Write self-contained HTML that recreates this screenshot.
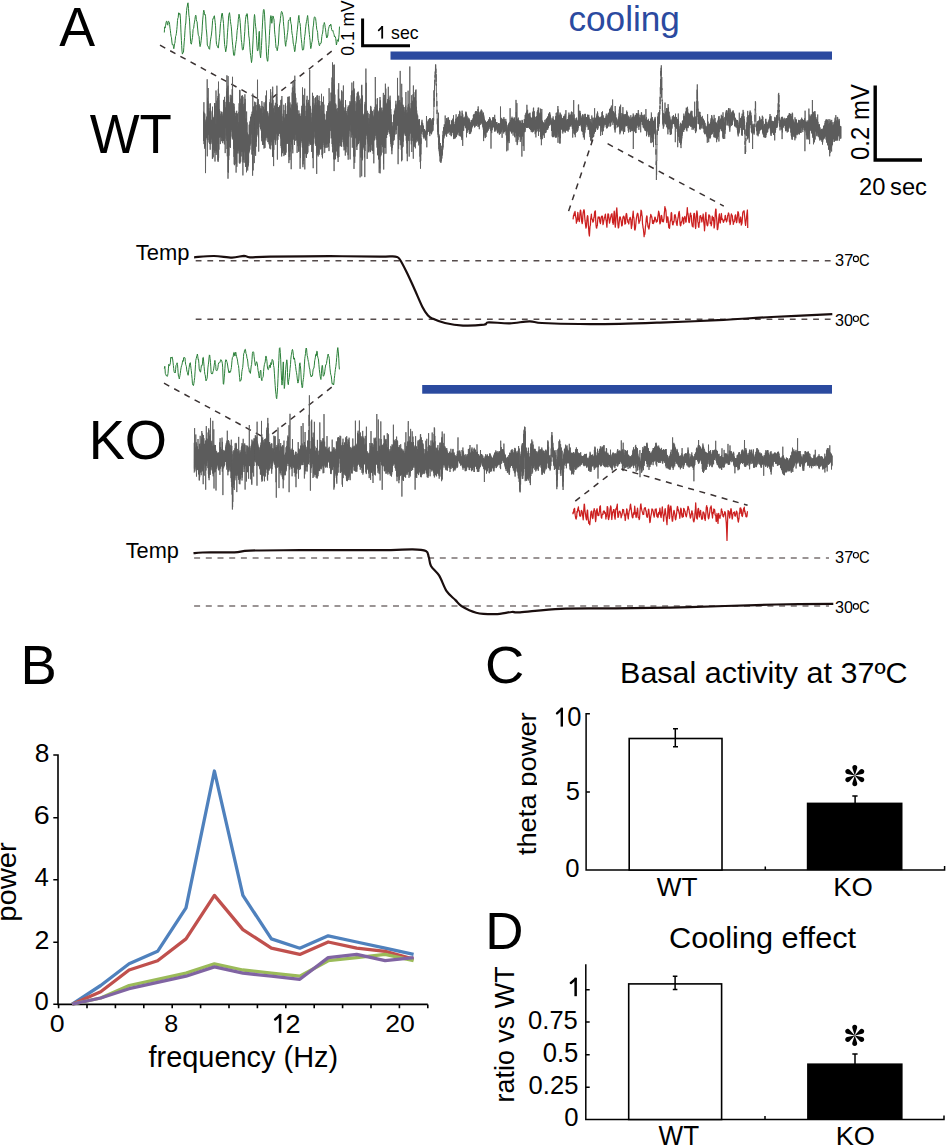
<!DOCTYPE html>
<html><head><meta charset="utf-8"><title>Figure</title>
<style>html,body{margin:0;padding:0;background:#fff;}svg{display:block;}</style></head>
<body><svg width="946" height="1146" viewBox="0 0 946 1146" font-family="'Liberation Sans', sans-serif">
<rect width="946" height="1146" fill="#fff"/>
<text transform="translate(59.23,45.5) scale(0.9773,1)" font-size="55.04" fill="#000" >A</text>
<polyline points="164.3,32.5 164.5,29.3 164.8,26.9 165.1,27.9 165.4,25.9 165.7,25.1 166.1,22.3 166.5,21.2 166.9,21.5 167.4,24.5 167.8,25.2 168.2,21.4 168.6,21.2 168.9,21.8 169.3,22.3 169.6,24.4 170.0,28.2 170.4,30.7 170.7,33.7 171.1,36.3 171.5,37.8 171.9,42.0 172.3,44.6 172.6,44.1 173.0,44.6 173.4,46.4 173.8,48.7 174.1,47.2 174.5,43.7 174.9,43.2 175.2,40.3 175.6,36.3 176.0,35.4 176.4,33.3 176.8,29.4 177.1,26.4 177.5,20.4 177.9,18.1 178.2,17.7 178.6,12.9 178.9,12.8 179.2,14.5 179.5,13.6 180.0,13.5 180.4,18.1 180.7,24.8 181.0,32.8 181.4,40.4 181.7,45.5 182.0,51.1 182.4,54.1 182.8,53.0 183.1,52.8 183.5,52.0 183.8,47.6 184.2,41.9 184.6,37.4 185.0,30.2 185.4,25.2 185.8,23.0 186.2,15.6 186.6,10.7 186.9,7.9 187.3,6.1 187.6,3.9 188.0,2.8 188.5,8.5 188.9,15.1 189.3,17.6 189.6,21.9 190.0,30.6 190.3,35.9 190.6,41.6 190.9,43.7 191.4,44.1 191.7,42.5 192.0,40.1 192.5,37.5 192.8,33.7 193.1,29.4 193.4,28.7 193.7,28.2 194.1,24.3 194.5,22.1 194.9,19.6 195.3,16.5 195.7,15.2 196.0,15.8 196.3,19.6 196.7,21.2 197.1,21.8 197.4,26.0 197.8,30.0 198.2,34.2 198.6,35.7 199.0,36.1 199.3,39.8 199.7,44.7 200.1,46.6 200.4,45.7 200.8,43.2 201.2,40.3 201.6,36.2 202.0,31.8 202.3,25.9 202.7,19.9 203.1,15.8 203.4,12.4 203.8,10.2 204.2,11.5 204.5,13.8 204.9,15.0 205.2,14.6 205.6,16.8 205.9,23.0 206.2,28.8 206.6,32.0 207.0,37.4 207.3,45.1 207.7,45.9 208.1,46.1 208.5,47.6 208.8,48.5 209.2,48.9 209.6,49.3 209.9,46.0 210.3,41.9 210.7,39.1 211.1,36.8 211.5,34.0 211.9,30.2 212.3,25.1 212.6,20.5 213.0,18.3 213.4,18.1 213.7,18.4 214.0,16.1 214.4,15.8 214.8,19.2 215.2,22.7 215.5,25.7 215.8,31.9 216.2,40.4 216.5,44.2 216.8,44.8 217.2,46.3 217.6,46.4 217.9,47.5 218.3,48.1 218.6,45.1 219.0,41.3 219.4,37.8 219.8,33.7 220.2,28.0 220.5,23.4 220.9,21.5 221.3,18.1 221.6,15.0 222.0,13.4 222.3,13.1 222.7,16.2 223.1,19.6 223.5,23.6 223.9,30.7 224.2,37.7 224.6,44.5 224.9,46.5 225.3,48.9 225.7,51.8 226.1,49.8 226.4,48.2 226.8,44.7 227.1,39.6 227.5,32.8 227.9,27.6 228.3,21.9 228.7,15.7 229.1,14.0 229.5,12.7 229.8,14.9 230.2,18.6 230.5,21.7 230.9,24.5 231.2,26.2 231.6,31.1 232.0,37.2 232.3,41.1 232.7,45.2 233.1,49.6 233.5,54.0 233.8,55.4 234.2,55.6 234.6,55.1 234.9,51.3 235.3,48.5 235.7,44.8 236.1,41.7 236.5,39.7 236.8,35.2 237.2,30.4 237.6,27.8 238.0,23.8 238.3,19.4 238.7,16.9 239.0,14.2 239.4,16.1 239.8,18.5 240.2,22.3 240.6,28.9 241.0,34.6 241.3,39.8 241.7,42.5 242.1,46.9 242.4,49.8 242.8,50.1 243.2,49.6 243.6,46.9 244.0,42.6 244.4,36.9 244.8,31.5 245.1,24.7 245.5,19.8 245.9,16.5 246.3,14.9 246.6,16.2 247.0,13.6 247.4,15.0 247.8,20.8 248.1,24.3 248.5,30.2 248.8,35.9 249.2,38.1 249.5,41.9 249.9,47.8 250.3,52.7 250.7,55.6 251.1,59.2 251.5,62.6 251.9,59.9 252.3,54.6 252.6,49.1 253.0,40.9 253.3,34.1 253.7,27.0 254.1,18.3 254.5,14.5 254.8,16.2 255.2,22.2 255.6,26.3 256.0,29.2 256.4,35.6 256.7,40.9 257.1,47.6 257.4,50.7 257.7,50.9 258.2,49.3 258.6,41.9 259.0,33.0 259.3,31.3 259.7,41.1 260.0,53.3 260.6,57.8 260.9,54.2 261.2,50.5 261.5,45.4 261.9,37.6 262.2,29.7 262.6,22.1 263.0,14.5 263.4,10.3 263.8,9.4 264.1,10.0 264.5,14.1 264.9,21.4 265.2,28.0 265.6,34.0 266.0,42.3 266.4,51.9 266.7,56.9 267.1,59.1 267.4,61.1 267.8,61.3 268.2,55.5 268.6,48.5 269.0,44.4 269.4,35.4 269.8,28.5 270.1,23.9 270.4,18.0 270.9,15.6 271.2,16.3 271.5,18.4 271.8,23.3 272.1,21.1 272.4,17.6 272.8,16.1 273.3,16.3 273.6,18.6 273.9,18.7 274.2,22.4 274.5,29.9 274.9,34.4 275.3,37.7 275.7,43.7 276.1,48.0 276.5,48.1 276.9,48.8 277.2,50.7 277.6,49.1 277.9,46.3 278.3,44.9 278.6,40.0 279.0,32.9 279.3,27.0 279.7,23.8 280.1,22.0 280.4,18.7 280.8,15.4 281.2,12.7 281.5,11.4 281.9,11.8 282.3,12.8 282.7,14.7 283.1,16.9 283.4,21.7 283.8,26.4 284.2,30.0 284.6,35.7 284.9,39.7 285.3,44.2 285.7,46.3 286.1,42.3 286.5,40.7 286.8,39.5 287.2,35.0 287.6,32.6 288.0,29.1 288.3,21.5 288.7,20.2 289.1,20.5 289.5,19.8 289.9,19.4 290.3,17.3 290.6,21.1 291.0,23.5 291.4,24.8 291.7,30.6 292.1,33.9 292.5,35.6 292.9,38.9 293.2,43.0 293.6,44.7 294.0,46.5 294.3,49.3 294.7,51.7 295.1,50.0 295.5,44.7 295.9,43.0 296.3,40.1 296.7,35.7 297.0,32.2 297.4,29.2 297.8,24.9 298.2,20.7 298.5,16.9 298.9,15.4 299.3,20.4 299.6,22.7 300.0,23.3 300.4,26.4 300.7,31.8 301.1,37.4 301.4,39.6 301.8,43.7 302.2,48.1 302.5,50.1 302.9,49.8 303.2,50.1 303.6,49.4 304.0,44.8 304.3,40.5 304.7,36.5 305.1,33.9 305.4,29.9 305.8,26.3 306.1,23.9 306.5,21.5 306.9,19.9 307.2,17.7 307.6,15.5 307.9,17.8 308.3,23.6 308.7,27.1 309.0,30.9 309.4,34.5 309.7,37.5 310.1,40.7 310.4,45.5 310.8,48.6 311.1,47.2 311.5,44.7 311.8,42.5 312.1,41.8 312.5,38.1 312.8,31.0 313.1,27.2 313.5,25.1 313.8,20.9 314.2,17.7 314.6,16.8 314.9,17.0 315.3,17.8 315.6,18.4 316.0,21.7 316.4,25.7 316.8,29.5 317.2,30.5 317.6,32.4 318.0,38.7 318.3,40.4 318.7,42.1 319.1,44.8 319.5,45.8 319.9,44.4 320.3,43.0 320.7,43.4 321.1,43.1 321.5,40.1 321.8,36.6 322.2,34.4 322.6,33.1 323.0,29.5 323.3,25.1 323.7,24.7 324.0,23.8 324.3,22.5 324.8,24.3 325.2,27.4 325.5,29.1 325.9,32.7 326.2,35.0 326.5,36.9 326.9,38.0 327.2,35.6 327.5,36.6 327.8,35.6 328.1,31.7 328.4,29.3 328.7,28.3 329.1,26.8 329.6,25.1 330.1,25.9 330.4,25.3 330.7,24.1 331.0,24.9 331.3,27.3 331.7,29.7 332.1,30.8 332.5,30.8 332.9,30.4 333.3,32.4 333.7,33.4 334.1,34.6 334.5,37.0 334.9,36.5 335.3,36.8 335.7,38.4 336.0,41.3 336.4,45.0 336.7,43.8 337.0,41.6 337.3,39.7 337.5,40.1 338.3,41.5 338.8,37.2 339.1,34.2 339.3,30.1 339.5,26.6" fill="none" stroke="#2a8038" stroke-width="1" stroke-linejoin="round"/>
<line x1="160" y1="45.2" x2="257.4" y2="98.4" stroke="#3a3232" stroke-width="1.5" stroke-dasharray="6 5.6" fill="none"/>
<line x1="331.7" y1="51.2" x2="271.5" y2="98.4" stroke="#3a3232" stroke-width="1.5" stroke-dasharray="6 5.6" fill="none"/>
<path d="M362.6,18.5 V45.8 H410" fill="none" stroke="#000" stroke-width="3"/>
<rect x="381.3" y="26" width="1.8" height="12.6" fill="#000"/><line x1="382.2" y1="26.9" x2="378.7" y2="30.4" stroke="#000" stroke-width="1.71" stroke-linecap="round"/>
<text transform="translate(391.07,38.62) scale(1.0017,1)" font-size="17.64" fill="#000" >sec</text>
<text transform="translate(354.31,55.7) rotate(-90) scale(0.9206,1)" font-size="19.01" fill="#000" >0.1 mV</text>
<text transform="translate(568.42,31.48) scale(1.0095,1)" font-size="34.87" fill="#2b4aa0" >cooling</text>
<rect x="390.5" y="51.5" width="441.5" height="8.2" fill="#2b4a9f"/>
<text transform="translate(89.74,152.8) scale(0.9497,1)" font-size="55.65" fill="#000" >WT</text>
<polyline points="203.5,135.8 203.6,111.7 203.7,141.0 203.9,102.2 204.0,144.1 204.1,112.8 204.2,139.6 204.3,115.9 204.5,147.1 204.6,114.7 204.7,148.7 204.8,113.6 204.9,146.1 205.1,121.6 205.2,145.8 205.3,124.2 205.4,140.9 205.5,173.1 205.7,141.7 205.8,129.0 205.9,139.6 206.0,119.6 206.1,136.0 206.3,120.3 206.4,137.9 206.5,121.9 206.6,137.2 206.7,116.6 206.9,137.9 207.0,118.4 207.1,133.1 207.2,79.3 207.3,156.3 207.5,97.8 207.6,134.1 207.7,101.6 207.8,140.1 207.9,100.9 208.1,133.3 208.2,88.0 208.3,135.1 208.4,109.9 208.5,132.3 208.7,114.9 208.8,130.6 208.9,108.1 209.0,142.5 209.1,111.9 209.3,140.1 209.4,115.9 209.5,144.0 209.6,112.0 209.7,142.7 209.9,110.9 210.0,143.9 210.1,103.7 210.2,149.7 210.3,103.3 210.5,141.8 210.6,113.0 210.7,144.2 210.8,111.5 210.9,143.7 211.1,122.8 211.2,138.0 211.3,119.7 211.4,135.1 211.5,120.6 211.7,135.9 211.8,121.5 211.9,139.5 212.0,121.9 212.1,142.3 212.3,110.6 212.4,158.7 212.5,106.7 212.6,158.5 212.7,117.0 212.9,157.5 213.0,117.3 213.1,156.8 213.2,118.3 213.3,149.9 213.5,125.1 213.6,142.0 213.7,129.3 213.8,147.6 213.9,118.0 214.1,141.3 214.2,116.7 214.3,145.5 214.4,114.6 214.5,150.9 214.7,103.0 214.8,152.8 214.9,103.2 215.0,161.5 215.1,105.8 215.3,150.8 215.4,126.4 215.5,143.4 215.6,123.8 215.7,150.2 215.9,130.1 216.0,90.5 216.1,130.3 216.2,154.9 216.3,126.8 216.5,150.9 216.6,125.9 216.7,100.7 216.8,118.0 216.9,152.5 217.1,119.9 217.2,142.2 217.3,106.1 217.4,139.2 217.5,98.2 217.7,143.7 217.8,108.5 217.9,160.5 218.0,96.0 218.1,161.9 218.3,88.8 218.4,160.1 218.5,81.6 218.6,157.9 218.7,100.2 218.9,149.7 219.0,93.6 219.1,137.7 219.2,109.2 219.3,137.3 219.5,111.1 219.6,134.1 219.7,113.2 219.8,133.7 219.9,110.9 220.1,134.5 220.2,122.3 220.3,144.1 220.4,122.1 220.5,137.0 220.7,115.8 220.8,133.6 220.9,113.9 221.0,136.5 221.1,116.2 221.3,138.1 221.4,119.2 221.5,137.2 221.6,111.7 221.7,141.2 221.9,111.9 222.0,134.7 222.1,117.0 222.2,141.1 222.3,117.1 222.5,135.9 222.6,116.1 222.7,143.2 222.8,115.6 222.9,138.0 223.1,114.0 223.2,139.1 223.3,112.9 223.4,140.7 223.5,99.9 223.7,141.1 223.8,109.5 223.9,140.3 224.0,114.6 224.1,138.1 224.3,107.3 224.4,144.4 224.5,96.9 224.6,138.6 224.7,104.9 224.9,138.6 225.0,101.9 225.1,132.5 225.2,153.1 225.3,128.3 225.5,108.3 225.6,128.4 225.7,110.1 225.8,124.1 225.9,107.1 226.1,127.8 226.2,108.1 226.3,135.4 226.4,95.7 226.5,128.9 226.7,91.4 226.8,140.8 226.9,75.3 227.0,149.0 227.1,88.4 227.3,156.3 227.4,94.4 227.5,146.7 227.6,87.6 227.7,148.2 227.9,85.7 228.0,178.7 228.1,76.1 228.2,172.2 228.3,96.7 228.5,172.6 228.6,96.7 228.7,160.0 228.8,109.5 228.9,155.7 229.1,106.1 229.2,140.0 229.3,102.2 229.4,133.8 229.5,106.3 229.7,139.4 229.8,112.2 229.9,147.2 230.0,104.3 230.1,146.6 230.3,94.8 230.4,147.9 230.5,99.6 230.6,139.5 230.7,104.3 230.9,136.6 231.0,98.4 231.1,128.1 231.2,99.2 231.3,126.0 231.5,98.6 231.6,130.2 231.7,95.4 231.8,130.1 231.9,104.1 232.1,132.1 232.2,89.1 232.3,138.4 232.4,95.2 232.5,76.8 232.7,110.1 232.8,139.5 232.9,105.9 233.0,137.2 233.1,105.5 233.3,133.0 233.4,103.3 233.5,146.0 233.6,106.2 233.7,149.0 233.9,106.8 234.0,156.9 234.1,103.8 234.2,164.4 234.3,123.1 234.5,165.2 234.6,111.0 234.7,163.7 234.8,120.2 234.9,156.0 235.1,128.5 235.2,159.7 235.3,112.8 235.4,159.0 235.5,127.7 235.7,159.2 235.8,116.4 235.9,164.3 236.0,116.2 236.1,172.6 236.3,113.2 236.4,159.2 236.5,121.5 236.6,162.5 236.7,110.8 236.9,166.8 237.0,127.5 237.1,146.4 237.2,113.2 237.3,150.6 237.5,114.0 237.6,153.4 237.7,127.2 237.8,147.7 237.9,126.2 238.1,143.1 238.2,126.8 238.3,143.8 238.4,126.1 238.5,149.1 238.7,122.2 238.8,151.3 238.9,111.9 239.0,153.5 239.1,103.3 239.3,162.9 239.4,106.7 239.5,161.8 239.6,89.9 239.7,163.5 239.9,90.2 240.0,163.3 240.1,103.6 240.2,155.4 240.3,103.1 240.5,156.1 240.6,109.4 240.7,161.8 240.8,98.7 240.9,149.1 241.1,113.6 241.2,156.4 241.3,106.0 241.4,146.4 241.5,95.8 241.7,151.8 241.8,100.8 241.9,140.9 242.0,118.7 242.1,152.1 242.3,111.9 242.4,148.0 242.5,95.3 242.6,150.2 242.7,106.9 242.9,175.4 243.0,96.7 243.1,162.5 243.2,103.9 243.3,159.5 243.5,111.4 243.6,152.1 243.7,110.2 243.8,159.9 243.9,106.6 244.1,152.4 244.2,124.5 244.3,149.9 244.4,111.0 244.5,150.9 244.7,102.7 244.8,162.7 244.9,94.3 245.0,147.4 245.1,98.9 245.3,102.9 245.4,163.0 245.5,166.9 245.6,119.2 245.7,154.3 245.9,118.5 246.0,158.3 246.1,126.0 246.2,162.8 246.3,124.1 246.5,172.3 246.6,111.5 246.7,163.2 246.8,132.6 246.9,164.3 247.1,122.4 247.2,168.6 247.3,132.7 247.4,162.1 247.5,134.7 247.7,170.5 247.8,136.9 247.9,166.8 248.0,136.6 248.1,162.0 248.3,134.4 248.4,165.4 248.5,138.8 248.6,162.8 248.7,135.7 248.9,153.3 249.0,137.8 249.1,151.5 249.2,124.7 249.3,151.3 249.5,125.1 249.6,149.9 249.7,125.9 249.8,149.5 249.9,121.5 250.1,145.6 250.2,124.2 250.3,143.9 250.4,120.3 250.5,135.9 250.7,116.7 250.8,131.1 250.9,117.6 251.0,131.6 251.1,116.9 251.3,134.4 251.4,114.2 251.5,131.9 251.6,117.6 251.7,138.7 251.9,154.5 252.0,131.6 252.1,111.7 252.2,143.6 252.3,115.5 252.5,155.5 252.6,175.7 252.7,155.3 252.8,93.6 252.9,148.1 253.1,110.8 253.2,170.4 253.3,113.6 253.4,150.9 253.5,106.5 253.7,136.8 253.8,107.3 253.9,147.9 254.0,122.2 254.1,153.5 254.3,163.1 254.4,153.7 254.5,122.7 254.6,101.7 254.7,115.1 254.9,154.3 255.0,112.8 255.1,137.6 255.2,105.8 255.3,147.3 255.5,110.7 255.6,155.8 255.7,102.3 255.8,147.0 255.9,114.3 256.1,146.4 256.2,104.9 256.3,133.9 256.4,115.1 256.5,141.8 256.7,113.0 256.8,136.6 256.9,111.1 257.0,125.3 257.1,110.0 257.3,127.4 257.4,104.3 257.5,79.7 257.6,97.8 257.7,128.8 257.9,102.6 258.0,135.1 258.1,113.3 258.2,133.8 258.3,99.1 258.5,138.1 258.6,106.6 258.7,151.6 258.8,106.7 258.9,120.8 259.1,106.5 259.2,122.3 259.3,104.4 259.4,114.3 259.5,107.0 259.7,122.1 259.8,107.8 259.9,123.8 260.0,105.8 260.1,127.1 260.3,108.5 260.4,127.7 260.5,111.1 260.6,129.3 260.7,110.4 260.9,127.4 261.0,111.4 261.1,128.6 261.2,114.5 261.3,131.0 261.5,114.5 261.6,137.9 261.7,108.7 261.8,140.9 261.9,101.1 262.1,136.3 262.2,105.9 262.3,142.1 262.4,116.8 262.5,141.8 262.7,116.2 262.8,144.9 262.9,113.2 263.0,144.9 263.1,118.3 263.3,144.9 263.4,120.7 263.5,140.6 263.6,106.8 263.7,142.5 263.9,112.3 264.0,148.6 264.1,102.3 264.2,143.1 264.3,114.9 264.5,134.6 264.6,115.8 264.7,147.5 264.8,109.6 264.9,148.0 265.1,109.4 265.2,134.4 265.3,103.9 265.4,135.9 265.5,101.2 265.7,138.4 265.8,95.5 265.9,140.5 266.0,103.1 266.1,128.7 266.3,106.1 266.4,137.7 266.5,90.6 266.6,133.2 266.7,114.0 266.9,133.6 267.0,116.8 267.1,134.5 267.2,112.1 267.3,132.3 267.5,117.8 267.6,137.8 267.7,111.3 267.8,142.1 267.9,113.0 268.1,134.7 268.2,116.5 268.3,139.0 268.4,121.6 268.5,138.0 268.7,116.7 268.8,142.1 268.9,123.8 269.0,144.3 269.1,114.5 269.3,142.3 269.4,118.8 269.5,144.3 269.6,104.1 269.7,148.5 269.9,102.2 270.0,145.5 270.1,102.3 270.2,140.8 270.3,99.1 270.5,138.1 270.6,89.2 270.7,149.3 270.8,95.6 270.9,138.9 271.1,106.7 271.2,142.1 271.3,106.6 271.4,139.9 271.5,103.6 271.7,137.3 271.8,110.7 271.9,145.4 272.0,102.9 272.1,142.2 272.3,92.2 272.4,144.3 272.5,91.6 272.6,156.9 272.7,86.7 272.9,156.0 273.0,100.1 273.1,147.7 273.2,108.0 273.3,157.1 273.5,109.2 273.6,166.1 273.7,118.5 273.8,149.9 273.9,119.4 274.1,131.0 274.2,113.1 274.3,138.7 274.4,105.6 274.5,128.7 274.7,112.9 274.8,140.1 274.9,112.3 275.0,137.3 275.1,114.8 275.3,142.6 275.4,102.8 275.5,134.5 275.6,106.8 275.7,144.8 275.9,110.4 276.0,140.5 276.1,107.5 276.2,132.4 276.3,95.6 276.5,129.8 276.6,96.6 276.7,134.2 276.8,98.8 276.9,85.7 277.1,96.4 277.2,138.4 277.3,108.8 277.4,159.6 277.5,104.1 277.7,134.8 277.8,107.0 277.9,139.8 278.0,109.9 278.1,135.4 278.3,107.1 278.4,135.8 278.5,110.0 278.6,128.9 278.7,107.7 278.9,132.9 279.0,113.2 279.1,133.1 279.2,111.8 279.3,133.9 279.5,106.4 279.6,131.8 279.7,105.9 279.8,127.3 279.9,105.4 280.1,133.1 280.2,112.9 280.3,136.8 280.4,111.2 280.5,136.9 280.7,112.7 280.8,138.5 280.9,100.1 281.0,146.0 281.1,110.4 281.3,148.2 281.4,99.3 281.5,155.3 281.6,113.5 281.7,156.5 281.9,96.0 282.0,148.5 282.1,116.3 282.2,152.8 282.3,121.0 282.5,147.1 282.6,122.7 282.7,153.2 282.8,127.2 282.9,144.7 283.1,122.8 283.2,146.3 283.3,113.9 283.4,149.8 283.5,122.3 283.7,151.1 283.8,104.8 283.9,156.1 284.0,110.1 284.1,150.9 284.3,128.4 284.4,154.5 284.5,124.4 284.6,154.2 284.7,117.6 284.9,153.3 285.0,119.0 285.1,146.9 285.2,119.0 285.3,154.8 285.5,103.3 285.6,154.8 285.7,105.8 285.8,143.2 285.9,118.5 286.1,152.6 286.2,117.7 286.3,144.1 286.4,114.0 286.5,136.5 286.7,120.0 286.8,143.5 286.9,115.1 287.0,141.7 287.1,114.4 287.3,140.2 287.4,110.6 287.5,140.8 287.6,105.1 287.7,143.8 287.9,96.9 288.0,143.3 288.1,101.9 288.2,138.6 288.3,96.8 288.5,143.5 288.6,102.3 288.7,151.5 288.8,108.5 288.9,163.1 289.1,103.5 289.2,157.0 289.3,96.4 289.4,142.6 289.5,114.5 289.7,156.5 289.8,104.3 289.9,160.1 290.0,102.4 290.1,151.6 290.3,109.9 290.4,137.8 290.5,107.7 290.6,141.7 290.7,110.7 290.9,134.4 291.0,109.4 291.1,138.1 291.2,169.2 291.3,145.8 291.5,117.0 291.6,143.8 291.7,104.5 291.8,142.8 291.9,115.2 292.1,144.9 292.2,92.6 292.3,147.0 292.4,87.5 292.5,149.4 292.7,91.6 292.8,153.3 292.9,89.2 293.0,81.3 293.1,84.3 293.3,138.9 293.4,102.7 293.5,128.9 293.6,91.2 293.7,139.7 293.9,102.3 294.0,124.7 294.1,86.0 294.2,137.4 294.3,81.7 294.5,145.0 294.6,88.1 294.7,131.4 294.8,75.7 294.9,130.3 295.1,96.0 295.2,133.7 295.3,93.5 295.4,140.7 295.5,99.0 295.7,131.4 295.8,97.8 295.9,134.6 296.0,112.9 296.1,134.6 296.3,104.1 296.4,140.3 296.5,110.2 296.6,137.9 296.7,113.2 296.9,140.1 297.0,102.6 297.1,152.9 297.2,105.6 297.3,142.7 297.5,114.3 297.6,143.4 297.7,110.1 297.8,146.2 297.9,114.3 298.1,140.6 298.2,114.4 298.3,142.3 298.4,117.0 298.5,150.2 298.7,114.5 298.8,151.9 298.9,110.5 299.0,151.4 299.1,114.5 299.3,145.6 299.4,114.8 299.5,145.6 299.6,114.4 299.7,140.6 299.9,113.4 300.0,148.3 300.1,168.8 300.2,148.3 300.3,116.5 300.5,158.1 300.6,115.9 300.7,147.4 300.8,124.4 300.9,143.1 301.1,121.9 301.2,141.3 301.3,118.1 301.4,138.2 301.5,113.8 301.7,130.1 301.8,105.8 301.9,128.7 302.0,109.6 302.1,141.2 302.3,107.9 302.4,145.3 302.5,87.4 302.6,147.8 302.7,95.6 302.9,167.2 303.0,105.9 303.1,164.4 303.2,94.9 303.3,144.7 303.5,112.5 303.6,150.4 303.7,160.7 303.8,148.7 303.9,104.1 304.1,149.5 304.2,103.5 304.3,141.9 304.4,110.7 304.5,153.6 304.7,88.6 304.8,169.4 304.9,105.8 305.0,148.1 305.1,120.3 305.3,146.5 305.4,118.3 305.5,153.6 305.6,116.0 305.7,140.5 305.9,120.9 306.0,152.5 306.1,110.9 306.2,157.5 306.3,120.3 306.5,157.9 306.6,99.8 306.7,145.9 306.8,119.6 306.9,150.2 307.1,95.8 307.2,151.4 307.3,109.2 307.4,154.1 307.5,111.1 307.7,140.0 307.8,102.8 307.9,152.5 308.0,109.3 308.1,140.7 308.3,112.2 308.4,140.1 308.5,102.3 308.6,136.2 308.7,99.9 308.9,146.1 309.0,107.6 309.1,143.8 309.2,108.9 309.3,141.9 309.5,104.4 309.6,141.5 309.7,69.8 309.8,131.3 309.9,105.8 310.1,142.5 310.2,110.1 310.3,144.9 310.4,106.4 310.5,141.6 310.7,108.7 310.8,144.3 310.9,123.0 311.0,143.8 311.1,117.3 311.3,144.1 311.4,123.1 311.5,144.6 311.6,121.8 311.7,151.9 311.9,112.8 312.0,138.5 312.1,122.7 312.2,138.2 312.3,110.4 312.5,92.8 312.6,101.7 312.7,158.1 312.8,102.9 312.9,144.8 313.1,113.3 313.2,168.2 313.3,95.9 313.4,139.0 313.5,115.4 313.7,144.2 313.8,112.7 313.9,138.7 314.0,106.8 314.1,132.2 314.3,109.5 314.4,128.0 314.5,108.9 314.6,125.6 314.7,104.8 314.9,137.4 315.0,98.2 315.1,129.8 315.2,103.1 315.3,142.8 315.5,97.3 315.6,144.2 315.7,97.9 315.8,145.9 315.9,102.2 316.1,140.0 316.2,105.3 316.3,144.2 316.4,107.9 316.5,148.9 316.7,173.9 316.8,153.8 316.9,95.7 317.0,152.8 317.1,110.2 317.3,147.0 317.4,95.2 317.5,146.4 317.6,98.1 317.7,155.2 317.9,104.1 318.0,143.7 318.1,103.7 318.2,156.5 318.3,100.1 318.5,153.5 318.6,108.1 318.7,149.1 318.8,110.7 318.9,152.6 319.1,95.8 319.2,154.7 319.3,106.1 319.4,147.9 319.5,107.8 319.7,138.0 319.8,101.0 319.9,140.6 320.0,109.3 320.1,145.4 320.3,105.5 320.4,149.4 320.5,115.8 320.6,148.5 320.7,114.1 320.9,148.7 321.0,115.9 321.1,145.7 321.2,114.0 321.3,139.3 321.5,93.8 321.6,144.8 321.7,112.6 321.8,149.2 321.9,110.5 322.1,155.0 322.2,112.4 322.3,156.9 322.4,101.9 322.5,158.3 322.7,112.1 322.8,153.6 322.9,111.0 323.0,145.0 323.1,112.0 323.3,142.8 323.4,113.3 323.5,96.5 323.6,112.7 323.7,140.2 323.9,104.6 324.0,140.5 324.1,113.9 324.2,147.2 324.3,113.9 324.5,142.3 324.6,113.9 324.7,152.9 324.8,119.1 324.9,146.8 325.1,127.1 325.2,148.1 325.3,122.9 325.4,144.3 325.5,121.3 325.7,141.2 325.8,120.1 325.9,136.5 326.0,120.1 326.1,138.5 326.3,114.5 326.4,144.7 326.5,124.1 326.6,143.6 326.7,111.2 326.9,147.8 327.0,112.8 327.1,147.4 327.2,114.8 327.3,143.9 327.5,110.9 327.6,131.8 327.7,105.5 327.8,136.4 327.9,108.7 328.1,135.9 328.2,113.9 328.3,134.2 328.4,112.9 328.5,146.9 328.7,103.1 328.8,143.4 328.9,106.7 329.0,151.1 329.1,88.2 329.3,139.8 329.4,105.1 329.5,142.7 329.6,101.5 329.7,130.9 329.9,113.6 330.0,130.1 330.1,111.6 330.2,128.5 330.3,103.7 330.5,124.7 330.6,107.4 330.7,127.2 330.8,101.3 330.9,131.1 331.1,92.6 331.2,138.4 331.3,92.8 331.4,135.5 331.5,103.0 331.7,119.6 331.8,93.4 331.9,137.8 332.0,77.5 332.1,144.0 332.3,82.1 332.4,146.8 332.5,62.4 332.6,152.3 332.7,95.9 332.9,123.8 333.0,79.4 333.1,140.8 333.2,93.4 333.3,137.9 333.5,87.8 333.6,145.0 333.7,88.0 333.8,159.3 333.9,65.0 334.1,171.1 334.2,64.5 334.3,153.3 334.4,84.5 334.5,152.9 334.7,159.9 334.8,140.7 334.9,94.6 335.0,142.2 335.1,106.9 335.3,149.2 335.4,106.7 335.5,159.1 335.6,103.5 335.7,155.6 335.9,104.7 336.0,151.7 336.1,110.4 336.2,151.1 336.3,109.0 336.5,142.5 336.6,112.7 336.7,143.7 336.8,111.5 336.9,144.3 337.1,125.0 337.2,146.0 337.3,108.1 337.4,155.6 337.5,114.9 337.7,155.0 337.8,112.0 337.9,157.7 338.0,111.4 338.1,162.0 338.3,89.3 338.4,148.6 338.5,90.1 338.6,148.1 338.7,83.2 338.9,157.0 339.0,110.1 339.1,146.4 339.2,101.9 339.3,142.6 339.5,114.0 339.6,142.9 339.7,98.7 339.8,138.1 339.9,107.9 340.1,137.3 340.2,106.4 340.3,146.1 340.4,101.4 340.5,139.5 340.7,108.2 340.8,134.2 340.9,109.9 341.0,144.2 341.1,100.2 341.3,146.5 341.4,107.1 341.5,141.3 341.6,90.4 341.7,146.7 341.9,100.3 342.0,142.2 342.1,91.5 342.2,139.6 342.3,104.2 342.5,136.5 342.6,109.3 342.7,129.0 342.8,106.1 342.9,135.4 343.1,108.0 343.2,134.8 343.3,108.7 343.4,85.5 343.5,105.8 343.7,144.4 343.8,107.9 343.9,146.7 344.0,107.3 344.1,150.4 344.3,112.5 344.4,141.1 344.5,114.0 344.6,141.3 344.7,110.8 344.9,141.9 345.0,111.5 345.1,150.0 345.2,109.8 345.3,155.6 345.5,100.1 345.6,139.6 345.7,104.7 345.8,149.2 345.9,114.5 346.1,152.4 346.2,111.0 346.3,139.9 346.4,113.2 346.5,146.3 346.7,122.2 346.8,142.1 346.9,121.0 347.0,139.8 347.1,117.2 347.3,143.7 347.4,117.6 347.5,139.4 347.6,115.4 347.7,147.1 347.9,108.9 348.0,155.2 348.1,107.1 348.2,159.7 348.3,105.5 348.5,138.1 348.6,107.7 348.7,133.9 348.8,109.7 348.9,136.6 349.1,112.8 349.2,129.9 349.3,106.9 349.4,127.1 349.5,105.1 349.7,126.4 349.8,110.5 349.9,130.9 350.0,101.1 350.1,159.4 350.3,102.5 350.4,123.4 350.5,103.1 350.6,117.8 350.7,108.1 350.9,124.9 351.0,103.0 351.1,132.2 351.2,95.2 351.3,137.5 351.5,98.1 351.6,130.7 351.7,91.3 351.8,132.2 351.9,82.6 352.1,134.9 352.2,90.4 352.3,147.7 352.4,105.3 352.5,134.2 352.7,107.8 352.8,135.2 352.9,105.9 353.0,133.7 353.1,101.0 353.3,143.9 353.4,94.4 353.5,149.3 353.6,81.3 353.7,156.5 353.9,89.5 354.0,168.9 354.1,88.5 354.2,143.7 354.3,93.4 354.5,155.3 354.6,97.6 354.7,162.9 354.8,103.6 354.9,156.6 355.1,101.2 355.2,135.1 355.3,112.3 355.4,136.3 355.5,111.3 355.7,138.2 355.8,111.9 355.9,133.8 356.0,113.4 356.1,137.8 356.3,110.7 356.4,138.9 356.5,108.0 356.6,146.9 356.7,102.5 356.9,150.0 357.0,96.4 357.1,132.5 357.2,93.2 357.3,128.1 357.5,92.8 357.6,145.4 357.7,92.4 357.8,127.8 357.9,100.4 358.1,127.8 358.2,91.6 358.3,143.6 358.4,93.6 358.5,143.9 358.7,96.6 358.8,137.5 358.9,95.5 359.0,142.9 359.1,101.5 359.3,136.3 359.4,102.3 359.5,128.2 359.6,100.0 359.7,140.7 359.9,112.9 360.0,138.2 360.1,177.4 360.2,150.2 360.3,104.9 360.5,143.6 360.6,103.7 360.7,145.5 360.8,98.6 360.9,157.5 361.1,110.3 361.2,153.1 361.3,105.3 361.4,157.4 361.5,85.7 361.7,176.3 361.8,84.8 361.9,156.9 362.0,118.6 362.1,154.6 362.3,97.5 362.4,160.3 362.5,95.5 362.6,158.5 362.7,113.3 362.9,142.1 363.0,114.4 363.1,147.0 363.2,118.2 363.3,140.7 363.5,115.6 363.6,147.6 363.7,126.5 363.8,141.1 363.9,122.5 364.1,149.6 364.2,114.1 364.3,147.0 364.4,115.9 364.5,157.4 364.7,112.0 364.8,177.1 364.9,104.4 365.0,151.0 365.1,101.9 365.3,144.7 365.4,111.7 365.5,144.3 365.6,103.3 365.7,138.9 365.9,68.6 366.0,134.5 366.1,111.2 366.2,82.8 366.3,116.3 366.5,134.1 366.6,113.7 366.7,131.0 366.8,120.0 366.9,135.8 367.1,115.6 367.2,158.9 367.3,110.8 367.4,139.7 367.5,114.8 367.7,139.2 367.8,112.8 367.9,142.1 368.0,113.3 368.1,144.2 368.3,118.0 368.4,141.4 368.5,126.3 368.6,152.1 368.7,123.8 368.9,152.3 369.0,128.4 369.1,150.8 369.2,126.9 369.3,140.7 369.5,128.8 369.6,146.4 369.7,118.7 369.8,140.9 369.9,114.0 370.1,141.9 370.2,115.6 370.3,139.5 370.4,111.3 370.5,152.1 370.7,105.9 370.8,150.3 370.9,106.9 371.0,137.6 371.1,111.5 371.3,144.7 371.4,109.8 371.5,137.1 371.6,118.6 371.7,140.0 371.9,118.6 372.0,150.4 372.1,120.2 372.2,143.9 372.3,113.6 372.5,150.7 372.6,111.1 372.7,150.8 372.8,127.1 372.9,144.2 373.1,115.5 373.2,153.9 373.3,119.0 373.4,145.8 373.5,117.4 373.7,143.7 373.8,163.3 373.9,152.8 374.0,109.6 374.1,140.0 374.3,116.4 374.4,139.4 374.5,113.5 374.6,140.4 374.7,112.6 374.9,138.4 375.0,106.9 375.1,132.4 375.2,99.2 375.3,77.0 375.5,99.9 375.6,132.4 375.7,99.1 375.8,135.9 375.9,105.8 376.1,134.8 376.2,109.0 376.3,139.8 376.4,108.8 376.5,131.1 376.7,108.9 376.8,131.9 376.9,104.4 377.0,147.6 377.1,110.7 377.3,145.2 377.4,98.1 377.5,154.9 377.6,116.3 377.7,153.5 377.9,110.8 378.0,155.5 378.1,122.9 378.2,153.2 378.3,119.6 378.5,154.1 378.6,121.8 378.7,159.0 378.8,111.9 378.9,159.7 379.1,111.4 379.2,172.9 379.3,110.3 379.4,153.2 379.5,108.3 379.7,168.4 379.8,108.8 379.9,148.2 380.0,97.0 380.1,173.4 380.3,100.3 380.4,155.4 380.5,115.7 380.6,156.5 380.7,107.4 380.9,154.1 381.0,108.4 381.1,155.3 381.2,111.9 381.3,140.3 381.5,113.4 381.6,144.7 381.7,111.8 381.8,135.1 381.9,107.7 382.1,144.5 382.2,111.6 382.3,137.3 382.4,112.6 382.5,146.9 382.7,115.1 382.8,143.8 382.9,110.2 383.0,152.6 383.1,106.1 383.3,94.6 383.4,92.9 383.5,163.7 383.6,109.6 383.7,169.5 383.9,98.2 384.0,154.1 384.1,107.7 384.2,146.6 384.3,101.6 384.5,145.9 384.6,94.9 384.7,141.7 384.8,112.9 384.9,147.8 385.1,118.8 385.2,148.0 385.3,110.4 385.4,83.7 385.5,112.3 385.7,131.2 385.8,88.6 385.9,153.7 386.0,108.7 386.1,137.8 386.3,107.4 386.4,129.7 386.5,103.6 386.6,137.8 386.7,111.0 386.9,128.4 387.0,110.9 387.1,127.7 387.2,102.5 387.3,135.0 387.5,101.2 387.6,132.4 387.7,99.1 387.8,126.3 387.9,101.6 388.1,129.1 388.2,102.3 388.3,86.8 388.4,107.8 388.5,130.1 388.7,109.9 388.8,126.4 388.9,97.4 389.0,132.2 389.1,100.5 389.3,133.8 389.4,104.2 389.5,125.7 389.6,106.0 389.7,132.2 389.9,100.1 390.0,128.3 390.1,95.7 390.2,136.5 390.3,101.8 390.5,142.0 390.6,112.0 390.7,141.5 390.8,109.0 390.9,144.0 391.1,123.6 391.2,146.8 391.3,114.5 391.4,145.4 391.5,128.8 391.7,150.6 391.8,122.4 391.9,154.2 392.0,122.1 392.1,148.1 392.3,129.8 392.4,146.1 392.5,126.4 392.6,144.4 392.7,131.1 392.9,145.1 393.0,129.8 393.1,140.0 393.2,125.3 393.3,139.2 393.5,127.6 393.6,140.9 393.7,114.5 393.8,138.7 393.9,115.0 394.1,140.1 394.2,119.7 394.3,135.3 394.4,110.6 394.5,137.0 394.7,113.0 394.8,131.6 394.9,115.1 395.0,134.7 395.1,108.5 395.3,127.2 395.4,110.8 395.5,129.6 395.6,104.8 395.7,126.5 395.9,100.8 396.0,121.9 396.1,104.5 396.2,134.2 396.3,109.4 396.5,130.0 396.6,110.5 396.7,125.8 396.8,108.0 396.9,124.7 397.1,106.7 397.2,125.9 397.3,103.1 397.4,124.9 397.5,77.9 397.7,124.8 397.8,100.1 397.9,124.8 398.0,104.3 398.1,164.2 398.3,101.2 398.4,138.9 398.5,102.0 398.6,148.9 398.7,95.7 398.9,126.4 399.0,107.9 399.1,135.8 399.2,101.2 399.3,125.4 399.5,109.6 399.6,136.5 399.7,100.0 399.8,140.1 399.9,102.3 400.1,134.3 400.2,70.9 400.3,145.2 400.4,107.6 400.5,140.2 400.7,114.8 400.8,139.3 400.9,110.8 401.0,140.6 401.1,102.5 401.3,149.9 401.4,114.2 401.5,136.3 401.6,161.3 401.7,83.8 401.9,116.0 402.0,160.2 402.1,97.4 402.2,147.3 402.3,110.2 402.5,147.5 402.6,111.8 402.7,146.8 402.8,104.6 402.9,146.7 403.1,105.4 403.2,141.7 403.3,113.4 403.4,133.2 403.5,109.5 403.7,132.4 403.8,107.1 403.9,127.1 404.0,107.2 404.1,134.5 404.3,116.3 404.4,131.1 404.5,116.2 404.6,128.8 404.7,111.6 404.9,133.2 405.0,116.1 405.1,131.8 405.2,109.9 405.3,135.9 405.5,108.0 405.6,129.0 405.7,105.7 405.8,135.3 405.9,92.0 406.1,133.7 406.2,109.9 406.3,140.7 406.4,113.2 406.5,140.9 406.7,120.4 406.8,143.3 406.9,116.5 407.0,153.6 407.1,118.0 407.3,161.2 407.4,112.4 407.5,147.7 407.6,115.8 407.7,141.1 407.9,107.4 408.0,130.1 408.1,90.7 408.2,132.0 408.3,104.9 408.5,139.5 408.6,103.8 408.7,134.8 408.8,115.4 408.9,141.0 409.1,109.6 409.2,156.6 409.3,106.6 409.4,135.9 409.5,110.0 409.7,130.2 409.8,66.5 409.9,127.5 410.0,107.9 410.1,128.0 410.3,111.9 410.4,133.6 410.5,116.8 410.6,127.8 410.7,111.7 410.9,132.3 411.0,109.0 411.1,140.7 411.2,103.0 411.3,144.4 411.5,106.5 411.6,135.9 411.7,95.2 411.8,152.0 411.9,113.9 412.1,141.1 412.2,100.7 412.3,137.7 412.4,106.7 412.5,137.2 412.7,101.5 412.8,136.3 412.9,101.8 413.0,135.2 413.1,94.2 413.3,158.7 413.4,85.5 413.5,144.6 413.6,98.9 413.7,137.9 413.9,105.7 414.0,146.2 414.1,97.3 414.2,146.9 414.3,97.5 414.5,144.1 414.6,99.9 414.7,141.4 414.8,106.0 414.9,142.5 415.1,92.2 415.2,135.1 415.3,104.5 415.4,148.3 415.5,90.4 415.7,135.6 415.8,100.6 415.9,141.4 416.0,89.5 416.1,142.5 416.3,106.8 416.4,140.0 416.5,115.0 416.6,138.4 416.7,110.5 416.9,139.2 417.0,113.6 417.1,132.7 417.2,115.7 417.3,137.6 417.5,122.2 417.6,141.4 417.7,115.5 417.8,136.8 417.9,119.8 418.1,139.6 418.2,123.5 418.3,138.7 418.4,120.7 418.5,140.3 418.7,123.5 418.8,145.4 418.9,120.2 419.0,143.1 419.1,119.1 419.3,139.6 419.4,119.1 419.5,142.3 419.6,124.9 419.7,143.8 419.9,128.8 420.0,156.6 420.1,138.6 420.2,162.1 420.3,125.4 420.5,168.7 420.6,153.4 420.7,160.9 420.8,143.3 420.9,154.4 421.1,138.3 421.2,143.7 421.3,129.4 421.4,133.8 421.5,125.8 421.7,131.7 421.8,121.7 421.9,127.8 422.0,119.8 422.1,128.4 422.3,123.0 422.4,130.9 422.5,124.3 422.6,131.3 422.7,123.2 422.9,131.9 423.0,125.5 423.1,134.7 423.2,126.8 423.3,136.9 423.5,125.8 423.6,136.3 423.7,131.1 423.8,138.5 423.9,129.2 424.1,134.6 424.2,130.7 424.3,137.2 424.4,129.0 424.5,135.9 424.7,131.2 424.8,136.9 424.9,129.9 425.0,137.6 425.1,132.8 425.3,139.2 425.4,131.2 425.5,140.4 425.6,132.7 425.7,139.0 425.9,132.0 426.0,139.8 426.1,131.5 426.2,138.1 426.3,127.4 426.5,116.0 426.6,126.2 426.7,135.8 426.8,147.3 426.9,135.4 427.1,129.7 427.2,134.7 427.3,126.9 427.4,132.5 427.5,124.9 427.7,131.9 427.8,121.4 427.9,130.8 428.0,121.6 428.1,130.3 428.3,119.6 428.4,129.7 428.5,120.6 428.6,131.9 428.7,121.6 428.9,127.7 429.0,121.5 429.1,129.2 429.2,119.3 429.3,129.5 429.5,120.7 429.6,133.6 429.7,118.1 429.8,136.1 429.9,118.5 430.1,132.8 430.2,121.7 430.3,133.4 430.4,118.3 430.5,130.8 430.7,122.9 430.8,131.6 430.9,121.1 431.0,132.8 431.1,123.9 431.3,130.7 431.4,122.1 431.5,134.3 431.6,122.1 431.7,133.3 431.9,119.5 432.0,131.7 432.1,120.5 432.2,131.3 432.3,119.1 432.5,130.0 432.6,118.1 432.7,130.9 432.8,119.9 432.9,130.5 433.1,122.3 433.2,125.0 433.3,120.2 433.4,124.2 433.5,117.9 433.7,120.6 433.8,110.2 433.9,90.4 434.0,102.0 434.1,106.9 434.3,98.2 434.4,100.7 434.5,85.2 434.6,90.8 434.7,79.8 434.9,84.7 435.0,75.1 435.1,77.7 435.2,71.5 435.3,75.0 435.5,64.7 435.6,73.1 435.7,64.5 435.8,73.2 435.9,68.7 436.1,81.8 436.2,74.2 436.3,85.8 436.4,83.7 436.5,96.6 436.7,93.1 436.8,106.3 436.9,101.1 437.0,113.9 437.1,109.8 437.3,124.3 437.4,118.6 437.5,126.9 437.6,121.1 437.7,132.1 437.9,125.1 438.0,134.7 438.1,125.6 438.2,137.4 438.3,130.3 438.5,112.7 438.6,132.6 438.7,144.7 438.8,134.0 438.9,149.2 439.1,139.5 439.2,151.3 439.3,135.6 439.4,153.7 439.5,137.4 439.7,155.4 439.8,143.3 439.9,156.3 440.0,143.2 440.1,161.5 440.3,143.1 440.4,161.7 440.5,150.0 440.6,159.8 440.7,152.5 440.9,163.0 441.0,154.4 441.1,160.2 441.2,154.0 441.3,161.4 441.5,152.1 441.6,158.4 441.7,149.1 441.8,158.5 441.9,146.1 442.1,155.7 442.2,145.7 442.3,152.5 442.4,145.0 442.5,154.5 442.7,138.5 442.8,149.6 442.9,134.9 443.0,147.4 443.1,131.2 443.3,141.6 443.4,130.3 443.5,142.9 443.6,127.2 443.7,139.0 443.9,128.4 444.0,137.7 444.1,127.4 444.2,136.1 444.3,124.4 444.5,135.5 444.6,125.7 444.7,132.5 444.8,124.8 444.9,132.9 445.1,123.8 445.2,115.5 445.3,125.7 445.4,134.1 445.5,123.4 445.7,131.3 445.8,122.2 445.9,131.7 446.0,121.7 446.1,135.3 446.3,121.1 446.4,135.9 446.5,118.4 446.6,136.7 446.7,119.3 446.9,131.8 447.0,118.0 447.1,131.0 447.2,123.0 447.3,130.6 447.5,120.5 447.6,130.9 447.7,121.2 447.8,133.8 447.9,120.2 448.1,133.1 448.2,117.1 448.3,130.0 448.4,118.2 448.5,130.1 448.7,123.3 448.8,132.2 448.9,122.0 449.0,127.7 449.1,121.8 449.3,130.0 449.4,121.7 449.5,131.9 449.6,119.9 449.7,130.4 449.9,125.6 450.0,135.0 450.1,124.5 450.2,131.6 450.3,126.2 450.5,133.4 450.6,126.5 450.7,131.4 450.8,124.6 450.9,132.1 451.1,126.0 451.2,136.2 451.3,124.8 451.4,136.1 451.5,120.4 451.7,130.5 451.8,121.2 451.9,132.4 452.0,122.9 452.1,132.7 452.3,121.8 452.4,130.0 452.5,122.8 452.6,132.5 452.7,118.7 452.9,130.3 453.0,120.4 453.1,131.3 453.2,119.8 453.3,134.9 453.5,115.2 453.6,137.0 453.7,124.4 453.8,139.1 453.9,124.2 454.1,138.9 454.2,127.6 454.3,136.6 454.4,127.7 454.5,136.9 454.7,124.3 454.8,138.0 454.9,124.7 455.0,135.7 455.1,121.7 455.3,136.9 455.4,124.2 455.5,138.3 455.6,121.3 455.7,136.4 455.9,119.0 456.0,136.0 456.1,114.3 456.2,136.9 456.3,118.2 456.5,137.1 456.6,119.0 456.7,132.6 456.8,119.1 456.9,131.5 457.1,120.5 457.2,129.0 457.3,121.3 457.4,133.9 457.5,117.4 457.7,129.1 457.8,116.9 457.9,135.2 458.0,120.2 458.1,132.0 458.3,116.1 458.4,131.5 458.5,117.5 458.6,130.3 458.7,118.5 458.9,132.9 459.0,114.3 459.1,129.5 459.2,114.1 459.3,135.9 459.5,115.2 459.6,129.5 459.7,110.8 459.8,129.6 459.9,111.8 460.1,135.4 460.2,115.7 460.3,136.5 460.4,119.4 460.5,134.8 460.7,117.2 460.8,134.5 460.9,117.7 461.0,136.2 461.1,121.0 461.3,134.5 461.4,116.2 461.5,138.2 461.6,116.8 461.7,137.9 461.9,140.0 462.0,140.1 462.1,110.7 462.2,137.8 462.3,112.9 462.5,134.9 462.6,122.3 462.7,145.9 462.8,114.4 462.9,130.8 463.1,117.2 463.2,130.3 463.3,118.1 463.4,129.9 463.5,119.0 463.7,130.7 463.8,118.1 463.9,125.3 464.0,118.1 464.1,123.9 464.3,118.5 464.4,123.5 464.5,117.9 464.6,125.1 464.7,117.9 464.9,126.1 465.0,116.6 465.1,124.7 465.2,117.2 465.3,127.7 465.5,113.9 465.6,123.4 465.7,112.6 465.8,125.2 465.9,111.6 466.1,128.2 466.2,114.6 466.3,128.6 466.4,112.5 466.5,137.3 466.7,114.6 466.8,132.5 466.9,118.4 467.0,133.0 467.1,116.2 467.3,130.5 467.4,119.7 467.5,130.8 467.6,122.0 467.7,127.5 467.9,121.1 468.0,127.1 468.1,117.5 468.2,126.7 468.3,119.1 468.5,129.8 468.6,119.6 468.7,129.2 468.8,118.8 468.9,129.1 469.1,118.5 469.2,131.8 469.3,120.9 469.4,134.0 469.5,124.9 469.7,134.1 469.8,120.1 469.9,131.1 470.0,121.9 470.1,132.2 470.3,125.6 470.4,131.5 470.5,123.4 470.6,133.6 470.7,123.3 470.9,132.2 471.0,122.3 471.1,131.4 471.2,123.1 471.3,130.5 471.5,120.7 471.6,127.1 471.7,119.9 471.8,128.5 471.9,120.7 472.1,126.9 472.2,121.0 472.3,127.2 472.4,120.0 472.5,126.5 472.7,119.4 472.8,124.1 472.9,120.0 473.0,125.4 473.1,118.0 473.3,124.5 473.4,115.0 473.5,124.5 473.6,114.9 473.7,122.5 473.9,116.6 474.0,126.1 474.1,114.2 474.2,124.0 474.3,113.9 474.5,127.3 474.6,118.9 474.7,127.3 474.8,117.4 474.9,124.6 475.1,115.4 475.2,126.5 475.3,111.9 475.4,119.9 475.5,111.3 475.7,123.7 475.8,113.6 475.9,125.2 476.0,112.6 476.1,124.1 476.3,111.0 476.4,125.4 476.5,112.3 476.6,125.8 476.7,115.1 476.9,124.1 477.0,114.4 477.1,123.1 477.2,114.2 477.3,123.6 477.5,113.3 477.6,121.5 477.7,112.0 477.8,124.4 477.9,109.0 478.1,127.0 478.2,106.4 478.3,126.3 478.4,113.3 478.5,122.9 478.7,112.1 478.8,124.3 478.9,111.7 479.0,123.7 479.1,117.5 479.3,129.2 479.4,120.9 479.5,125.7 479.6,115.3 479.7,125.1 479.9,114.8 480.0,123.2 480.1,113.1 480.2,124.9 480.3,112.3 480.5,123.2 480.6,111.5 480.7,122.0 480.8,113.3 480.9,120.6 481.1,110.6 481.2,121.4 481.3,109.5 481.4,123.3 481.5,110.8 481.7,121.5 481.8,110.5 481.9,123.4 482.0,111.4 482.1,124.4 482.3,114.2 482.4,121.4 482.5,113.6 482.6,122.3 482.7,116.3 482.9,127.4 483.0,118.0 483.1,126.4 483.2,116.9 483.3,129.6 483.5,112.6 483.6,141.1 483.7,114.9 483.8,137.6 483.9,116.5 484.1,132.6 484.2,118.8 484.3,126.7 484.4,118.9 484.5,129.9 484.7,120.7 484.8,134.3 484.9,120.7 485.0,135.7 485.1,120.6 485.3,138.1 485.4,123.9 485.5,134.7 485.6,121.3 485.7,132.5 485.9,122.3 486.0,137.0 486.1,124.0 486.2,132.5 486.3,122.2 486.5,130.8 486.6,123.7 486.7,130.6 486.8,122.5 486.9,132.3 487.1,123.2 487.2,132.3 487.3,122.7 487.4,129.9 487.5,124.5 487.7,129.7 487.8,120.9 487.9,130.8 488.0,121.3 488.1,130.4 488.3,121.0 488.4,127.3 488.5,119.5 488.6,128.1 488.7,120.2 488.9,126.3 489.0,121.3 489.1,129.1 489.2,119.6 489.3,127.1 489.5,117.3 489.6,125.9 489.7,117.3 489.8,125.3 489.9,119.7 490.1,127.3 490.2,119.1 490.3,127.1 490.4,118.7 490.5,126.8 490.7,120.4 490.8,130.9 490.9,120.8 491.0,148.6 491.1,123.6 491.3,130.0 491.4,123.3 491.5,132.0 491.6,124.7 491.7,133.1 491.9,120.9 492.0,126.9 492.1,122.9 492.2,130.2 492.3,120.0 492.5,127.7 492.6,120.2 492.7,126.0 492.8,117.3 492.9,126.3 493.1,118.5 493.2,126.2 493.3,117.0 493.4,127.1 493.5,119.6 493.7,126.3 493.8,117.9 493.9,127.0 494.0,119.8 494.1,127.7 494.3,119.5 494.4,128.7 494.5,118.1 494.6,130.8 494.7,114.8 494.9,131.9 495.0,118.9 495.1,130.0 495.2,121.1 495.3,129.7 495.5,119.4 495.6,130.3 495.7,123.9 495.8,130.6 495.9,122.2 496.1,128.8 496.2,122.6 496.3,128.2 496.4,122.7 496.5,127.1 496.7,122.2 496.8,126.6 496.9,122.3 497.0,130.1 497.1,124.7 497.3,131.8 497.4,124.6 497.5,133.0 497.6,124.5 497.7,132.2 497.9,126.2 498.0,133.4 498.1,125.6 498.2,130.6 498.3,127.0 498.5,131.7 498.6,123.1 498.7,130.6 498.8,123.5 498.9,128.1 499.1,123.3 499.2,129.8 499.3,124.7 499.4,134.8 499.5,126.5 499.7,133.1 499.8,127.5 499.9,132.2 500.0,124.4 500.1,133.3 500.3,123.3 500.4,133.7 500.5,106.5 500.6,132.3 500.7,124.4 500.9,131.9 501.0,119.8 501.1,130.6 501.2,120.2 501.3,130.6 501.5,118.6 501.6,131.0 501.7,117.8 501.8,132.3 501.9,119.2 502.1,137.8 502.2,119.2 502.3,129.5 502.4,120.8 502.5,126.6 502.7,119.9 502.8,125.4 502.9,119.5 503.0,127.9 503.1,121.6 503.3,130.3 503.4,121.4 503.5,132.1 503.6,118.8 503.7,133.5 503.9,117.1 504.0,131.4 504.1,123.7 504.2,131.1 504.3,119.1 504.5,130.2 504.6,123.3 504.7,132.1 504.8,121.5 504.9,131.3 505.1,124.7 505.2,130.8 505.3,123.6 505.4,130.6 505.5,121.2 505.7,130.4 505.8,118.9 505.9,130.1 506.0,121.7 506.1,135.3 506.3,121.8 506.4,133.0 506.5,127.3 506.6,136.9 506.7,151.3 506.9,141.8 507.0,127.2 507.1,138.4 507.2,125.3 507.3,140.6 507.5,130.3 507.6,142.3 507.7,129.0 507.8,140.6 507.9,150.4 508.1,138.6 508.2,127.7 508.3,140.8 508.4,124.1 508.5,138.1 508.7,123.4 508.8,141.1 508.9,126.2 509.0,131.9 509.1,143.1 509.3,135.4 509.4,122.3 509.5,129.8 509.6,122.8 509.7,130.1 509.9,121.9 510.0,130.3 510.1,108.2 510.2,131.0 510.3,123.3 510.5,130.5 510.6,122.2 510.7,131.6 510.8,120.0 510.9,128.9 511.1,120.4 511.2,129.6 511.3,118.2 511.4,132.7 511.5,118.3 511.7,133.6 511.8,121.8 511.9,131.2 512.0,116.7 512.1,132.5 512.3,118.3 512.4,128.6 512.5,121.5 512.6,129.8 512.7,118.0 512.9,131.6 513.0,120.6 513.1,135.6 513.2,123.1 513.3,131.8 513.5,120.3 513.6,131.7 513.7,119.1 513.8,130.2 513.9,119.2 514.1,131.7 514.2,117.3 514.3,132.9 514.4,118.0 514.5,136.6 514.7,120.2 514.8,132.2 514.9,122.8 515.0,137.4 515.1,122.8 515.3,133.1 515.4,124.5 515.5,129.9 515.6,120.9 515.7,129.9 515.9,121.1 516.0,99.9 516.1,141.8 516.2,131.3 516.3,112.0 516.5,135.9 516.6,120.3 516.7,130.1 516.8,117.2 516.9,103.1 517.1,119.1 517.2,145.1 517.3,118.8 517.4,143.5 517.5,121.8 517.7,142.2 517.8,121.7 517.9,135.8 518.0,120.2 518.1,139.8 518.3,117.6 518.4,135.2 518.5,119.8 518.6,136.0 518.7,122.3 518.9,133.0 519.0,125.4 519.1,134.1 519.2,128.0 519.3,137.2 519.5,121.7 519.6,133.4 519.7,121.5 519.8,133.1 519.9,120.1 520.1,133.3 520.2,123.7 520.3,141.9 520.4,121.3 520.5,130.8 520.7,125.5 520.8,135.8 520.9,126.5 521.0,137.2 521.1,127.8 521.3,139.5 521.4,127.9 521.5,136.4 521.6,122.9 521.7,137.3 521.9,156.6 522.0,137.5 522.1,119.9 522.2,132.9 522.3,120.5 522.5,135.8 522.6,122.8 522.7,136.7 522.8,123.0 522.9,134.7 523.1,123.2 523.2,146.1 523.3,123.7 523.4,131.1 523.5,123.8 523.7,132.1 523.8,123.4 523.9,131.0 524.0,150.9 524.1,132.1 524.3,119.1 524.4,131.5 524.5,123.6 524.6,132.2 524.7,119.7 524.9,129.9 525.0,119.9 525.1,131.8 525.2,114.9 525.3,127.0 525.5,115.5 525.6,124.9 525.7,117.7 525.8,126.1 525.9,113.1 526.1,122.3 526.2,114.3 526.3,125.5 526.4,112.0 526.5,127.8 526.7,111.7 526.8,127.8 526.9,104.8 527.0,125.4 527.1,110.6 527.3,121.7 527.4,114.0 527.5,127.8 527.6,109.8 527.7,125.7 527.9,114.4 528.0,125.4 528.1,113.9 528.2,127.6 528.3,115.0 528.5,126.0 528.6,115.0 528.7,123.8 528.8,114.6 528.9,127.8 529.1,113.5 529.2,126.4 529.3,113.5 529.4,128.2 529.5,118.5 529.7,129.1 529.8,115.9 529.9,128.1 530.0,112.7 530.1,128.8 530.3,117.5 530.4,127.1 530.5,117.6 530.6,130.1 530.7,119.7 530.9,127.0 531.0,117.4 531.1,130.1 531.2,118.4 531.3,132.1 531.5,118.0 531.6,130.4 531.7,120.0 531.8,128.0 531.9,118.2 532.1,126.9 532.2,118.1 532.3,131.0 532.4,117.3 532.5,132.3 532.7,119.8 532.8,112.3 532.9,116.1 533.0,131.6 533.1,111.4 533.3,128.6 533.4,108.2 533.5,131.5 533.6,107.6 533.7,128.8 533.9,111.1 534.0,129.5 534.1,111.3 534.2,129.9 534.3,116.0 534.5,125.6 534.6,116.5 534.7,123.7 534.8,117.7 534.9,130.5 535.1,122.2 535.2,134.2 535.3,122.1 535.4,132.4 535.5,120.1 535.7,132.8 535.8,116.9 535.9,137.4 536.0,120.2 536.1,132.1 536.3,119.1 536.4,129.4 536.5,117.0 536.6,129.6 536.7,116.2 536.9,127.2 537.0,116.3 537.1,127.9 537.2,111.7 537.3,124.9 537.5,113.2 537.6,129.1 537.7,113.1 537.8,131.3 537.9,110.0 538.1,128.9 538.2,107.7 538.3,128.7 538.4,111.9 538.5,135.9 538.7,107.7 538.8,132.0 538.9,113.3 539.0,131.6 539.1,112.7 539.3,125.4 539.4,117.1 539.5,126.7 539.6,116.3 539.7,128.8 539.9,114.5 540.0,126.9 540.1,117.5 540.2,128.0 540.3,115.4 540.5,136.9 540.6,108.6 540.7,134.2 540.8,114.5 540.9,139.2 541.1,112.4 541.2,112.4 541.3,120.8 541.4,145.2 541.5,117.6 541.7,137.9 541.8,109.0 541.9,138.9 542.0,125.4 542.1,139.2 542.3,126.0 542.4,135.1 542.5,120.6 542.6,130.1 542.7,121.9 542.9,131.5 543.0,122.7 543.1,130.0 543.2,123.0 543.3,133.4 543.5,122.5 543.6,135.4 543.7,127.2 543.8,131.5 543.9,125.7 544.1,132.7 544.2,123.6 544.3,137.9 544.4,124.0 544.5,132.1 544.7,125.2 544.8,132.0 544.9,119.9 545.0,131.6 545.1,122.7 545.3,132.8 545.4,123.6 545.5,133.1 545.6,124.7 545.7,131.8 545.9,121.7 546.0,132.5 546.1,119.3 546.2,127.2 546.3,119.3 546.5,129.6 546.6,118.7 546.7,127.7 546.8,120.5 546.9,129.6 547.1,117.9 547.2,129.4 547.3,118.3 547.4,128.1 547.5,117.3 547.7,129.7 547.8,116.6 547.9,128.4 548.0,116.5 548.1,128.0 548.3,117.2 548.4,127.1 548.5,118.1 548.6,125.5 548.7,114.0 548.9,124.3 549.0,113.3 549.1,123.2 549.2,114.5 549.3,123.7 549.5,113.3 549.6,125.7 549.7,112.0 549.8,120.7 549.9,113.5 550.1,122.0 550.2,115.0 550.3,121.5 550.4,115.9 550.5,122.6 550.7,118.0 550.8,124.4 550.9,117.7 551.0,124.9 551.1,119.5 551.3,123.9 551.4,120.7 551.5,130.8 551.6,122.9 551.7,130.6 551.9,123.2 552.0,129.8 552.1,123.4 552.2,136.3 552.3,123.7 552.5,137.1 552.6,118.4 552.7,134.6 552.8,122.5 552.9,134.5 553.1,116.4 553.2,137.2 553.3,124.3 553.4,131.7 553.5,119.3 553.7,137.0 553.8,121.2 553.9,135.8 554.0,123.4 554.1,134.8 554.3,122.5 554.4,132.8 554.5,120.7 554.6,131.5 554.7,119.8 554.9,131.9 555.0,121.1 555.1,136.4 555.2,120.0 555.3,137.4 555.5,120.1 555.6,137.3 555.7,116.2 555.8,132.3 555.9,119.9 556.1,137.6 556.2,112.9 556.3,136.6 556.4,117.5 556.5,137.2 556.7,120.2 556.8,131.5 556.9,116.0 557.0,135.3 557.1,112.3 557.3,129.7 557.4,118.0 557.5,128.7 557.6,114.1 557.7,132.3 557.9,106.0 558.0,142.8 558.1,109.4 558.2,137.1 558.3,116.6 558.5,133.6 558.6,115.3 558.7,132.1 558.8,122.0 558.9,130.6 559.1,120.3 559.2,131.3 559.3,118.3 559.4,134.8 559.5,116.1 559.7,143.4 559.8,114.8 559.9,135.6 560.0,112.5 560.1,143.5 560.3,113.8 560.4,138.2 560.5,113.7 560.6,133.1 560.7,117.3 560.9,128.3 561.0,115.7 561.1,127.3 561.2,114.6 561.3,128.8 561.5,117.0 561.6,126.1 561.7,119.6 561.8,129.3 561.9,120.3 562.1,130.0 562.2,118.2 562.3,129.4 562.4,120.5 562.5,130.9 562.7,120.4 562.8,133.5 562.9,117.9 563.0,131.8 563.1,119.9 563.3,128.1 563.4,118.3 563.5,129.9 563.6,116.8 563.7,130.9 563.9,116.1 564.0,127.3 564.1,118.7 564.2,131.6 564.3,115.7 564.5,128.8 564.6,117.5 564.7,130.2 564.8,118.9 564.9,129.1 565.1,113.8 565.2,132.8 565.3,115.7 565.4,131.7 565.5,119.3 565.7,129.1 565.8,117.7 565.9,110.1 566.0,115.3 566.1,129.4 566.3,120.4 566.4,130.6 566.5,123.2 566.6,130.0 566.7,119.6 566.9,128.0 567.0,121.5 567.1,130.4 567.2,122.0 567.3,130.2 567.5,119.1 567.6,130.2 567.7,119.5 567.8,130.4 567.9,123.9 568.1,131.7 568.2,120.7 568.3,129.7 568.4,116.7 568.5,127.4 568.7,115.6 568.8,128.9 568.9,112.6 569.0,129.7 569.1,117.1 569.3,126.6 569.4,114.8 569.5,125.3 569.6,114.9 569.7,126.8 569.9,118.4 570.0,125.1 570.1,117.0 570.2,124.8 570.3,116.8 570.5,126.4 570.6,114.6 570.7,125.5 570.8,115.9 570.9,122.2 571.1,114.8 571.2,124.6 571.3,112.3 571.4,125.3 571.5,111.6 571.7,122.4 571.8,111.9 571.9,123.3 572.0,112.3 572.1,127.1 572.3,114.9 572.4,129.1 572.5,116.3 572.6,129.5 572.7,137.6 572.9,128.8 573.0,117.7 573.1,129.0 573.2,117.9 573.3,127.3 573.5,123.3 573.6,129.1 573.7,100.1 573.8,133.5 573.9,125.2 574.1,130.7 574.2,114.4 574.3,130.8 574.4,121.5 574.5,134.4 574.7,120.1 574.8,134.2 574.9,121.8 575.0,129.8 575.1,118.3 575.3,137.2 575.4,121.7 575.5,132.2 575.6,120.2 575.7,132.7 575.9,121.1 576.0,132.9 576.1,121.5 576.2,131.2 576.3,118.7 576.5,129.1 576.6,117.6 576.7,126.8 576.8,120.1 576.9,129.3 577.1,121.6 577.2,130.8 577.3,121.2 577.4,131.7 577.5,124.6 577.7,129.1 577.8,123.0 577.9,130.5 578.0,119.8 578.1,128.0 578.3,121.4 578.4,104.9 578.5,116.9 578.6,104.5 578.7,118.7 578.9,125.7 579.0,117.3 579.1,123.1 579.2,114.9 579.3,122.5 579.5,118.0 579.6,126.0 579.7,110.7 579.8,123.9 579.9,111.0 580.1,124.4 580.2,113.1 580.3,123.2 580.4,112.9 580.5,123.8 580.7,116.5 580.8,125.2 580.9,116.7 581.0,125.2 581.1,119.3 581.3,126.8 581.4,119.1 581.5,130.7 581.6,118.0 581.7,128.6 581.9,118.0 582.0,127.6 582.1,115.5 582.2,131.8 582.3,119.2 582.5,130.1 582.6,114.9 582.7,131.9 582.8,114.1 582.9,129.5 583.1,115.3 583.2,134.8 583.3,117.4 583.4,137.4 583.5,121.6 583.7,134.8 583.8,121.5 583.9,133.7 584.0,120.8 584.1,136.9 584.3,121.8 584.4,139.6 584.5,119.0 584.6,133.5 584.7,113.9 584.9,132.5 585.0,117.8 585.1,129.9 585.2,117.0 585.3,126.2 585.5,113.9 585.6,122.5 585.7,118.5 585.8,122.6 585.9,117.1 586.1,123.2 586.2,117.4 586.3,122.8 586.4,118.0 586.5,123.7 586.7,117.1 586.8,125.1 586.9,117.4 587.0,127.2 587.1,119.5 587.3,124.6 587.4,117.4 587.5,125.5 587.6,114.6 587.7,125.1 587.9,115.6 588.0,125.6 588.1,115.5 588.2,130.0 588.3,115.2 588.5,128.3 588.6,119.2 588.7,128.9 588.8,114.8 588.9,128.0 589.1,117.6 589.2,125.9 589.3,119.1 589.4,129.2 589.5,123.5 589.7,130.7 589.8,120.9 589.9,134.3 590.0,121.6 590.1,137.1 590.3,123.7 590.4,137.1 590.5,122.0 590.6,140.0 590.7,119.0 590.9,141.1 591.0,123.4 591.1,134.7 591.2,122.4 591.3,137.8 591.5,123.5 591.6,141.7 591.7,120.0 591.8,115.5 591.9,122.2 592.1,136.7 592.2,125.0 592.3,136.2 592.4,125.9 592.5,138.3 592.7,117.7 592.8,137.5 592.9,124.0 593.0,136.0 593.1,123.8 593.3,137.0 593.4,120.0 593.5,136.1 593.6,122.1 593.7,136.5 593.9,117.7 594.0,128.7 594.1,121.5 594.2,133.2 594.3,118.8 594.5,133.5 594.6,108.2 594.7,131.6 594.8,120.9 594.9,131.2 595.1,118.4 595.2,132.0 595.3,117.7 595.4,131.7 595.5,119.3 595.7,130.3 595.8,121.9 595.9,126.8 596.0,119.6 596.1,128.4 596.3,121.2 596.4,127.4 596.5,117.2 596.6,127.5 596.7,115.7 596.9,123.9 597.0,113.6 597.1,127.1 597.2,116.2 597.3,128.6 597.5,111.5 597.6,129.9 597.7,112.8 597.8,126.3 597.9,116.6 598.1,128.4 598.2,115.8 598.3,123.9 598.4,118.0 598.5,123.5 598.7,118.7 598.8,124.7 598.9,116.9 599.0,124.1 599.1,118.0 599.3,126.1 599.4,118.4 599.5,124.6 599.6,119.3 599.7,124.8 599.9,117.5 600.0,124.4 600.1,117.7 600.2,123.7 600.3,117.4 600.5,124.2 600.6,135.8 600.7,124.7 600.8,120.1 600.9,125.8 601.1,117.5 601.2,125.9 601.3,116.1 601.4,127.3 601.5,116.1 601.7,128.0 601.8,117.0 601.9,130.7 602.0,112.2 602.1,132.0 602.3,112.0 602.4,135.0 602.5,111.3 602.6,129.7 602.7,117.7 602.9,131.0 603.0,116.7 603.1,131.3 603.2,115.3 603.3,127.6 603.5,119.0 603.6,126.8 603.7,118.0 603.8,127.7 603.9,119.0 604.1,125.5 604.2,121.3 604.3,124.2 604.4,117.9 604.5,123.6 604.7,119.2 604.8,123.1 604.9,119.2 605.0,124.6 605.1,119.3 605.3,122.2 605.4,119.1 605.5,124.0 605.6,118.1 605.7,124.7 605.9,117.5 606.0,124.2 606.1,115.8 606.2,127.2 606.3,113.7 606.5,127.0 606.6,116.5 606.7,128.4 606.8,121.7 606.9,128.2 607.1,119.9 607.2,125.6 607.3,118.4 607.4,127.8 607.5,118.6 607.7,123.5 607.8,115.4 607.9,126.4 608.0,114.5 608.1,123.8 608.3,113.2 608.4,122.0 608.5,113.5 608.6,124.4 608.7,114.2 608.9,126.5 609.0,113.1 609.1,122.6 609.2,112.2 609.3,123.2 609.5,112.1 609.6,122.4 609.7,109.5 609.8,123.1 609.9,108.8 610.1,120.7 610.2,108.9 610.3,126.6 610.4,110.9 610.5,121.6 610.7,107.5 610.8,125.7 610.9,108.7 611.0,122.5 611.1,110.3 611.3,121.1 611.4,105.6 611.5,121.3 611.6,110.7 611.7,122.2 611.9,112.0 612.0,120.3 612.1,110.3 612.2,117.8 612.3,112.6 612.5,120.4 612.6,99.5 612.7,119.9 612.8,112.7 612.9,124.9 613.1,112.9 613.2,121.2 613.3,111.4 613.4,120.5 613.5,111.6 613.7,122.4 613.8,112.5 613.9,122.6 614.0,116.7 614.1,123.1 614.3,116.0 614.4,128.1 614.5,117.2 614.6,128.8 614.7,113.6 614.9,130.2 615.0,112.6 615.1,132.5 615.2,106.0 615.3,129.0 615.5,111.0 615.6,128.1 615.7,114.5 615.8,128.2 615.9,117.6 616.1,123.3 616.2,117.9 616.3,124.8 616.4,120.0 616.5,124.2 616.7,117.7 616.8,124.2 616.9,119.6 617.0,124.8 617.1,119.4 617.3,124.2 617.4,121.6 617.5,127.1 617.6,121.8 617.7,127.3 617.9,122.3 618.0,126.3 618.1,122.2 618.2,126.5 618.3,121.3 618.5,125.1 618.6,118.4 618.7,125.4 618.8,116.5 618.9,124.8 619.1,113.4 619.2,124.0 619.3,109.6 619.4,123.0 619.5,107.0 619.7,128.2 619.8,106.8 619.9,134.3 620.0,106.5 620.1,131.9 620.3,112.8 620.4,132.7 620.5,118.6 620.6,104.7 620.7,115.8 620.9,125.7 621.0,116.6 621.1,127.9 621.2,117.6 621.3,127.3 621.5,119.8 621.6,130.1 621.7,117.9 621.8,130.3 621.9,113.0 622.1,131.3 622.2,114.6 622.3,128.9 622.4,114.5 622.5,124.7 622.7,113.7 622.8,123.7 622.9,107.1 623.0,124.9 623.1,114.1 623.3,125.2 623.4,115.1 623.5,134.2 623.6,115.9 623.7,124.2 623.9,117.5 624.0,125.4 624.1,115.6 624.2,130.7 624.3,120.9 624.5,131.8 624.6,115.9 624.7,131.8 624.8,114.3 624.9,127.1 625.1,114.3 625.2,125.2 625.3,114.4 625.4,124.8 625.5,116.6 625.7,124.9 625.8,116.4 625.9,125.8 626.0,117.2 626.1,124.3 626.3,113.8 626.4,125.2 626.5,112.7 626.6,126.2 626.7,110.6 626.9,125.6 627.0,113.9 627.1,124.7 627.2,112.0 627.3,124.8 627.5,117.8 627.6,125.1 627.7,119.1 627.8,125.6 627.9,119.1 628.1,128.2 628.2,120.8 628.3,130.8 628.4,118.2 628.5,132.5 628.7,115.7 628.8,128.8 628.9,117.6 629.0,128.9 629.1,116.9 629.3,127.5 629.4,119.1 629.5,129.0 629.6,121.2 629.7,128.2 629.9,123.0 630.0,129.7 630.1,121.2 630.2,132.1 630.3,123.3 630.5,131.6 630.6,118.9 630.7,131.0 630.8,115.2 630.9,129.3 631.1,120.5 631.2,131.2 631.3,117.6 631.4,128.2 631.5,119.2 631.7,125.3 631.8,120.5 631.9,128.3 632.0,118.9 632.1,130.1 632.3,116.9 632.4,128.6 632.5,121.0 632.6,131.1 632.7,116.8 632.9,126.6 633.0,117.8 633.1,129.9 633.2,113.5 633.3,149.0 633.5,116.7 633.6,126.9 633.7,114.8 633.8,128.6 633.9,119.6 634.1,127.9 634.2,117.4 634.3,131.4 634.4,119.5 634.5,131.3 634.7,118.9 634.8,131.0 634.9,116.5 635.0,127.1 635.1,116.9 635.3,129.6 635.4,115.1 635.5,133.1 635.6,119.6 635.7,129.6 635.9,115.0 636.0,133.0 636.1,114.9 636.2,127.2 636.3,113.6 636.5,125.3 636.6,113.6 636.7,125.0 636.8,113.0 636.9,128.1 637.1,113.7 637.2,120.2 637.3,114.1 637.4,125.1 637.5,115.1 637.7,125.5 637.8,113.8 637.9,121.0 638.0,115.1 638.1,125.2 638.3,110.0 638.4,126.8 638.5,114.0 638.6,125.6 638.7,113.5 638.9,129.9 639.0,114.9 639.1,126.7 639.2,117.0 639.3,122.5 639.5,118.0 639.6,125.5 639.7,118.0 639.8,123.5 639.9,119.9 640.1,123.1 640.2,119.6 640.3,123.5 640.4,117.8 640.5,121.3 640.7,132.3 640.8,120.8 640.9,114.8 641.0,119.1 641.1,115.2 641.3,121.9 641.4,112.4 641.5,119.5 641.6,112.6 641.7,120.5 641.9,115.0 642.0,121.9 642.1,118.1 642.2,124.9 642.3,117.7 642.5,124.7 642.6,117.3 642.7,124.8 642.8,115.6 642.9,123.0 643.1,114.8 643.2,127.4 643.3,117.6 643.4,125.9 643.5,117.1 643.7,127.7 643.8,117.9 643.9,126.3 644.0,116.4 644.1,128.5 644.3,115.3 644.4,124.8 644.5,114.6 644.6,126.8 644.7,118.0 644.9,129.7 645.0,120.2 645.1,130.8 645.2,119.0 645.3,128.5 645.5,119.2 645.6,128.1 645.7,118.9 645.8,131.0 645.9,109.1 646.1,131.2 646.2,120.2 646.3,127.4 646.4,117.1 646.5,136.2 646.7,120.6 646.8,132.4 646.9,120.0 647.0,130.7 647.1,122.4 647.3,130.4 647.4,120.0 647.5,130.4 647.6,123.0 647.7,130.4 647.9,125.4 648.0,131.7 648.1,122.1 648.2,134.7 648.3,118.8 648.5,135.2 648.6,120.3 648.7,135.4 648.8,123.2 648.9,137.1 649.1,121.5 649.2,135.2 649.3,123.6 649.4,134.7 649.5,121.0 649.7,132.2 649.8,123.9 649.9,132.2 650.0,121.7 650.1,130.8 650.3,122.4 650.4,135.1 650.5,121.9 650.6,135.1 650.7,119.0 650.9,142.4 651.0,118.3 651.1,143.1 651.2,118.3 651.3,112.5 651.5,113.5 651.6,137.5 651.7,118.6 651.8,131.1 651.9,118.4 652.1,135.7 652.2,120.2 652.3,134.4 652.4,117.1 652.5,142.2 652.7,119.3 652.8,138.3 652.9,120.7 653.0,136.9 653.1,121.4 653.3,133.4 653.4,122.7 653.5,147.1 653.6,120.9 653.7,131.0 653.9,121.3 654.0,132.9 654.1,122.9 654.2,133.7 654.3,123.5 654.5,132.1 654.6,120.3 654.7,131.1 654.8,118.5 654.9,130.2 655.1,116.9 655.2,134.6 655.3,118.8 655.4,139.0 655.5,122.7 655.7,144.9 655.8,130.7 655.9,154.6 656.0,149.3 656.1,165.1 656.3,161.3 656.4,180.0 656.5,165.3 656.6,174.9 656.7,160.4 656.9,160.8 657.0,144.6 657.1,145.0 657.2,129.5 657.3,134.9 657.5,122.5 657.6,128.0 657.7,116.8 657.8,126.3 657.9,116.6 658.1,127.3 658.2,113.3 658.3,127.6 658.4,119.3 658.5,130.7 658.7,114.6 658.8,126.6 658.9,112.0 659.0,122.3 659.1,114.0 659.3,122.9 659.4,112.4 659.5,123.9 659.6,110.0 659.7,114.6 659.9,105.7 660.0,109.0 660.1,96.8 660.2,104.1 660.3,87.3 660.5,94.1 660.6,79.1 660.7,89.4 660.8,70.9 660.9,76.2 661.1,67.8 661.2,75.0 661.3,65.3 661.4,72.4 661.5,97.6 661.7,79.8 661.8,77.1 661.9,90.1 662.0,88.2 662.1,101.4 662.3,99.7 662.4,110.9 662.5,102.2 662.6,119.4 662.7,110.1 662.9,123.8 663.0,112.9 663.1,125.4 663.2,113.2 663.3,128.7 663.5,116.6 663.6,126.4 663.7,116.9 663.8,126.5 663.9,119.0 664.1,123.4 664.2,115.6 664.3,122.3 664.4,114.8 664.5,121.9 664.7,113.6 664.8,121.8 664.9,113.8 665.0,102.6 665.1,111.2 665.3,124.3 665.4,114.1 665.5,123.9 665.6,111.8 665.7,119.5 665.9,112.9 666.0,124.2 666.1,111.6 666.2,123.6 666.3,111.4 666.5,122.2 666.6,108.0 666.7,127.2 666.8,110.1 666.9,124.3 667.1,111.4 667.2,124.0 667.3,110.3 667.4,128.3 667.5,110.8 667.7,127.9 667.8,108.3 667.9,134.3 668.0,110.8 668.1,104.1 668.3,114.6 668.4,129.4 668.5,107.4 668.6,126.7 668.7,112.2 668.9,125.0 669.0,111.7 669.1,129.0 669.2,117.2 669.3,128.5 669.5,116.3 669.6,128.6 669.7,115.6 669.8,129.3 669.9,117.3 670.1,132.3 670.2,120.7 670.3,135.0 670.4,119.6 670.5,131.5 670.7,122.7 670.8,133.6 670.9,121.0 671.0,134.4 671.1,125.4 671.3,134.1 671.4,124.3 671.5,132.1 671.6,122.8 671.7,127.4 671.9,120.1 672.0,128.6 672.1,118.9 672.2,123.7 672.3,116.5 672.5,124.4 672.6,118.1 672.7,122.9 672.8,118.0 672.9,122.6 673.1,116.4 673.2,123.3 673.3,115.6 673.4,124.0 673.5,115.2 673.7,122.9 673.8,117.4 673.9,122.8 674.0,118.4 674.1,124.0 674.3,117.7 674.4,124.5 674.5,117.1 674.6,123.5 674.7,118.0 674.9,126.7 675.0,117.2 675.1,123.3 675.2,116.4 675.3,142.2 675.5,113.7 675.6,127.9 675.7,118.9 675.8,124.9 675.9,119.0 676.1,125.1 676.2,117.1 676.3,128.5 676.4,117.2 676.5,127.7 676.7,119.1 676.8,126.6 676.9,119.5 677.0,128.8 677.1,121.0 677.3,131.9 677.4,120.9 677.5,131.5 677.6,122.4 677.7,147.2 677.9,118.8 678.0,135.9 678.1,119.3 678.2,134.0 678.3,113.5 678.5,136.9 678.6,121.2 678.7,133.8 678.8,124.2 678.9,136.0 679.1,126.3 679.2,140.6 679.3,130.2 679.4,140.7 679.5,128.9 679.7,142.8 679.8,131.9 679.9,138.3 680.0,130.6 680.1,141.9 680.3,129.1 680.4,137.0 680.5,122.8 680.6,145.0 680.7,130.9 680.9,144.0 681.0,148.1 681.1,140.5 681.2,124.7 681.3,143.4 681.5,127.1 681.6,140.5 681.7,123.6 681.8,138.4 681.9,126.0 682.1,135.7 682.2,124.0 682.3,134.0 682.4,121.0 682.5,130.7 682.7,122.6 682.8,130.6 682.9,122.4 683.0,129.4 683.1,120.0 683.3,128.8 683.4,120.3 683.5,130.1 683.6,116.3 683.7,132.0 683.9,113.6 684.0,129.8 684.1,116.3 684.2,129.2 684.3,115.7 684.5,129.5 684.6,119.5 684.7,128.8 684.8,117.5 684.9,126.3 685.1,117.5 685.2,128.1 685.3,118.7 685.4,124.9 685.5,117.4 685.7,127.6 685.8,111.4 685.9,124.1 686.0,112.5 686.1,127.1 686.3,107.7 686.4,130.1 686.5,108.1 686.6,122.9 686.7,110.9 686.9,131.3 687.0,107.9 687.1,127.8 687.2,110.2 687.3,124.1 687.5,106.8 687.6,127.6 687.7,108.9 687.8,124.7 687.9,112.9 688.1,128.1 688.2,113.0 688.3,126.3 688.4,112.8 688.5,126.4 688.7,114.5 688.8,125.2 688.9,113.6 689.0,125.6 689.1,114.2 689.3,125.5 689.4,116.6 689.5,124.1 689.6,115.8 689.7,124.7 689.9,118.5 690.0,124.2 690.1,113.5 690.2,123.4 690.3,113.8 690.5,126.5 690.6,112.4 690.7,125.6 690.8,113.2 690.9,126.1 691.1,110.8 691.2,126.7 691.3,115.0 691.4,125.4 691.5,111.6 691.7,126.6 691.8,114.9 691.9,124.5 692.0,110.9 692.1,129.8 692.3,117.8 692.4,125.7 692.5,116.1 692.6,128.2 692.7,117.3 692.9,125.5 693.0,116.7 693.1,125.4 693.2,119.0 693.3,125.1 693.5,118.2 693.6,129.5 693.7,118.6 693.8,127.9 693.9,117.9 694.1,126.6 694.2,119.0 694.3,126.4 694.4,117.4 694.5,127.9 694.7,101.7 694.8,126.9 694.9,118.5 695.0,128.2 695.1,117.9 695.3,131.1 695.4,119.4 695.5,133.1 695.6,116.5 695.7,132.5 695.9,121.9 696.0,130.3 696.1,119.8 696.2,131.3 696.3,119.1 696.5,127.5 696.6,109.0 696.7,119.8 696.8,100.7 696.9,110.3 697.1,89.7 697.2,99.4 697.3,84.4 697.4,102.4 697.5,91.3 697.7,110.2 697.8,101.3 697.9,116.9 698.0,108.7 698.1,123.7 698.3,115.8 698.4,124.2 698.5,116.7 698.6,121.5 698.7,111.6 698.9,121.3 699.0,115.2 699.1,123.5 699.2,115.6 699.3,123.2 699.5,113.5 699.6,128.8 699.7,111.8 699.8,128.9 699.9,112.0 700.1,129.7 700.2,118.0 700.3,126.5 700.4,115.0 700.5,125.4 700.7,118.6 700.8,128.0 700.9,120.7 701.0,127.8 701.1,120.8 701.3,125.7 701.4,117.0 701.5,124.8 701.6,119.0 701.7,125.2 701.9,119.8 702.0,128.7 702.1,118.7 702.2,124.5 702.3,115.9 702.5,124.9 702.6,119.2 702.7,125.0 702.8,119.8 702.9,124.8 703.1,121.1 703.2,127.6 703.3,118.7 703.4,128.0 703.5,119.5 703.7,128.5 703.8,121.1 703.9,129.1 704.0,123.9 704.1,132.4 704.3,120.5 704.4,133.0 704.5,124.7 704.6,134.2 704.7,122.5 704.9,132.9 705.0,123.1 705.1,132.0 705.2,125.6 705.3,132.2 705.5,127.7 705.6,133.2 705.7,127.7 705.8,134.0 705.9,127.5 706.1,132.8 706.2,128.8 706.3,135.2 706.4,126.6 706.5,134.8 706.7,128.5 706.8,135.8 706.9,130.3 707.0,137.2 707.1,125.8 707.3,142.8 707.4,124.2 707.5,137.1 707.6,114.2 707.7,137.1 707.9,125.1 708.0,139.8 708.1,121.6 708.2,133.6 708.3,124.2 708.5,136.5 708.6,127.7 708.7,142.2 708.8,126.4 708.9,138.3 709.1,125.1 709.2,137.0 709.3,123.9 709.4,137.3 709.5,125.8 709.7,138.1 709.8,124.7 709.9,137.9 710.0,123.6 710.1,138.5 710.3,124.0 710.4,133.8 710.5,122.2 710.6,136.8 710.7,123.3 710.9,128.8 711.0,118.4 711.1,130.7 711.2,120.1 711.3,131.6 711.5,119.7 711.6,134.7 711.7,115.0 711.8,133.6 711.9,116.4 712.1,134.1 712.2,118.5 712.3,133.3 712.4,121.9 712.5,130.6 712.7,121.9 712.8,130.1 712.9,124.1 713.0,131.3 713.1,124.1 713.3,128.6 713.4,122.8 713.5,131.4 713.6,120.3 713.7,131.8 713.9,119.3 714.0,136.9 714.1,114.9 714.2,137.5 714.3,124.0 714.5,136.5 714.6,123.7 714.7,133.9 714.8,122.0 714.9,133.3 715.1,118.1 715.2,137.5 715.3,122.3 715.4,135.0 715.5,123.0 715.7,136.0 715.8,121.9 715.9,138.1 716.0,123.0 716.1,134.5 716.3,125.9 716.4,135.2 716.5,122.8 716.6,142.2 716.7,124.7 716.9,139.7 717.0,125.0 717.1,137.6 717.2,126.9 717.3,138.7 717.5,126.7 717.6,135.1 717.7,124.3 717.8,132.5 717.9,120.5 718.1,133.4 718.2,120.9 718.3,136.8 718.4,118.7 718.5,132.3 718.7,116.6 718.8,137.8 718.9,141.5 719.0,138.5 719.1,116.1 719.3,132.2 719.4,120.3 719.5,128.3 719.6,122.8 719.7,128.3 719.9,120.9 720.0,128.9 720.1,124.4 720.2,128.2 720.3,120.9 720.5,126.8 720.6,118.6 720.7,128.6 720.8,120.4 720.9,128.1 721.1,119.7 721.2,130.5 721.3,114.8 721.4,129.2 721.5,116.4 721.7,131.2 721.8,116.1 721.9,126.8 722.0,116.2 722.1,129.2 722.3,117.1 722.4,126.8 722.5,119.7 722.6,131.5 722.7,116.1 722.9,137.4 723.0,112.3 723.1,138.6 723.2,118.1 723.3,132.9 723.5,119.4 723.6,139.0 723.7,123.9 723.8,132.7 723.9,122.3 724.1,129.2 724.2,123.3 724.3,128.5 724.4,122.7 724.5,125.7 724.7,138.8 724.8,125.0 724.9,117.4 725.0,133.8 725.1,116.9 725.3,126.2 725.4,117.9 725.5,129.8 725.6,113.5 725.7,125.9 725.9,113.9 726.0,125.2 726.1,111.7 726.2,120.5 726.3,110.5 726.5,118.1 726.6,110.2 726.7,119.9 726.8,112.9 726.9,118.3 727.1,113.2 727.2,117.1 727.3,112.8 727.4,122.1 727.5,115.6 727.7,124.9 727.8,114.8 727.9,123.3 728.0,110.8 728.1,125.9 728.3,109.8 728.4,120.7 728.5,108.4 728.6,118.4 728.7,108.2 728.9,121.2 729.0,113.1 729.1,121.4 729.2,113.5 729.3,127.5 729.5,115.8 729.6,129.7 729.7,115.8 729.8,131.7 729.9,108.4 730.1,127.3 730.2,109.8 730.3,124.2 730.4,115.1 730.5,124.6 730.7,114.8 730.8,123.7 730.9,116.4 731.0,122.7 731.1,115.6 731.3,126.0 731.4,117.6 731.5,124.3 731.6,112.5 731.7,122.8 731.9,114.0 732.0,125.2 732.1,111.7 732.2,121.9 732.3,114.1 732.5,124.7 732.6,111.8 732.7,121.7 732.8,111.5 732.9,119.6 733.1,110.3 733.2,118.0 733.3,111.9 733.4,117.1 733.5,114.2 733.7,116.5 733.8,113.9 733.9,120.3 734.0,112.8 734.1,118.0 734.3,114.0 734.4,121.3 734.5,116.7 734.6,126.3 734.7,117.1 734.9,125.6 735.0,118.2 735.1,124.5 735.2,117.9 735.3,126.2 735.5,118.6 735.6,124.1 735.7,119.1 735.8,127.3 735.9,120.8 736.1,125.0 736.2,119.8 736.3,124.9 736.4,121.1 736.5,123.6 736.7,120.0 736.8,127.7 736.9,121.0 737.0,127.4 737.1,120.1 737.3,129.7 737.4,120.4 737.5,132.5 737.6,120.5 737.7,131.3 737.9,121.5 738.0,134.6 738.1,127.5 738.2,136.4 738.3,128.2 738.5,132.4 738.6,125.4 738.7,132.3 738.8,125.1 738.9,133.6 739.1,122.9 739.2,132.4 739.3,112.7 739.4,130.5 739.5,124.4 739.7,127.2 739.8,122.0 739.9,127.4 740.0,120.7 740.1,127.8 740.3,119.2 740.4,124.5 740.5,118.4 740.6,126.2 740.7,117.9 740.9,126.0 741.0,119.1 741.1,128.1 741.2,121.9 741.3,130.1 741.5,117.0 741.6,135.3 741.7,116.9 741.8,131.2 741.9,116.1 742.1,133.7 742.2,113.7 742.3,135.8 742.4,119.3 742.5,132.0 742.7,116.2 742.8,129.2 742.9,116.9 743.0,128.0 743.1,109.9 743.3,128.5 743.4,113.0 743.5,128.3 743.6,111.9 743.7,129.6 743.9,119.1 744.0,129.5 744.1,116.3 744.2,129.8 744.3,119.0 744.5,130.4 744.6,121.1 744.7,134.3 744.8,129.0 744.9,144.7 745.1,141.2 745.2,154.0 745.3,146.1 745.4,153.6 745.5,146.3 745.7,152.0 745.8,138.1 745.9,141.1 746.0,129.9 746.1,135.3 746.3,125.1 746.4,135.8 746.5,123.7 746.6,135.5 746.7,123.2 746.9,135.1 747.0,122.1 747.1,131.8 747.2,117.1 747.3,131.4 747.5,116.8 747.6,138.5 747.7,110.9 747.8,139.4 747.9,116.2 748.1,137.9 748.2,117.3 748.3,136.3 748.4,116.7 748.5,133.0 748.7,115.1 748.8,129.8 748.9,120.7 749.0,127.6 749.1,117.3 749.3,142.7 749.4,118.0 749.5,125.5 749.6,114.1 749.7,121.3 749.9,112.4 750.0,122.7 750.1,110.5 750.2,124.1 750.3,111.7 750.5,125.1 750.6,112.5 750.7,123.4 750.8,112.7 750.9,123.2 751.1,115.3 751.2,128.3 751.3,117.3 751.4,132.0 751.5,116.2 751.7,132.1 751.8,121.1 751.9,133.3 752.0,124.3 752.1,131.8 752.3,124.9 752.4,132.9 752.5,127.1 752.6,149.0 752.7,126.7 752.9,132.8 753.0,126.1 753.1,131.3 753.2,123.8 753.3,132.0 753.5,127.9 753.6,133.0 753.7,125.4 753.8,133.4 753.9,128.5 754.1,134.6 754.2,128.6 754.3,132.6 754.4,128.6 754.5,131.8 754.7,123.9 754.8,127.2 754.9,114.8 755.0,121.6 755.1,108.7 755.3,110.5 755.4,101.2 755.5,108.0 755.6,102.4 755.7,112.9 755.9,113.0 756.0,120.7 756.1,122.3 756.2,127.1 756.3,124.9 756.5,130.9 756.6,123.6 756.7,130.9 756.8,125.0 756.9,131.3 757.1,126.5 757.2,135.3 757.3,121.7 757.4,134.8 757.5,123.0 757.7,134.4 757.8,121.1 757.9,134.8 758.0,124.3 758.1,136.3 758.3,122.8 758.4,133.1 758.5,121.3 758.6,133.9 758.7,122.3 758.9,129.6 759.0,120.3 759.1,133.6 759.2,120.6 759.3,131.1 759.5,116.4 759.6,129.7 759.7,121.4 759.8,131.1 759.9,117.6 760.1,128.8 760.2,119.8 760.3,129.4 760.4,121.7 760.5,129.5 760.7,121.4 760.8,129.8 760.9,120.2 761.0,129.2 761.1,119.7 761.3,125.6 761.4,119.8 761.5,128.6 761.6,119.6 761.7,128.2 761.9,122.2 762.0,128.3 762.1,119.2 762.2,129.9 762.3,115.7 762.5,131.7 762.6,116.5 762.7,133.3 762.8,117.1 762.9,131.4 763.1,121.3 763.2,134.7 763.3,125.6 763.4,134.0 763.5,126.7 763.7,137.2 763.8,129.2 763.9,134.6 764.0,127.7 764.1,133.7 764.3,128.3 764.4,134.7 764.5,124.7 764.6,136.3 764.7,124.2 764.9,137.6 765.0,124.2 765.1,137.4 765.2,123.7 765.3,136.7 765.5,119.0 765.6,137.6 765.7,121.1 765.8,137.2 765.9,118.8 766.1,135.0 766.2,122.2 766.3,132.9 766.4,122.0 766.5,130.8 766.7,124.2 766.8,130.9 766.9,125.0 767.0,133.1 767.1,125.3 767.3,131.8 767.4,123.7 767.5,128.9 767.6,125.9 767.7,132.0 767.9,124.1 768.0,129.4 768.1,122.2 768.2,127.2 768.3,121.7 768.5,128.4 768.6,121.8 768.7,127.5 768.8,121.7 768.9,125.8 769.1,119.9 769.2,127.8 769.3,119.0 769.4,126.2 769.5,119.6 769.7,124.9 769.8,117.3 769.9,125.1 770.0,114.0 770.1,128.5 770.3,116.5 770.4,130.4 770.5,116.1 770.6,129.5 770.7,115.9 770.9,134.6 771.0,116.3 771.1,136.0 771.2,120.8 771.3,133.2 771.5,122.6 771.6,129.8 771.7,121.5 771.8,129.9 771.9,124.1 772.1,130.4 772.2,123.6 772.3,132.2 772.4,120.9 772.5,131.2 772.7,123.6 772.8,133.2 772.9,123.5 773.0,131.9 773.1,121.4 773.3,132.8 773.4,123.1 773.5,134.9 773.6,126.0 773.7,133.2 773.9,121.2 774.0,134.3 774.1,122.7 774.2,135.0 774.3,121.2 774.5,136.1 774.6,120.4 774.7,140.4 774.8,116.9 774.9,132.6 775.1,117.9 775.2,129.5 775.3,121.3 775.4,132.6 775.5,122.8 775.7,129.9 775.8,119.8 775.9,128.0 776.0,120.6 776.1,127.1 776.3,116.9 776.4,128.0 776.5,115.2 776.6,126.3 776.7,120.6 776.9,127.3 777.0,118.2 777.1,127.5 777.2,117.6 777.3,125.1 777.5,114.1 777.6,125.6 777.7,116.6 777.8,123.3 777.9,110.0 778.1,120.5 778.2,103.3 778.3,112.7 778.4,94.1 778.5,103.9 778.7,92.9 778.8,102.5 778.9,95.1 779.0,106.9 779.1,104.5 779.3,111.8 779.4,110.0 779.5,120.8 779.6,117.3 779.7,126.7 779.9,123.6 780.0,130.4 780.1,119.9 780.2,126.6 780.3,121.4 780.5,126.3 780.6,120.4 780.7,125.7 780.8,121.5 780.9,126.8 781.1,118.5 781.2,129.0 781.3,121.6 781.4,129.7 781.5,116.9 781.7,128.2 781.8,118.9 781.9,128.7 782.0,117.3 782.1,139.1 782.3,120.8 782.4,132.4 782.5,116.8 782.6,128.0 782.7,120.1 782.9,126.8 783.0,120.1 783.1,124.4 783.2,118.8 783.3,127.6 783.5,119.9 783.6,126.3 783.7,122.0 783.8,125.9 783.9,120.2 784.1,123.7 784.2,117.8 784.3,123.3 784.4,120.7 784.5,124.5 784.7,121.9 784.8,125.8 784.9,123.0 785.0,124.9 785.1,118.9 785.3,128.6 785.4,120.6 785.5,129.2 785.6,121.4 785.7,131.2 785.9,118.4 786.0,130.6 786.1,122.3 786.2,130.3 786.3,121.6 786.5,128.7 786.6,118.3 786.7,129.8 786.8,118.3 786.9,130.6 787.1,121.6 787.2,132.5 787.3,118.9 787.4,128.8 787.5,119.4 787.7,126.6 787.8,115.9 787.9,131.7 788.0,118.2 788.1,131.6 788.3,115.5 788.4,127.4 788.5,116.3 788.6,128.4 788.7,115.0 788.9,123.8 789.0,115.2 789.1,124.4 789.2,113.4 789.3,125.5 789.5,115.6 789.6,125.5 789.7,113.1 789.8,127.2 789.9,118.7 790.1,128.5 790.2,116.7 790.3,128.2 790.4,114.3 790.5,126.7 790.7,114.0 790.8,132.6 790.9,114.0 791.0,128.0 791.1,116.4 791.3,135.7 791.4,120.1 791.5,134.4 791.6,118.2 791.7,137.0 791.9,116.2 792.0,138.9 792.1,119.2 792.2,139.9 792.3,112.7 792.5,135.2 792.6,113.6 792.7,130.2 792.8,119.9 792.9,132.0 793.1,119.3 793.2,132.6 793.3,120.9 793.4,135.5 793.5,122.2 793.7,131.6 793.8,128.1 793.9,137.0 794.0,126.4 794.1,133.9 794.3,122.3 794.4,136.3 794.5,123.4 794.6,132.8 794.7,124.5 794.9,140.3 795.0,117.3 795.1,133.5 795.2,121.4 795.3,137.4 795.5,119.4 795.6,134.3 795.7,119.7 795.8,138.3 795.9,120.4 796.1,132.7 796.2,119.4 796.3,133.0 796.4,119.8 796.5,132.6 796.7,123.8 796.8,134.5 796.9,126.3 797.0,135.2 797.1,127.1 797.3,134.3 797.4,123.8 797.5,132.3 797.6,125.2 797.7,131.5 797.9,122.6 798.0,131.6 798.1,122.9 798.2,129.0 798.3,124.5 798.5,132.2 798.6,119.9 798.7,133.8 798.8,123.4 798.9,130.4 799.1,120.7 799.2,134.6 799.3,122.3 799.4,133.9 799.5,120.5 799.7,130.4 799.8,121.9 799.9,132.1 800.0,120.2 800.1,132.1 800.3,122.0 800.4,130.1 800.5,121.8 800.6,133.0 800.7,122.3 800.9,131.2 801.0,119.2 801.1,132.9 801.2,120.3 801.3,128.1 801.5,122.4 801.6,126.1 801.7,117.7 801.8,125.6 801.9,119.1 802.1,125.0 802.2,119.3 802.3,127.0 802.4,119.5 802.5,129.2 802.7,122.2 802.8,132.1 802.9,120.4 803.0,129.9 803.1,121.7 803.3,127.3 803.4,122.0 803.5,127.3 803.6,120.1 803.7,125.2 803.9,119.9 804.0,127.6 804.1,122.1 804.2,126.6 804.3,119.9 804.5,130.3 804.6,118.3 804.7,130.2 804.8,121.6 804.9,151.2 805.1,110.7 805.2,130.4 805.3,121.8 805.4,129.2 805.5,123.6 805.7,129.4 805.8,121.6 805.9,129.8 806.0,122.0 806.1,132.4 806.3,125.2 806.4,135.2 806.5,123.5 806.6,134.9 806.7,121.8 806.9,139.4 807.0,127.9 807.1,135.3 807.2,120.4 807.3,137.4 807.5,122.1 807.6,136.7 807.7,122.9 807.8,138.9 807.9,125.9 808.1,135.4 808.2,121.4 808.3,139.5 808.4,122.0 808.5,135.4 808.7,122.6 808.8,134.1 808.9,108.6 809.0,132.4 809.1,120.0 809.3,131.9 809.4,119.1 809.5,130.3 809.6,144.1 809.7,128.4 809.9,114.5 810.0,128.2 810.1,116.4 810.2,129.8 810.3,118.7 810.5,130.7 810.6,116.6 810.7,128.7 810.8,120.8 810.9,128.1 811.1,119.2 811.2,127.9 811.3,115.6 811.4,129.0 811.5,114.4 811.7,133.3 811.8,122.2 811.9,131.6 812.0,118.3 812.1,133.4 812.3,118.6 812.4,100.0 812.5,113.0 812.6,136.4 812.7,119.6 812.9,137.9 813.0,111.7 813.1,134.9 813.2,112.0 813.3,133.3 813.5,144.3 813.6,137.4 813.7,115.1 813.8,134.8 813.9,113.3 814.1,140.3 814.2,117.6 814.3,141.0 814.4,113.8 814.5,142.3 814.7,111.4 814.8,139.0 814.9,111.2 815.0,139.7 815.1,114.3 815.3,130.9 815.4,119.0 815.5,131.6 815.6,117.2 815.7,129.9 815.9,117.2 816.0,129.8 816.1,119.4 816.2,130.4 816.3,118.9 816.5,132.5 816.6,121.1 816.7,136.2 816.8,119.6 816.9,134.6 817.1,120.1 817.2,129.5 817.3,120.1 817.4,133.0 817.5,122.3 817.7,114.5 817.8,124.1 817.9,136.3 818.0,121.8 818.1,132.4 818.3,125.6 818.4,134.0 818.5,127.5 818.6,135.1 818.7,124.8 818.9,136.9 819.0,124.0 819.1,136.9 819.2,127.7 819.3,138.3 819.5,124.6 819.6,138.4 819.7,127.8 819.8,140.5 819.9,127.3 820.1,135.7 820.2,130.1 820.3,139.3 820.4,131.3 820.5,137.7 820.7,130.4 820.8,139.1 820.9,129.6 821.0,140.1 821.1,129.9 821.3,139.3 821.4,128.9 821.5,140.0 821.6,132.2 821.7,140.0 821.9,129.2 822.0,142.0 822.1,130.0 822.2,140.9 822.3,132.2 822.5,144.6 822.6,130.5 822.7,142.3 822.8,128.6 822.9,140.2 823.1,130.8 823.2,139.2 823.3,129.3 823.4,139.1 823.5,125.7 823.7,134.7 823.8,127.7 823.9,138.2 824.0,126.6 824.1,136.5 824.3,127.8 824.4,138.5 824.5,125.0 824.6,135.6 824.7,126.1 824.9,132.4 825.0,123.2 825.1,136.7 825.2,121.0 825.3,134.5 825.5,121.3 825.6,136.3 825.7,120.5 825.8,135.1 825.9,121.0 826.1,139.7 826.2,119.3 826.3,138.5 826.4,119.7 826.5,141.3 826.7,121.7 826.8,142.7 826.9,124.8 827.0,140.3 827.1,120.1 827.3,142.7 827.4,120.9 827.5,145.3 827.6,120.4 827.7,143.6 827.9,120.9 828.0,143.5 828.1,119.1 828.2,145.0 828.3,123.8 828.5,149.7 828.6,124.2 828.7,143.9 828.8,128.8 828.9,145.1 829.1,124.4 829.2,149.1 829.3,125.2 829.4,144.9 829.5,122.9 829.7,156.3 829.8,119.2 829.9,150.6 830.0,123.3 830.1,153.1 830.3,121.4 830.4,145.6 830.5,120.6 830.6,149.5 830.7,122.8 830.9,145.5 831.0,123.9 831.1,146.0 831.2,123.1 831.3,148.0 831.5,124.0 831.6,151.5 831.7,119.9 831.8,146.3 831.9,122.3 832.1,139.9 832.2,126.0 832.3,144.1 832.4,128.3 832.5,144.8 832.7,126.5 832.8,141.7 832.9,125.0 833.0,138.0 833.1,122.2 833.3,137.4 833.4,124.5 833.5,138.6 833.6,125.3 833.7,138.7 833.9,128.5 834.0,139.6 834.1,127.3 834.2,142.0 834.3,125.0 834.5,141.1 834.6,121.3 834.7,136.9 834.8,123.8 834.9,140.9 835.1,117.7 835.2,137.7 835.3,119.3 835.4,140.0 835.5,118.9 835.7,140.6 835.8,115.1 835.9,137.4 836.0,120.5 836.1,135.0 836.3,120.6 836.4,136.6 836.5,122.4 836.6,139.4 836.7,123.0 836.9,140.7 837.0,123.4 837.1,140.5 837.2,116.9 837.3,139.8 837.5,123.1 837.6,138.4 837.7,117.3 837.8,135.5 837.9,121.8 838.1,134.2 838.2,121.7 838.3,135.8 838.4,122.8 838.5,133.7 838.7,122.2 838.8,132.9 838.9,119.8 839.0,136.5 839.1,118.9 839.3,140.7 839.4,121.0 839.5,133.1 839.6,124.6 839.7,134.1 839.9,126.8 840.0,134.0 840.1,126.1 840.2,133.5 840.3,126.1 840.5,136.5 840.6,126.8 840.7,138.8 840.8,126.3 840.9,138.1" fill="none" stroke="#5c5c5c" stroke-width="0.85" stroke-linejoin="round"/>
<text transform="translate(868.74,159.96) rotate(-90) scale(0.9186,1)" font-size="26.06" fill="#000" >0.2 mV</text>
<path d="M875.2,85.6 V160 H922" fill="none" stroke="#000" stroke-width="3.4"/>
<text transform="translate(859.02,194.9) scale(0.9755,1)" font-size="24.29" fill="#000" >20 sec</text>
<line x1="592.8" y1="139.5" x2="568.5" y2="211.4" stroke="#3a3232" stroke-width="1.5" stroke-dasharray="6 5.6" fill="none"/>
<line x1="607.6" y1="143.7" x2="723.8" y2="206.1" stroke="#3a3232" stroke-width="1.5" stroke-dasharray="6 5.6" fill="none"/>
<polyline points="573.0,219.3 573.2,218.3 573.5,215.6 573.9,214.9 574.3,213.0 574.7,215.6 575.0,211.4 575.4,214.7 575.8,217.5 576.1,218.7 576.4,223.2 576.7,220.2 577.1,221.5 577.4,218.7 577.8,212.3 578.1,214.6 578.4,219.3 578.7,219.7 579.0,220.3 579.3,221.6 579.7,217.6 580.0,213.4 580.4,210.1 580.6,210.2 580.9,212.1 581.3,216.1 581.6,221.0 581.9,222.2 582.2,223.6 582.6,221.1 582.8,216.3 583.1,213.1 583.4,211.7 583.8,209.9 584.1,209.8 584.4,211.5 584.7,217.1 585.0,220.2 585.4,223.5 585.7,226.1 586.0,228.1 586.3,226.9 586.6,224.4 586.9,220.2 587.2,217.3 587.5,215.6 587.8,216.0 588.1,220.1 588.4,225.5 588.7,229.1 589.0,233.7 589.4,236.0 589.7,231.8 590.0,226.4 590.4,225.1 590.7,218.8 591.1,217.0 591.4,214.1 591.7,218.8 592.0,218.8 592.3,219.3 592.6,220.4 592.9,222.1 593.2,221.9 593.6,220.5 593.9,217.2 594.2,217.5 594.5,213.2 594.8,211.5 595.1,211.1 595.4,210.9 595.7,220.3 596.0,224.9 596.4,227.9 596.7,228.1 597.0,225.4 597.3,225.7 597.6,221.3 597.9,218.7 598.2,216.9 598.5,217.2 598.9,218.0 599.2,217.1 599.5,217.3 599.8,222.0 600.1,220.3 600.4,223.6 600.8,221.1 601.1,218.4 601.5,216.5 601.8,216.2 602.1,216.2 602.4,216.1 602.7,220.4 603.0,224.6 603.4,223.0 603.7,221.2 604.0,219.9 604.4,217.6 604.8,216.7 605.1,215.3 605.4,214.1 605.9,219.6 606.2,220.5 606.6,224.5 606.9,227.1 607.2,222.3 607.6,217.6 607.9,214.0 608.2,214.1 608.5,214.0 608.8,217.2 609.1,219.6 609.5,223.1 609.8,221.8 610.1,220.2 610.5,218.1 610.9,216.8 611.2,214.7 611.5,215.6 611.9,213.6 612.3,217.3 612.6,222.5 612.9,222.2 613.2,224.3 613.6,220.5 613.9,214.7 614.2,211.2 614.6,213.4 614.9,223.1 615.3,227.2 615.7,222.9 616.0,218.2 616.4,211.1 616.8,207.9 617.1,212.3 617.4,216.4 617.7,220.9 618.0,225.2 618.3,228.0 618.7,227.4 619.0,224.4 619.3,221.1 619.7,217.2 620.0,216.7 620.4,217.5 620.7,219.1 621.0,220.2 621.4,222.7 621.7,225.9 622.0,225.7 622.3,225.0 622.7,219.8 623.0,216.8 623.3,218.1 623.6,216.1 623.9,216.6 624.3,217.5 624.6,220.6 624.9,224.1 625.2,223.8 625.6,223.4 625.9,215.5 626.3,213.5 626.6,213.7 626.9,215.7 627.2,219.0 627.5,219.8 627.8,222.0 628.2,222.5 628.5,222.7 628.8,224.0 629.2,219.5 629.5,219.7 629.9,217.9 630.2,217.4 630.5,218.9 630.8,219.4 631.1,224.4 631.4,228.5 631.7,226.3 632.1,224.6 632.4,218.7 632.8,215.1 633.2,211.2 633.5,216.5 633.9,218.0 634.2,221.2 634.6,229.5 635.0,230.1 635.3,228.6 635.6,226.5 636.0,222.3 636.3,219.1 636.6,217.2 637.0,215.0 637.3,213.7 637.6,213.2 638.0,214.0 638.3,216.9 638.7,221.1 639.0,223.5 639.3,221.9 639.7,220.8 640.0,220.9 640.3,217.5 640.7,214.8 641.0,210.2 641.3,210.8 641.6,211.8 641.9,215.3 642.2,216.3 642.5,223.6 642.8,225.3 643.1,228.1 643.4,228.9 643.8,233.0 644.1,236.6 644.4,233.5 644.8,234.5 645.1,231.7 645.5,226.1 645.8,224.8 646.2,219.4 646.4,217.8 646.8,215.8 647.1,216.7 647.3,221.6 647.7,223.3 648.0,227.0 648.3,226.2 648.6,227.9 648.9,229.2 649.2,227.6 649.6,223.9 649.9,222.3 650.2,217.4 650.5,217.1 650.8,214.3 651.2,216.2 651.5,216.0 651.8,217.1 652.2,219.5 652.5,223.3 652.8,220.7 653.1,221.7 653.5,223.5 653.9,220.5 654.2,221.9 654.6,218.5 654.9,217.2 655.2,217.1 655.5,219.5 655.8,219.6 656.1,221.2 656.4,222.2 656.7,220.1 657.0,220.1 657.3,221.5 657.6,218.5 658.0,215.9 658.3,214.1 658.6,211.2 658.8,211.9 659.3,213.8 659.6,221.6 660.0,223.8 660.3,223.1 660.7,220.6 661.0,216.0 661.4,215.4 661.7,215.9 662.0,217.9 662.3,221.7 662.7,219.9 663.1,220.1 663.4,221.8 663.7,219.9 664.0,218.3 664.3,213.6 664.6,210.9 664.9,206.6 665.2,208.0 665.6,209.3 665.9,210.5 666.2,214.9 666.5,219.8 666.8,222.5 667.1,217.2 667.4,217.9 667.8,216.8 668.1,218.6 668.4,223.4 668.8,227.6 669.2,227.3 669.5,228.4 669.8,225.5 670.1,221.9 670.5,220.5 670.8,219.5 671.1,213.7 671.4,212.5 671.7,213.5 672.0,221.0 672.3,221.4 672.6,224.6 673.0,224.9 673.2,224.2 673.5,221.4 673.8,222.3 674.2,220.3 674.5,215.3 674.8,215.0 675.1,214.7 675.4,216.2 675.8,218.0 676.1,221.2 676.5,223.6 676.8,224.7 677.1,225.5 677.5,220.8 677.9,218.7 678.2,217.5 678.6,213.7 678.9,212.4 679.2,211.3 679.6,214.8 679.9,222.0 680.2,224.9 680.5,225.8 680.9,225.2 681.2,222.0 681.5,222.6 681.9,221.2 682.2,220.1 682.5,217.1 682.9,217.9 683.2,219.4 683.5,223.9 683.8,223.6 684.1,218.5 684.5,217.7 684.8,216.5 685.1,217.5 685.4,218.2 685.8,222.2 686.2,221.8 686.5,216.2 686.9,213.6 687.3,207.6 687.6,212.5 688.0,213.5 688.4,217.1 688.7,221.0 689.1,222.7 689.4,222.4 689.7,219.3 690.0,216.1 690.3,213.7 690.6,213.1 690.9,216.4 691.3,215.6 691.6,221.6 692.0,224.1 692.3,226.2 692.6,225.7 693.1,227.1 693.4,219.5 693.8,214.3 694.1,213.3 694.5,213.5 694.9,220.1 695.2,225.2 695.6,228.5 695.9,226.1 696.2,218.1 696.5,214.8 696.9,210.8 697.2,212.6 697.5,215.8 697.8,221.6 698.2,223.0 698.5,226.8 698.9,227.3 699.2,222.9 699.6,222.7 699.9,216.3 700.2,216.1 700.6,215.6 700.9,216.9 701.3,218.3 701.6,220.7 701.9,222.0 702.2,218.7 702.6,217.0 702.9,216.2 703.2,214.0 703.6,220.5 703.9,223.4 704.3,226.6 704.5,230.8 704.9,225.7 705.2,218.2 705.6,214.3 705.9,212.3 706.2,218.8 706.5,220.2 706.9,224.3 707.2,225.4 707.5,225.8 707.8,225.1 708.2,221.2 708.5,218.9 708.8,214.9 709.2,214.9 709.5,216.3 709.9,215.9 710.2,223.3 710.5,222.3 710.9,222.7 711.2,225.8 711.6,224.3 712.0,218.1 712.3,216.2 712.7,220.2 713.0,217.6 713.4,217.5 713.8,222.3 714.1,228.0 714.4,226.8 714.7,223.9 715.0,218.8 715.3,212.7 715.7,209.2 716.0,209.1 716.3,215.2 716.6,217.7 717.0,223.6 717.3,229.5 717.6,229.7 718.0,227.4 718.4,222.8 718.7,218.7 719.0,216.2 719.4,213.8 719.7,218.2 720.0,222.9 720.3,223.0 720.7,219.6 721.0,216.9 721.4,213.5 721.6,215.5 721.9,219.5 722.2,218.6 722.5,218.9 722.9,220.4 723.2,221.9 723.5,222.3 723.8,221.5 724.2,219.8 724.5,220.1 724.8,219.8 725.1,215.9 725.4,215.5 725.8,219.5 726.1,219.1 726.5,221.8 726.7,221.3 727.0,220.5 727.4,218.0 727.7,215.3 728.0,215.4 728.4,213.0 728.7,213.3 729.1,215.4 729.4,221.8 729.8,220.9 730.1,224.7 730.4,223.5 730.7,220.5 731.0,216.0 731.4,213.9 731.7,215.1 732.0,215.3 732.3,215.9 732.7,220.9 733.0,219.7 733.3,224.4 733.6,223.2 734.0,221.6 734.3,221.6 734.7,221.0 735.0,216.1 735.3,215.4 735.6,214.8 735.9,217.7 736.3,220.6 736.5,222.6 736.8,222.3 737.2,218.8 737.6,215.0 737.9,211.7 738.3,212.1 738.7,214.2 739.1,220.9 739.4,222.8 739.8,221.8 740.1,220.7 740.4,218.0 740.7,217.0 741.0,219.7 741.3,225.1 741.7,224.1 742.0,223.1 742.4,218.3 742.7,213.2 743.1,211.6 743.5,211.8 743.8,210.9 744.1,210.8 744.4,214.4 744.7,217.0 745.0,220.4 745.3,223.4 745.6,225.4 746.0,221.9 746.5,217.8 746.8,214.7 747.2,211.5 747.4,210.0 747.7,218.5 747.7,228.0" fill="none" stroke="#cc1f1f" stroke-width="1.25" stroke-linejoin="round"/>
<text transform="translate(135.75,260.31) scale(0.9821,1)" font-size="22.33" fill="#000" >Temp</text>
<line x1="195.7" y1="260.8" x2="831" y2="260.8" stroke="#554b4b" stroke-width="1.6" stroke-dasharray="5.8 5.85"/>
<line x1="195.7" y1="319.2" x2="831" y2="319.2" stroke="#554b4b" stroke-width="1.6" stroke-dasharray="5.8 5.85"/>
<path d="M194.1,257.3 C197.4,257.1 207.7,255.9 214.0,256.0 C220.3,256.1 227.0,257.6 232.0,257.6 C237.0,257.6 241.0,255.9 244.0,255.8 C247.0,255.8 245.7,257.2 250.0,257.3 C254.3,257.4 256.7,256.8 270.0,256.6 C283.3,256.4 311.7,256.2 330.0,256.2 C348.3,256.2 369.6,256.6 380.0,256.6 C390.4,256.6 389.9,256.2 392.7,256.3 C395.5,256.4 395.8,256.5 397.0,257.0 C398.2,257.5 398.4,257.1 399.9,259.5 C401.4,261.9 403.8,266.4 406.2,271.2 C408.6,275.9 411.3,282.1 414.0,288.0 C416.7,293.9 420.0,302.1 422.3,306.7 C424.6,311.3 426.3,313.5 428.0,315.5 C429.7,317.5 429.6,317.4 432.4,318.6 C435.2,319.9 439.9,321.8 445.0,323.0 C450.1,324.2 456.5,325.3 463.0,325.6 C469.5,325.9 479.7,325.2 484.0,324.7 C488.3,324.1 484.5,322.5 488.8,322.3 C493.1,322.1 503.0,323.5 509.8,323.3 C516.6,323.1 524.1,321.4 529.5,321.4 C534.9,321.3 533.7,322.6 542.0,323.0 C550.3,323.4 566.5,323.9 579.5,324.0 C592.5,324.1 606.6,324.0 620.0,323.8 C633.4,323.6 643.7,323.2 660.0,322.6 C676.3,322.0 699.4,321.1 718.0,320.2 C736.6,319.3 752.6,318.0 771.6,317.0 C790.6,316.0 822.2,314.7 832.3,314.2" fill="none" stroke="#1a0e0e" stroke-width="2.2"/>
<text transform="translate(835.05,265.84) scale(0.9935,1)" font-size="16.48" fill="#000" >37</text><ellipse cx="855.9" cy="258.9" rx="2.5" ry="2.75" fill="none" stroke="#000" stroke-width="1.15"/><text transform="translate(858.96,265.84) scale(0.8958,1)" font-size="16.48" fill="#000" >C</text>
<text transform="translate(835.05,325.54) scale(0.9876,1)" font-size="16.34" fill="#000" >30</text><ellipse cx="855.9" cy="318.7" rx="2.5" ry="2.75" fill="none" stroke="#000" stroke-width="1.15"/><text transform="translate(858.96,325.54) scale(0.9035,1)" font-size="16.34" fill="#000" >C</text>
<polyline points="164.3,368.0 164.4,368.4 164.8,366.3 165.0,368.4 165.3,373.4 165.7,374.1 166.1,375.6 166.7,375.6 167.0,375.5 167.3,376.4 167.6,375.6 168.0,373.5 168.4,368.9 168.8,364.3 169.2,365.4 169.6,365.8 170.0,364.4 170.4,362.8 170.7,357.9 171.1,357.0 171.4,358.2 171.8,357.4 172.2,357.1 172.6,358.9 173.0,362.1 173.4,365.7 173.7,368.6 174.1,371.6 174.4,372.4 174.7,372.1 175.2,373.0 175.6,369.7 176.0,365.3 176.4,364.6 176.7,364.5 177.1,362.8 177.5,364.7 177.8,368.3 178.1,372.7 178.5,376.5 179.0,377.7 179.3,378.9 179.6,377.3 179.9,375.8 180.3,373.4 180.7,370.2 181.1,367.7 181.5,365.8 181.9,365.1 182.3,362.9 182.7,360.7 183.0,360.7 183.3,361.3 183.6,357.8 184.2,357.2 184.6,357.8 185.0,357.8 185.3,361.7 185.7,364.6 186.0,365.4 186.4,366.6 186.7,369.9 187.1,371.8 187.4,372.4 187.8,374.3 188.1,375.3 188.5,372.9 188.8,369.7 189.2,367.4 189.5,364.9 189.9,363.2 190.3,362.7 190.6,365.2 191.0,368.5 191.3,370.7 191.7,374.5 192.1,378.7 192.4,383.2 192.8,384.9 193.2,384.7 193.5,385.5 193.9,383.2 194.3,380.6 194.7,377.4 195.1,371.2 195.5,364.7 195.8,360.2 196.2,358.6 196.6,357.0 197.0,355.5 197.4,354.0 197.8,356.6 198.2,359.6 198.5,359.2 198.9,363.6 199.2,368.9 199.5,370.0 200.0,371.2 200.3,372.1 200.6,372.1 201.0,368.8 201.4,365.5 201.7,365.5 202.1,365.6 202.5,363.1 202.9,357.7 203.3,357.4 203.7,361.9 204.1,366.6 204.5,371.3 204.9,374.3 205.2,374.9 205.6,378.2 206.0,380.9 206.4,380.2 206.8,379.1 207.1,378.3 207.5,374.1 207.9,367.9 208.3,364.8 208.7,362.0 209.0,358.0 209.4,354.9 209.7,355.2 210.1,358.7 210.5,362.7 210.8,366.9 211.1,372.5 211.5,373.8 211.9,372.9 212.2,374.1 212.6,373.5 213.0,371.5 213.4,370.7 213.8,368.1 214.2,365.3 214.6,362.5 214.9,360.4 215.2,363.2 215.6,364.5 215.8,366.2 216.0,370.3 216.6,370.6 216.9,370.2 217.2,370.4 217.5,369.7 217.9,367.8 218.3,364.4 218.7,362.8 219.2,362.5 219.6,362.9 220.0,362.2 220.5,360.3 220.8,359.6 221.2,360.8 221.5,360.3 221.8,361.0 222.4,363.8 222.7,367.8 223.0,377.0 223.3,383.8 223.6,384.3 223.9,382.0 224.2,377.9 224.6,373.2 224.9,368.7 225.3,362.3 225.8,359.7 226.1,359.9 226.4,360.0 226.8,361.7 227.2,362.8 227.6,365.0 228.0,368.0 228.4,370.0 228.8,372.4 229.2,373.0 229.6,371.2 229.9,371.2 230.3,372.3 230.7,371.2 231.0,369.4 231.4,367.6 231.7,364.1 232.0,360.6 232.4,357.5 232.8,357.1 233.1,357.0 233.5,354.0 233.9,352.4 234.2,352.6 234.6,355.0 235.0,356.1 235.4,352.7 235.8,352.1 236.2,354.8 236.6,356.6 237.0,358.2 237.3,359.1 237.7,361.9 238.1,365.0 238.5,365.5 238.8,368.5 239.2,373.1 239.6,377.5 240.0,381.4 240.3,380.6 240.7,380.0 241.1,380.3 241.5,376.6 241.9,371.4 242.3,369.3 242.7,367.6 243.1,363.1 243.5,356.3 243.8,353.4 244.2,353.0 244.5,350.4 244.9,349.6 245.3,349.3 245.7,351.1 246.0,353.6 246.4,354.1 246.7,356.1 247.0,358.3 247.4,358.9 247.8,362.0 248.2,366.4 248.6,367.6 249.0,369.2 249.4,372.1 249.7,372.0 250.1,372.3 250.4,373.4 250.8,370.0 251.2,366.0 251.6,364.6 252.0,359.6 252.4,353.4 252.9,351.8 253.3,351.8 253.7,352.4 254.1,356.3 254.5,359.9 254.9,362.5 255.3,365.5 255.6,365.6 256.1,363.0 256.6,361.7 256.9,362.4 257.3,363.8 257.7,367.3 258.1,370.6 258.6,373.1 259.0,376.2 259.3,378.0 259.8,375.5 260.2,371.5 260.6,370.2 260.9,370.6 261.2,378.0 261.9,380.7 262.1,378.3 262.4,378.0 262.8,377.7 263.2,376.5 263.6,371.5 264.0,367.1 264.4,364.6 264.8,363.1 265.2,362.0 265.5,358.8 265.8,356.2 266.1,356.1 266.6,358.7 267.0,361.7 267.2,365.1 267.7,368.9 268.0,369.5 268.3,369.7 268.7,368.4 269.1,366.9 269.4,365.1 269.8,365.1 270.2,367.7 270.6,364.8 270.9,362.6 271.3,364.7 271.7,363.7 272.1,359.3 272.5,359.7 272.9,360.3 273.3,362.1 273.6,365.7 274.0,367.6 274.4,373.2 274.8,379.5 275.2,385.6 275.6,391.1 276.0,394.2 276.3,397.5 276.7,398.7 277.1,394.5 277.6,387.4 278.0,378.4 278.4,368.8 278.8,360.5 279.1,353.6 279.4,348.4 279.9,347.7 280.3,352.7 280.7,359.2 281.1,370.2 281.6,380.3 282.0,385.1 282.4,381.6 282.9,368.8 283.3,361.9 283.7,375.9 284.3,388.5 284.6,386.6 284.9,381.2 285.3,375.9 285.7,369.5 286.1,365.0 286.5,361.9 286.8,359.8 287.2,362.8 287.5,372.5 287.8,382.3 288.3,384.7 288.6,381.5 288.9,379.4 289.3,377.6 289.7,372.8 290.1,368.4 290.5,364.6 290.8,359.4 291.2,355.8 291.5,354.2 291.9,351.6 292.2,349.9 292.5,349.4 292.9,351.1 293.4,355.3 293.7,359.1 294.0,359.1 294.4,357.9 294.8,360.6 295.2,363.6 295.6,366.5 296.1,370.6 296.5,372.7 296.9,375.3 297.3,379.0 297.6,381.3 297.9,383.1 298.4,381.7 298.8,378.9 299.1,372.8 299.4,366.2 299.6,363.6 300.0,362.8 300.3,365.7 300.7,369.0 301.0,374.9 301.4,382.1 301.8,385.5 302.2,387.8 302.6,387.1 302.9,382.2 303.3,379.5 303.6,377.6 304.0,372.3 304.4,364.9 304.8,358.4 305.1,356.3 305.5,353.5 305.8,349.9 306.2,348.0 306.6,349.0 306.9,352.8 307.2,355.6 307.6,357.1 308.0,359.6 308.4,361.6 308.7,362.6 309.1,366.0 309.4,367.9 309.8,369.1 310.2,373.2 310.6,375.2 310.9,376.0 311.3,377.0 311.7,375.6 312.1,375.8 312.5,375.8 312.8,372.2 313.2,369.2 313.6,368.3 313.9,368.3 314.3,365.2 314.7,360.7 315.0,359.3 315.4,357.2 315.7,354.4 316.0,354.7 316.4,355.6 316.8,351.2 317.2,351.4 317.5,355.7 317.8,357.2 318.2,358.4 318.5,360.0 318.9,364.6 319.3,369.3 319.8,373.2 320.2,376.3 320.6,378.3 320.9,379.5 321.4,373.8 321.8,367.9 322.2,365.3 322.5,365.7 322.9,370.9 323.2,376.2 323.8,375.8 324.1,374.9 324.4,374.4 324.8,371.2 325.2,368.2 325.7,364.9 326.1,364.8 326.5,363.5 326.9,360.5 327.2,359.0 327.5,356.6 328.0,354.5 328.2,354.0 328.5,355.5 329.0,357.0 329.3,358.6 329.6,364.3 330.0,368.8 330.4,372.2 330.8,374.8 331.2,375.7 331.6,379.1 332.0,383.1 332.4,384.3 332.7,383.4 333.1,383.5 333.6,385.0 333.9,383.1 334.3,378.6 334.7,375.3 335.0,372.4 335.4,369.3 335.8,366.7 336.3,362.6 336.7,357.5 337.1,353.7 337.4,350.0 337.8,347.6 338.3,351.9 338.8,358.8 339.1,365.9 339.4,369.4" fill="none" stroke="#2a8038" stroke-width="1" stroke-linejoin="round"/>
<line x1="164" y1="383.2" x2="261.4" y2="436" stroke="#3a3232" stroke-width="1.5" stroke-dasharray="6 5.6" fill="none"/>
<line x1="331.7" y1="387.2" x2="271.5" y2="434.4" stroke="#3a3232" stroke-width="1.5" stroke-dasharray="6 5.6" fill="none"/>
<rect x="422.2" y="385" width="409.8" height="8.7" fill="#2b4a9f"/>
<text transform="translate(88.66,458.9) scale(0.9950,1)" font-size="54.57" fill="#000" >KO</text>
<polyline points="194.2,472.8 194.3,442.8 194.4,468.6 194.6,428.1 194.7,471.7 194.8,446.8 194.9,469.1 195.0,447.5 195.2,461.4 195.3,448.3 195.4,464.8 195.5,448.5 195.6,464.1 195.8,434.5 195.9,467.4 196.0,448.3 196.1,470.5 196.2,442.2 196.4,472.3 196.5,476.6 196.6,466.3 196.7,443.6 196.8,468.3 197.0,446.1 197.1,468.9 197.2,449.0 197.3,467.4 197.4,446.8 197.6,470.1 197.7,450.1 197.8,467.5 197.9,452.1 198.0,439.0 198.2,451.8 198.3,469.6 198.4,452.2 198.5,473.9 198.6,449.2 198.8,474.6 198.9,450.8 199.0,470.5 199.1,456.3 199.2,480.4 199.4,443.9 199.5,480.2 199.6,443.9 199.7,477.3 199.8,450.0 200.0,473.0 200.1,457.1 200.2,435.8 200.3,451.1 200.4,466.7 200.6,449.3 200.7,472.1 200.8,445.9 200.9,468.7 201.0,443.4 201.2,475.2 201.3,443.8 201.4,441.7 201.5,439.2 201.6,467.1 201.8,431.0 201.9,471.7 202.0,437.3 202.1,468.8 202.2,438.9 202.4,465.9 202.5,433.5 202.6,469.6 202.7,436.4 202.8,471.0 203.0,441.6 203.1,480.8 203.2,484.2 203.3,477.6 203.4,435.0 203.6,474.8 203.7,443.5 203.8,468.4 203.9,438.2 204.0,466.0 204.2,475.7 204.3,460.8 204.4,446.1 204.5,463.2 204.6,444.1 204.8,464.1 204.9,449.9 205.0,460.5 205.1,443.7 205.2,465.6 205.4,441.0 205.5,468.9 205.6,473.4 205.7,489.7 205.8,440.3 206.0,470.5 206.1,444.6 206.2,464.5 206.3,426.1 206.4,460.4 206.6,438.5 206.7,466.1 206.8,438.5 206.9,462.7 207.0,442.1 207.2,457.8 207.3,441.9 207.4,460.7 207.5,441.5 207.6,458.7 207.8,439.2 207.9,468.1 208.0,434.8 208.1,432.5 208.2,435.0 208.4,473.9 208.5,432.8 208.6,475.8 208.7,428.4 208.8,478.0 209.0,430.2 209.1,480.2 209.2,438.3 209.3,475.0 209.4,438.0 209.6,472.7 209.7,436.1 209.8,464.5 209.9,435.8 210.0,461.7 210.2,434.3 210.3,474.9 210.4,433.6 210.5,417.9 210.6,437.8 210.8,468.9 210.9,441.8 211.0,470.2 211.1,443.1 211.2,465.1 211.4,443.9 211.5,467.1 211.6,443.2 211.7,456.8 211.8,440.8 212.0,462.8 212.1,447.5 212.2,463.0 212.3,446.0 212.4,471.1 212.6,447.0 212.7,473.5 212.8,420.8 212.9,466.1 213.0,448.0 213.2,476.3 213.3,445.6 213.4,473.8 213.5,447.2 213.6,469.2 213.8,429.3 213.9,472.9 214.0,488.5 214.1,474.3 214.2,444.8 214.4,470.7 214.5,446.1 214.6,471.8 214.7,449.0 214.8,472.5 215.0,445.0 215.1,469.9 215.2,448.4 215.3,471.6 215.4,445.1 215.6,471.4 215.7,449.6 215.8,467.1 215.9,451.0 216.0,490.5 216.2,452.8 216.3,468.9 216.4,456.7 216.5,464.7 216.6,451.3 216.8,464.2 216.9,454.9 217.0,466.5 217.1,455.4 217.2,465.3 217.4,453.3 217.5,464.0 217.6,454.3 217.7,464.0 217.8,452.7 218.0,465.1 218.1,455.2 218.2,468.3 218.3,452.5 218.4,469.8 218.6,455.3 218.7,468.1 218.8,453.4 218.9,470.5 219.0,452.6 219.2,465.6 219.3,456.6 219.4,469.6 219.5,450.9 219.6,442.4 219.8,449.8 219.9,474.9 220.0,448.0 220.1,438.2 220.2,447.8 220.4,465.8 220.5,447.3 220.6,468.6 220.7,447.3 220.8,466.5 221.0,450.5 221.1,464.6 221.2,454.1 221.3,465.0 221.4,452.7 221.6,466.4 221.7,449.1 221.8,465.5 221.9,452.2 222.0,437.6 222.2,448.2 222.3,471.7 222.4,441.9 222.5,470.8 222.6,450.1 222.8,466.8 222.9,495.1 223.0,466.2 223.1,451.4 223.2,468.5 223.4,452.8 223.5,464.8 223.6,455.8 223.7,467.5 223.8,449.9 224.0,465.6 224.1,454.5 224.2,466.3 224.3,450.9 224.4,464.4 224.6,451.4 224.7,464.8 224.8,456.2 224.9,461.7 225.0,453.6 225.2,461.4 225.3,450.7 225.4,461.4 225.5,450.9 225.6,461.9 225.8,447.0 225.9,457.8 226.0,445.4 226.1,460.9 226.2,443.4 226.4,459.2 226.5,446.3 226.6,466.4 226.7,442.6 226.8,469.6 227.0,440.6 227.1,458.4 227.2,442.0 227.3,430.7 227.4,440.1 227.6,467.4 227.7,440.9 227.8,459.6 227.9,475.3 228.0,465.7 228.2,471.7 228.3,467.9 228.4,440.1 228.5,461.6 228.6,444.1 228.8,468.0 228.9,441.2 229.0,471.4 229.1,445.7 229.2,469.8 229.4,444.8 229.5,465.7 229.6,443.6 229.7,463.9 229.8,445.2 230.0,464.0 230.1,448.4 230.2,467.1 230.3,445.3 230.4,466.5 230.6,449.1 230.7,471.5 230.8,450.1 230.9,474.1 231.0,478.1 231.2,471.9 231.3,439.7 231.4,481.9 231.5,448.9 231.6,472.4 231.8,445.8 231.9,486.9 232.0,451.3 232.1,494.6 232.2,454.3 232.4,509.5 232.5,464.5 232.6,507.1 232.7,467.3 232.8,501.9 233.0,463.0 233.1,488.0 233.2,460.0 233.3,484.9 233.4,459.1 233.6,478.8 233.7,450.3 233.8,477.1 233.9,452.5 234.0,484.4 234.2,457.9 234.3,489.9 234.4,452.6 234.5,470.9 234.6,450.7 234.8,478.2 234.9,448.3 235.0,480.3 235.1,444.3 235.2,443.3 235.4,452.3 235.5,474.3 235.6,447.4 235.7,475.3 235.8,452.7 236.0,470.8 236.1,442.9 236.2,475.9 236.3,443.9 236.4,469.6 236.6,452.5 236.7,466.9 236.8,492.1 236.9,473.8 237.0,452.6 237.2,475.7 237.3,448.9 237.4,470.4 237.5,453.7 237.6,473.7 237.8,452.5 237.9,473.7 238.0,451.0 238.1,474.7 238.2,457.3 238.4,478.0 238.5,458.5 238.6,479.8 238.7,436.9 238.8,475.1 239.0,452.3 239.1,450.4 239.2,456.4 239.3,483.8 239.4,453.5 239.6,480.8 239.7,456.6 239.8,476.6 239.9,484.3 240.0,477.2 240.2,451.7 240.3,479.3 240.4,457.9 240.5,478.6 240.6,453.1 240.8,473.9 240.9,452.7 241.0,473.5 241.1,449.9 241.2,474.9 241.4,447.4 241.5,470.1 241.6,446.3 241.7,469.3 241.8,453.1 242.0,480.5 242.1,443.0 242.2,477.7 242.3,444.5 242.4,474.8 242.6,449.8 242.7,472.0 242.8,451.9 242.9,466.8 243.0,450.7 243.2,438.8 243.3,449.6 243.4,462.6 243.5,449.9 243.6,464.9 243.8,447.9 243.9,465.0 244.0,444.9 244.1,472.0 244.2,444.4 244.4,468.7 244.5,450.4 244.6,465.3 244.7,443.4 244.8,466.2 245.0,444.9 245.1,489.6 245.2,451.6 245.3,463.4 245.4,454.2 245.6,465.5 245.7,454.9 245.8,465.6 245.9,455.5 246.0,466.4 246.2,457.5 246.3,445.4 246.4,481.5 246.5,469.7 246.6,455.3 246.8,466.9 246.9,454.2 247.0,472.2 247.1,448.7 247.2,469.2 247.4,453.5 247.5,472.1 247.6,445.7 247.7,470.8 247.8,452.5 248.0,471.3 248.1,446.8 248.2,463.2 248.3,450.2 248.4,460.1 248.6,478.7 248.7,460.0 248.8,447.7 248.9,461.4 249.0,451.8 249.2,460.8 249.3,425.0 249.4,458.6 249.5,446.4 249.6,465.9 249.8,448.4 249.9,465.5 250.0,450.2 250.1,465.8 250.2,450.7 250.4,467.0 250.5,451.2 250.6,466.1 250.7,479.3 250.8,467.5 251.0,446.3 251.1,473.0 251.2,448.0 251.3,474.3 251.4,444.6 251.6,483.4 251.7,451.9 251.8,484.8 251.9,439.6 252.0,473.0 252.2,445.5 252.3,472.1 252.4,442.7 252.5,468.7 252.6,443.6 252.8,469.0 252.9,440.7 253.0,464.6 253.1,442.2 253.2,467.1 253.4,445.2 253.5,468.7 253.6,476.4 253.7,476.5 253.8,441.4 254.0,466.0 254.1,438.2 254.2,458.5 254.3,438.8 254.4,461.3 254.6,442.7 254.7,459.4 254.8,440.0 254.9,459.3 255.0,440.6 255.2,461.9 255.3,435.4 255.4,460.0 255.5,442.3 255.6,460.1 255.8,435.5 255.9,455.8 256.0,437.4 256.1,462.6 256.2,438.2 256.4,465.2 256.5,439.7 256.6,465.7 256.7,436.8 256.8,466.3 257.0,485.7 257.1,421.7 257.2,444.4 257.3,464.8 257.4,441.5 257.6,463.6 257.7,443.4 257.8,462.1 257.9,444.7 258.0,459.4 258.2,446.6 258.3,466.2 258.4,450.9 258.5,465.9 258.6,451.3 258.8,464.7 258.9,446.9 259.0,462.6 259.1,447.8 259.2,461.8 259.4,452.5 259.5,468.3 259.6,449.8 259.7,466.3 259.8,454.5 260.0,469.3 260.1,452.4 260.2,467.6 260.3,453.0 260.4,474.4 260.6,445.3 260.7,470.3 260.8,448.9 260.9,474.8 261.0,442.6 261.2,473.2 261.3,446.0 261.4,473.3 261.5,420.9 261.6,479.4 261.8,434.3 261.9,481.7 262.0,447.2 262.1,475.1 262.2,438.6 262.4,468.6 262.5,440.1 262.6,480.8 262.7,437.4 262.8,473.6 263.0,441.8 263.1,475.6 263.2,440.1 263.3,475.4 263.4,448.8 263.6,469.0 263.7,454.6 263.8,467.4 263.9,451.8 264.0,473.8 264.2,443.5 264.3,476.7 264.4,442.5 264.5,481.3 264.6,444.5 264.8,471.0 264.9,439.1 265.0,475.8 265.1,439.1 265.2,476.6 265.4,439.8 265.5,471.7 265.6,440.2 265.7,464.7 265.8,444.6 266.0,464.4 266.1,438.1 266.2,462.6 266.3,442.1 266.4,467.1 266.6,436.4 266.7,469.5 266.8,430.1 266.9,468.5 267.0,428.1 267.2,473.0 267.3,427.0 267.4,479.5 267.5,429.2 267.6,480.6 267.8,417.9 267.9,461.5 268.0,423.3 268.1,474.7 268.2,428.0 268.4,470.6 268.5,434.5 268.6,466.7 268.7,433.6 268.8,469.8 269.0,442.3 269.1,470.6 269.2,445.4 269.3,459.8 269.4,442.3 269.6,466.2 269.7,442.4 269.8,469.0 269.9,446.1 270.0,462.7 270.2,444.1 270.3,459.5 270.4,446.9 270.5,461.2 270.6,453.2 270.8,463.9 270.9,451.1 271.0,468.2 271.1,448.9 271.2,468.0 271.4,450.3 271.5,471.4 271.6,443.4 271.7,473.7 271.8,443.5 272.0,469.2 272.1,451.2 272.2,466.1 272.3,451.9 272.4,463.2 272.6,448.2 272.7,461.4 272.8,453.2 272.9,461.7 273.0,451.0 273.2,461.2 273.3,450.4 273.4,460.0 273.5,448.9 273.6,460.7 273.8,450.0 273.9,435.7 274.0,449.1 274.1,463.3 274.2,447.9 274.4,464.7 274.5,452.3 274.6,461.5 274.7,449.8 274.8,436.8 275.0,450.0 275.1,436.1 275.2,454.6 275.3,467.4 275.4,454.2 275.6,468.5 275.7,448.8 275.8,467.8 275.9,446.8 276.0,482.2 276.2,447.7 276.3,497.7 276.4,451.6 276.5,461.4 276.6,447.6 276.8,463.2 276.9,445.0 277.0,460.0 277.1,449.8 277.2,467.9 277.4,447.8 277.5,461.7 277.6,446.3 277.7,466.7 277.8,446.1 278.0,427.5 278.1,442.2 278.2,463.2 278.3,443.5 278.4,466.8 278.6,447.4 278.7,462.7 278.8,449.9 278.9,463.5 279.0,488.1 279.2,439.1 279.3,448.8 279.4,469.5 279.5,451.4 279.6,467.7 279.8,450.9 279.9,471.0 280.0,451.1 280.1,473.5 280.2,445.5 280.4,473.0 280.5,451.9 280.6,473.0 280.7,443.0 280.8,469.7 281.0,446.8 281.1,475.3 281.2,450.0 281.3,470.5 281.4,450.3 281.6,466.8 281.7,451.1 281.8,470.4 281.9,446.5 282.0,470.7 282.2,447.3 282.3,477.1 282.4,446.5 282.5,473.7 282.6,445.4 282.8,479.1 282.9,445.2 283.0,479.1 283.1,446.6 283.2,488.3 283.4,452.6 283.5,474.9 283.6,453.9 283.7,480.2 283.8,447.0 284.0,440.6 284.1,458.1 284.2,472.4 284.3,458.0 284.4,475.3 284.6,454.8 284.7,469.2 284.8,459.5 284.9,473.5 285.0,458.2 285.2,471.7 285.3,454.7 285.4,475.2 285.5,452.7 285.6,470.2 285.8,453.4 285.9,467.9 286.0,447.3 286.1,471.3 286.2,453.3 286.4,469.3 286.5,447.4 286.6,463.6 286.7,445.9 286.8,460.6 287.0,446.4 287.1,463.9 287.2,440.9 287.3,461.6 287.4,440.6 287.6,462.6 287.7,442.1 287.8,458.4 287.9,435.5 288.0,466.1 288.2,437.5 288.3,464.0 288.4,437.1 288.5,456.0 288.6,442.4 288.8,460.1 288.9,441.3 289.0,425.2 289.1,492.2 289.2,463.4 289.4,447.4 289.5,465.5 289.6,450.0 289.7,469.7 289.8,445.1 290.0,413.8 290.1,446.1 290.2,464.5 290.3,452.3 290.4,465.9 290.6,452.2 290.7,467.2 290.8,449.3 290.9,466.2 291.0,452.7 291.2,464.0 291.3,450.2 291.4,468.6 291.5,453.2 291.6,467.1 291.8,450.4 291.9,468.5 292.0,448.5 292.1,476.3 292.2,450.4 292.4,464.3 292.5,439.1 292.6,465.7 292.7,452.5 292.8,465.2 293.0,455.1 293.1,463.2 293.2,454.9 293.3,467.6 293.4,449.9 293.6,463.5 293.7,452.6 293.8,466.8 293.9,455.4 294.0,467.4 294.2,459.3 294.3,472.9 294.4,455.8 294.5,471.5 294.6,454.8 294.8,468.3 294.9,459.3 295.0,469.0 295.1,458.1 295.2,476.6 295.4,456.7 295.5,474.8 295.6,451.7 295.7,473.6 295.8,453.9 296.0,487.2 296.1,451.9 296.2,473.2 296.3,454.1 296.4,473.2 296.6,457.1 296.7,473.5 296.8,459.9 296.9,468.8 297.0,457.8 297.2,469.4 297.3,456.6 297.4,467.0 297.5,456.1 297.6,462.1 297.8,453.3 297.9,465.5 298.0,454.0 298.1,463.4 298.2,442.1 298.4,465.8 298.5,478.7 298.6,462.3 298.7,448.2 298.8,462.2 299.0,450.7 299.1,467.9 299.2,450.3 299.3,469.9 299.4,450.8 299.6,465.0 299.7,449.2 299.8,465.6 299.9,451.8 300.0,464.4 300.2,451.8 300.3,465.0 300.4,450.2 300.5,469.2 300.6,446.2 300.8,465.6 300.9,445.4 301.0,459.6 301.1,449.8 301.2,426.0 301.4,444.0 301.5,462.4 301.6,447.5 301.7,464.7 301.8,449.3 302.0,463.0 302.1,443.5 302.2,465.0 302.3,446.4 302.4,465.1 302.6,445.9 302.7,459.3 302.8,445.7 302.9,460.3 303.0,423.1 303.2,431.0 303.3,449.4 303.4,459.8 303.5,448.9 303.6,462.0 303.8,452.3 303.9,465.0 304.0,445.2 304.1,462.8 304.2,446.3 304.4,478.5 304.5,442.0 304.6,472.4 304.7,444.6 304.8,474.3 305.0,439.9 305.1,432.0 305.2,444.1 305.3,470.6 305.4,445.4 305.6,465.0 305.7,449.9 305.8,466.1 305.9,449.7 306.0,471.3 306.2,450.9 306.3,466.3 306.4,450.3 306.5,464.5 306.6,452.2 306.8,466.9 306.9,447.1 307.0,467.2 307.1,448.6 307.2,471.5 307.4,446.0 307.5,462.5 307.6,440.7 307.7,461.2 307.8,440.8 308.0,464.1 308.1,449.4 308.2,464.0 308.3,446.0 308.4,464.2 308.6,440.1 308.7,458.2 308.8,430.0 308.9,445.5 309.0,414.8 309.2,426.2 309.3,415.1 309.4,395.3 309.5,426.7 309.6,454.0 309.8,441.0 309.9,462.5 310.0,449.7 310.1,465.1 310.2,449.2 310.4,490.7 310.5,448.7 310.6,470.2 310.7,450.9 310.8,472.9 311.0,452.0 311.1,468.3 311.2,450.1 311.3,421.3 311.4,445.8 311.6,467.7 311.7,419.7 311.8,466.6 311.9,450.4 312.0,464.0 312.2,443.4 312.3,463.0 312.4,437.4 312.5,464.1 312.6,449.1 312.8,463.7 312.9,445.4 313.0,478.0 313.1,443.3 313.2,432.6 313.4,441.4 313.5,473.6 313.6,451.4 313.7,472.2 313.8,439.2 314.0,476.7 314.1,444.2 314.2,472.5 314.3,441.4 314.4,421.8 314.6,444.1 314.7,474.7 314.8,450.0 314.9,467.0 315.0,446.5 315.2,470.0 315.3,450.9 315.4,474.6 315.5,451.0 315.6,472.1 315.8,458.3 315.9,474.9 316.0,454.5 316.1,477.6 316.2,451.7 316.4,469.6 316.5,447.9 316.6,472.2 316.7,452.0 316.8,477.5 317.0,458.9 317.1,478.6 317.2,453.5 317.3,477.4 317.4,439.9 317.6,471.8 317.7,459.5 317.8,474.0 317.9,459.2 318.0,476.2 318.2,450.8 318.3,467.0 318.4,454.8 318.5,469.4 318.6,457.0 318.8,471.0 318.9,455.4 319.0,464.6 319.1,456.1 319.2,466.4 319.4,449.6 319.5,469.9 319.6,456.4 319.7,471.1 319.8,422.4 320.0,463.4 320.1,450.9 320.2,464.1 320.3,445.5 320.4,468.2 320.6,442.7 320.7,466.0 320.8,440.0 320.9,468.9 321.0,442.3 321.2,469.3 321.3,442.7 321.4,467.0 321.5,444.5 321.6,467.4 321.8,441.4 321.9,466.6 322.0,442.5 322.1,459.3 322.2,442.5 322.4,461.2 322.5,447.2 322.6,465.8 322.7,441.6 322.8,462.4 323.0,438.3 323.1,473.3 323.2,438.3 323.3,468.1 323.4,442.1 323.6,461.5 323.7,440.0 323.8,473.0 323.9,448.1 324.0,414.1 324.2,445.1 324.3,465.7 324.4,442.4 324.5,464.3 324.6,441.6 324.8,461.3 324.9,446.4 325.0,460.3 325.1,448.2 325.2,467.1 325.4,447.6 325.5,467.5 325.6,448.4 325.7,461.5 325.8,450.3 326.0,466.4 326.1,446.9 326.2,462.6 326.3,450.9 326.4,463.7 326.6,451.4 326.7,465.3 326.8,449.5 326.9,466.9 327.0,436.1 327.2,467.8 327.3,449.5 327.4,465.3 327.5,453.5 327.6,460.9 327.8,451.0 327.9,460.7 328.0,449.6 328.1,460.5 328.2,448.0 328.4,459.0 328.5,452.6 328.6,459.0 328.7,450.4 328.8,462.2 329.0,450.5 329.1,462.5 329.2,446.8 329.3,461.3 329.4,453.5 329.6,466.1 329.7,451.6 329.8,468.2 329.9,454.4 330.0,464.3 330.2,452.6 330.3,464.7 330.4,454.2 330.5,473.8 330.6,452.1 330.8,472.9 330.9,454.6 331.0,471.2 331.1,451.4 331.2,474.1 331.4,452.1 331.5,470.7 331.6,456.1 331.7,468.3 331.8,454.9 332.0,468.9 332.1,453.9 332.2,439.6 332.3,456.4 332.4,468.5 332.6,453.5 332.7,470.1 332.8,449.8 332.9,466.8 333.0,449.8 333.2,465.3 333.3,449.5 333.4,466.5 333.5,452.9 333.6,465.8 333.8,447.3 333.9,489.6 334.0,447.7 334.1,466.7 334.2,450.3 334.4,468.4 334.5,487.3 334.6,466.0 334.7,450.2 334.8,468.4 335.0,452.6 335.1,465.4 335.2,448.8 335.3,466.7 335.4,451.4 335.6,465.1 335.7,454.4 335.8,473.7 335.9,452.1 336.0,475.6 336.2,450.5 336.3,477.8 336.4,441.4 336.5,481.5 336.6,443.0 336.8,483.7 336.9,450.5 337.0,475.7 337.1,445.8 337.2,474.8 337.4,441.8 337.5,467.5 337.6,438.2 337.7,466.7 337.8,441.8 338.0,465.6 338.1,437.0 338.2,467.4 338.3,441.7 338.4,465.7 338.6,437.2 338.7,459.1 338.8,472.7 338.9,456.3 339.0,441.3 339.2,454.7 339.3,444.6 339.4,454.3 339.5,438.1 339.6,458.8 339.8,442.6 339.9,456.5 340.0,435.7 340.1,463.5 340.2,442.8 340.4,467.1 340.5,440.1 340.6,473.0 340.7,436.2 340.8,471.5 341.0,446.4 341.1,468.3 341.2,448.4 341.3,471.0 341.4,445.2 341.6,467.3 341.7,454.6 341.8,471.9 341.9,453.9 342.0,473.4 342.2,484.6 342.3,471.5 342.4,442.5 342.5,486.8 342.6,450.8 342.8,472.3 342.9,446.8 343.0,438.7 343.1,451.1 343.2,478.1 343.4,445.0 343.5,473.3 343.6,452.0 343.7,472.9 343.8,448.3 344.0,473.6 344.1,450.1 344.2,474.8 344.3,450.3 344.4,468.0 344.6,443.0 344.7,468.6 344.8,442.2 344.9,472.4 345.0,443.6 345.2,467.6 345.3,445.6 345.4,475.4 345.5,448.4 345.6,472.7 345.8,437.4 345.9,475.5 346.0,440.3 346.1,474.7 346.2,437.7 346.4,478.5 346.5,447.7 346.6,480.8 346.7,436.2 346.8,474.1 347.0,439.2 347.1,469.1 347.2,444.9 347.3,481.2 347.4,445.4 347.6,480.1 347.7,444.1 347.8,473.9 347.9,445.7 348.0,477.2 348.2,442.0 348.3,477.6 348.4,440.7 348.5,473.4 348.6,439.6 348.8,479.9 348.9,442.0 349.0,477.5 349.1,437.7 349.2,469.3 349.4,445.4 349.5,468.6 349.6,451.4 349.7,475.6 349.8,450.4 350.0,470.2 350.1,446.9 350.2,480.2 350.3,447.7 350.4,464.5 350.6,450.7 350.7,469.1 350.8,451.7 350.9,469.3 351.0,451.5 351.2,464.1 351.3,455.8 351.4,470.0 351.5,450.2 351.6,473.1 351.8,448.0 351.9,473.2 352.0,449.1 352.1,473.5 352.2,446.8 352.4,468.3 352.5,448.6 352.6,465.8 352.7,453.4 352.8,438.5 353.0,451.4 353.1,466.9 353.2,449.0 353.3,462.3 353.4,450.5 353.6,464.4 353.7,446.6 353.8,464.0 353.9,449.0 354.0,470.5 354.2,445.7 354.3,463.7 354.4,448.4 354.5,470.5 354.6,446.8 354.8,468.2 354.9,450.9 355.0,471.1 355.1,446.8 355.2,467.3 355.4,420.7 355.5,437.1 355.6,450.5 355.7,471.7 355.8,454.2 356.0,470.3 356.1,450.5 356.2,444.4 356.3,448.7 356.4,471.4 356.6,450.2 356.7,469.3 356.8,445.7 356.9,471.7 357.0,444.8 357.2,465.8 357.3,443.2 357.4,464.8 357.5,432.8 357.6,465.1 357.8,435.6 357.9,462.7 358.0,437.2 358.1,430.7 358.2,439.6 358.4,464.6 358.5,435.0 358.6,460.4 358.7,434.6 358.8,457.0 359.0,433.9 359.1,462.0 359.2,436.3 359.3,462.4 359.4,420.5 359.6,466.6 359.7,443.0 359.8,464.5 359.9,437.3 360.0,460.0 360.2,436.5 360.3,469.7 360.4,432.5 360.5,459.6 360.6,441.7 360.8,467.2 360.9,438.9 361.0,464.3 361.1,436.1 361.2,460.0 361.4,439.6 361.5,467.9 361.6,437.5 361.7,467.2 361.8,444.4 362.0,472.9 362.1,440.6 362.2,460.1 362.3,442.8 362.4,470.8 362.6,436.2 362.7,430.9 362.8,438.0 362.9,474.6 363.0,436.4 363.2,469.9 363.3,438.6 363.4,472.6 363.5,441.9 363.6,465.0 363.8,437.7 363.9,459.2 364.0,438.8 364.1,464.2 364.2,446.8 364.4,464.2 364.5,444.6 364.6,463.6 364.7,445.6 364.8,462.2 365.0,448.1 365.1,456.8 365.2,448.8 365.3,435.9 365.4,447.8 365.6,462.0 365.7,443.7 365.8,472.4 365.9,446.1 366.0,468.9 366.2,444.5 366.3,474.1 366.4,426.7 366.5,472.6 366.6,453.2 366.8,469.3 366.9,455.7 367.0,470.1 367.1,451.1 367.2,464.6 367.4,452.5 367.5,468.1 367.6,455.6 367.7,463.3 367.8,455.9 368.0,468.6 368.1,456.7 368.2,466.1 368.3,453.5 368.4,468.3 368.6,457.6 368.7,473.6 368.8,457.0 368.9,471.7 369.0,452.7 369.2,478.1 369.3,453.7 369.4,471.4 369.5,455.6 369.6,469.7 369.8,453.3 369.9,443.0 370.0,447.5 370.1,470.2 370.2,449.9 370.4,476.3 370.5,445.9 370.6,479.9 370.7,448.4 370.8,470.6 371.0,431.1 371.1,472.4 371.2,446.4 371.3,470.7 371.4,443.1 371.6,472.2 371.7,446.3 371.8,472.8 371.9,450.0 372.0,469.8 372.2,449.0 372.3,467.1 372.4,443.3 372.5,463.0 372.6,475.8 372.8,466.0 372.9,447.2 373.0,483.0 373.1,447.0 373.2,465.6 373.4,449.2 373.5,469.5 373.6,447.9 373.7,471.3 373.8,444.5 374.0,466.9 374.1,437.8 374.2,473.6 374.3,447.0 374.4,474.7 374.6,439.0 374.7,462.1 374.8,441.3 374.9,470.8 375.0,438.9 375.2,466.8 375.3,441.0 375.4,475.4 375.5,446.3 375.6,437.7 375.8,448.6 375.9,460.4 376.0,448.4 376.1,464.3 376.2,441.3 376.4,461.6 376.5,447.7 376.6,464.3 376.7,447.9 376.8,414.0 377.0,449.7 377.1,464.5 377.2,452.8 377.3,464.7 377.4,451.0 377.6,468.2 377.7,455.6 377.8,468.2 377.9,454.2 378.0,472.8 378.2,453.3 378.3,419.5 378.4,452.3 378.5,471.1 378.6,452.8 378.8,470.6 378.9,448.2 379.0,440.3 379.1,438.6 379.2,474.1 379.4,447.6 379.5,473.3 379.6,446.6 379.7,470.1 379.8,445.7 380.0,459.3 380.1,480.5 380.2,462.7 380.3,449.3 380.4,459.5 380.6,449.1 380.7,461.9 380.8,421.4 380.9,459.4 381.0,450.3 381.2,439.1 381.3,450.8 381.4,464.4 381.5,445.3 381.6,465.3 381.8,447.5 381.9,465.0 382.0,452.7 382.1,469.0 382.2,489.8 382.4,469.3 382.5,445.1 382.6,466.2 382.7,449.4 382.8,464.9 383.0,448.3 383.1,465.4 383.2,444.3 383.3,466.3 383.4,449.4 383.6,465.0 383.7,445.4 383.8,461.8 383.9,443.2 384.0,464.5 384.2,435.3 384.3,470.8 384.4,436.1 384.5,471.3 384.6,438.5 384.8,463.5 384.9,447.7 385.0,460.5 385.1,442.5 385.2,463.1 385.4,447.3 385.5,461.1 385.6,439.6 385.7,470.7 385.8,440.8 386.0,473.7 386.1,439.1 386.2,473.4 386.3,444.2 386.4,470.0 386.6,449.4 386.7,466.6 386.8,451.7 386.9,466.8 387.0,450.4 387.2,469.7 387.3,433.1 387.4,467.0 387.5,447.2 387.6,472.5 387.8,449.1 387.9,474.5 388.0,452.7 388.1,471.6 388.2,449.1 388.4,471.8 388.5,434.4 388.6,471.4 388.7,453.7 388.8,470.5 389.0,450.7 389.1,471.0 389.2,451.9 389.3,473.7 389.4,454.5 389.6,468.6 389.7,454.0 389.8,472.5 389.9,449.2 390.0,473.1 390.2,451.6 390.3,475.5 390.4,451.3 390.5,473.5 390.6,454.0 390.8,446.6 390.9,445.9 391.0,469.6 391.1,450.7 391.2,475.8 391.4,457.6 391.5,476.6 391.6,453.3 391.7,474.5 391.8,447.2 392.0,465.5 392.1,444.3 392.2,468.5 392.3,450.7 392.4,472.1 392.6,446.2 392.7,464.5 392.8,445.1 392.9,461.5 393.0,446.8 393.2,465.7 393.3,442.1 393.4,424.7 393.5,442.6 393.6,463.5 393.8,440.4 393.9,462.0 394.0,439.8 394.1,464.6 394.2,444.4 394.4,463.2 394.5,445.9 394.6,462.1 394.7,444.2 394.8,463.9 395.0,441.1 395.1,467.9 395.2,442.4 395.3,462.9 395.4,442.8 395.6,464.2 395.7,441.3 395.8,468.9 395.9,439.1 396.0,471.0 396.2,449.3 396.3,470.0 396.4,440.3 396.5,476.4 396.6,436.6 396.8,468.5 396.9,443.1 397.0,481.2 397.1,440.2 397.2,472.8 397.4,443.0 397.5,476.8 397.6,441.2 397.7,471.8 397.8,451.4 398.0,472.8 398.1,447.0 398.2,469.8 398.3,448.7 398.4,472.1 398.6,447.3 398.7,476.1 398.8,449.0 398.9,483.2 399.0,450.4 399.2,480.1 399.3,445.2 399.4,477.4 399.5,447.5 399.6,476.4 399.8,452.4 399.9,475.2 400.0,454.2 400.1,472.9 400.2,454.9 400.4,471.3 400.5,450.0 400.6,475.8 400.7,444.2 400.8,474.3 401.0,450.5 401.1,474.7 401.2,448.8 401.3,474.3 401.4,453.9 401.6,474.6 401.7,448.6 401.8,471.3 401.9,496.6 402.0,471.8 402.2,453.5 402.3,473.7 402.4,452.5 402.5,473.9 402.6,450.6 402.8,480.3 402.9,449.4 403.0,473.2 403.1,478.4 403.2,477.1 403.4,451.7 403.5,480.9 403.6,450.8 403.7,474.8 403.8,453.6 404.0,475.8 404.1,455.2 404.2,473.3 404.3,453.5 404.4,474.9 404.6,452.8 404.7,476.8 404.8,458.0 404.9,442.5 405.0,447.8 405.2,472.2 405.3,451.0 405.4,477.2 405.5,453.1 405.6,477.6 405.8,448.1 405.9,432.2 406.0,451.7 406.1,474.9 406.2,448.8 406.4,470.1 406.5,446.2 406.6,473.4 406.7,452.3 406.8,472.4 407.0,451.9 407.1,467.2 407.2,447.8 407.3,474.7 407.4,443.8 407.6,472.4 407.7,441.7 407.8,464.0 407.9,441.6 408.0,468.2 408.2,425.5 408.3,421.1 408.4,451.7 408.5,472.1 408.6,442.3 408.8,463.9 408.9,442.1 409.0,477.9 409.1,444.8 409.2,440.8 409.4,448.5 409.5,475.2 409.6,441.8 409.7,474.1 409.8,436.4 410.0,473.0 410.1,440.3 410.2,476.5 410.3,445.8 410.4,464.2 410.6,428.9 410.7,460.1 410.8,442.6 410.9,469.6 411.0,442.2 411.2,462.5 411.3,449.4 411.4,464.5 411.5,442.4 411.6,471.0 411.8,442.6 411.9,466.7 412.0,444.3 412.1,464.1 412.2,431.3 412.4,468.8 412.5,443.1 412.6,470.0 412.7,444.7 412.8,464.7 413.0,436.6 413.1,465.0 413.2,448.2 413.3,464.1 413.4,442.0 413.6,467.6 413.7,449.7 413.8,463.6 413.9,449.4 414.0,465.7 414.2,447.0 414.3,464.7 414.4,448.1 414.5,462.2 414.6,451.0 414.8,467.6 414.9,445.7 415.0,475.5 415.1,489.7 415.2,481.8 415.4,445.1 415.5,468.2 415.6,436.2 415.7,477.5 415.8,446.8 416.0,476.3 416.1,446.2 416.2,474.3 416.3,452.2 416.4,473.5 416.6,446.8 416.7,478.0 416.8,454.9 416.9,467.5 417.0,454.8 417.2,472.8 417.3,453.2 417.4,473.1 417.5,449.2 417.6,473.6 417.8,451.6 417.9,470.2 418.0,441.4 418.1,468.3 418.2,440.2 418.4,472.2 418.5,444.1 418.6,475.1 418.7,444.3 418.8,473.4 419.0,445.1 419.1,467.4 419.2,451.0 419.3,466.6 419.4,439.8 419.6,468.2 419.7,440.5 419.8,472.3 419.9,439.4 420.0,471.8 420.2,443.9 420.3,468.3 420.4,434.6 420.5,476.8 420.6,434.1 420.8,471.4 420.9,444.8 421.0,476.7 421.1,439.4 421.2,477.3 421.4,437.4 421.5,468.2 421.6,440.3 421.7,471.1 421.8,446.0 422.0,474.8 422.1,440.0 422.2,469.9 422.3,443.5 422.4,467.9 422.6,446.5 422.7,473.7 422.8,443.3 422.9,470.7 423.0,444.3 423.2,473.6 423.3,448.2 423.4,470.9 423.5,453.1 423.6,467.5 423.8,453.0 423.9,472.3 424.0,449.1 424.1,474.1 424.2,454.2 424.4,467.2 424.5,455.2 424.6,471.6 424.7,456.9 424.8,473.2 425.0,459.1 425.1,470.5 425.2,453.1 425.3,466.5 425.4,449.4 425.6,469.7 425.7,450.6 425.8,465.3 425.9,440.7 426.0,469.4 426.2,456.3 426.3,467.8 426.4,449.7 426.5,473.2 426.6,452.1 426.8,438.8 426.9,453.5 427.0,474.4 427.1,453.9 427.2,477.2 427.4,454.1 427.5,471.8 427.6,451.2 427.7,471.1 427.8,453.1 428.0,477.9 428.1,446.7 428.2,473.5 428.3,457.1 428.4,476.2 428.6,433.2 428.7,472.8 428.8,452.1 428.9,469.1 429.0,448.6 429.2,467.4 429.3,446.4 429.4,467.8 429.5,445.3 429.6,465.7 429.8,450.0 429.9,468.8 430.0,449.8 430.1,476.3 430.2,446.4 430.4,469.1 430.5,446.4 430.6,467.3 430.7,447.0 430.8,467.7 431.0,440.5 431.1,466.1 431.2,445.6 431.3,469.9 431.4,450.7 431.6,469.1 431.7,455.1 431.8,471.5 431.9,448.1 432.0,469.8 432.2,432.5 432.3,467.7 432.4,453.1 432.5,465.2 432.6,440.5 432.8,469.9 432.9,446.4 433.0,470.8 433.1,445.9 433.2,468.7 433.4,449.7 433.5,472.7 433.6,442.6 433.7,465.5 433.8,444.9 434.0,475.8 434.1,434.0 434.2,464.9 434.3,427.4 434.4,477.4 434.6,428.4 434.7,472.5 434.8,435.9 434.9,474.8 435.0,441.3 435.2,468.8 435.3,452.3 435.4,475.2 435.5,453.5 435.6,470.3 435.8,447.7 435.9,463.1 436.0,452.6 436.1,472.9 436.2,451.4 436.4,476.4 436.5,457.4 436.6,475.5 436.7,448.5 436.8,473.6 437.0,447.7 437.1,473.4 437.2,450.5 437.3,467.5 437.4,454.8 437.6,471.8 437.7,449.9 437.8,473.5 437.9,445.1 438.0,471.4 438.2,451.3 438.3,471.5 438.4,454.7 438.5,469.7 438.6,450.5 438.8,475.6 438.9,453.4 439.0,473.7 439.1,452.1 439.2,478.7 439.4,452.2 439.5,470.8 439.6,447.8 439.7,464.9 439.8,442.7 440.0,476.6 440.1,451.7 440.2,463.6 440.3,448.2 440.4,469.5 440.6,448.4 440.7,465.5 440.8,442.8 440.9,463.8 441.0,445.8 441.2,465.0 441.3,442.4 441.4,465.5 441.5,440.9 441.6,481.2 441.8,437.8 441.9,479.3 442.0,436.9 442.1,479.5 442.2,431.5 442.4,473.9 442.5,440.9 442.6,469.8 442.7,442.7 442.8,465.6 443.0,445.5 443.1,464.9 443.2,443.0 443.3,465.1 443.4,447.9 443.6,463.6 443.7,449.7 443.8,461.9 443.9,448.1 444.0,467.6 444.2,433.7 444.3,464.9 444.4,446.3 444.5,462.3 444.6,449.6 444.8,465.6 444.9,449.8 445.0,463.8 445.1,446.6 445.2,460.7 445.4,449.5 445.5,466.9 445.6,448.4 445.7,469.5 445.8,451.6 446.0,463.1 446.1,451.9 446.2,470.3 446.3,448.5 446.4,468.3 446.6,453.0 446.7,466.4 446.8,448.2 446.9,467.0 447.0,450.4 447.2,470.0 447.3,451.9 447.4,470.7 447.5,454.4 447.6,467.0 447.8,454.9 447.9,465.9 448.0,456.6 448.1,463.9 448.2,454.8 448.4,462.3 448.5,453.1 448.6,463.9 448.7,455.6 448.8,465.1 449.0,454.0 449.1,467.8 449.2,454.5 449.3,467.7 449.4,451.6 449.6,468.1 449.7,453.5 449.8,464.9 449.9,456.1 450.0,472.0 450.2,452.5 450.3,468.4 450.4,455.2 450.5,467.7 450.6,453.8 450.8,468.5 450.9,448.8 451.0,468.8 451.1,457.1 451.2,465.5 451.4,453.6 451.5,464.8 451.6,453.2 451.7,466.6 451.8,455.1 452.0,462.7 452.1,452.4 452.2,465.9 452.3,454.4 452.4,467.8 452.6,455.1 452.7,463.5 452.8,449.5 452.9,467.7 453.0,448.9 453.2,466.6 453.3,454.3 453.4,471.4 453.5,456.0 453.6,468.6 453.8,453.1 453.9,470.5 454.0,452.4 454.1,467.9 454.2,455.7 454.4,469.6 454.5,454.8 454.6,468.2 454.7,457.5 454.8,465.6 455.0,459.4 455.1,470.4 455.2,460.3 455.3,468.7 455.4,455.4 455.6,465.9 455.7,457.7 455.8,466.9 455.9,457.0 456.0,468.3 456.2,459.1 456.3,465.1 456.4,456.0 456.5,465.1 456.6,456.5 456.8,465.3 456.9,458.2 457.0,466.6 457.1,454.3 457.2,467.9 457.4,451.4 457.5,464.9 457.6,455.3 457.7,466.7 457.8,449.8 458.0,437.4 458.1,449.7 458.2,461.3 458.3,450.9 458.4,460.8 458.6,455.0 458.7,460.7 458.8,453.3 458.9,460.3 459.0,454.6 459.2,461.3 459.3,452.6 459.4,462.6 459.5,450.8 459.6,462.6 459.8,450.5 459.9,460.7 460.0,451.8 460.1,463.8 460.2,453.8 460.4,462.8 460.5,454.1 460.6,463.3 460.7,456.3 460.8,465.8 461.0,457.7 461.1,464.8 461.2,457.3 461.3,464.8 461.4,457.5 461.6,463.7 461.7,456.2 461.8,463.1 461.9,457.9 462.0,450.0 462.2,453.9 462.3,466.7 462.4,454.6 462.5,465.3 462.6,451.7 462.8,468.0 462.9,447.5 463.0,469.7 463.1,450.8 463.2,463.9 463.4,452.0 463.5,467.5 463.6,453.3 463.7,461.4 463.8,454.9 464.0,463.7 464.1,457.0 464.2,466.8 464.3,455.2 464.4,466.6 464.6,457.8 464.7,467.8 464.8,458.7 464.9,468.1 465.0,456.7 465.2,471.2 465.3,454.3 465.4,469.3 465.5,461.0 465.6,470.9 465.8,462.2 465.9,471.1 466.0,461.6 466.1,470.5 466.2,461.0 466.4,469.0 466.5,457.2 466.6,469.1 466.7,455.4 466.8,467.6 467.0,457.1 467.1,465.6 467.2,454.0 467.3,467.2 467.4,457.4 467.6,465.7 467.7,455.7 467.8,465.1 467.9,455.9 468.0,463.7 468.2,456.1 468.3,466.5 468.4,449.0 468.5,466.9 468.6,456.6 468.8,464.8 468.9,452.8 469.0,468.1 469.1,456.1 469.2,470.0 469.4,448.3 469.5,467.7 469.6,452.3 469.7,470.1 469.8,453.5 470.0,445.0 470.1,454.1 470.2,464.8 470.3,456.7 470.4,467.8 470.6,452.7 470.7,466.1 470.8,455.8 470.9,463.9 471.0,452.8 471.2,466.5 471.3,453.1 471.4,467.9 471.5,450.3 471.6,471.2 471.8,448.8 471.9,470.2 472.0,447.4 472.1,469.7 472.2,454.3 472.4,470.2 472.5,451.2 472.6,468.9 472.7,452.8 472.8,464.3 473.0,455.1 473.1,466.3 473.2,456.0 473.3,468.0 473.4,452.5 473.6,465.2 473.7,452.0 473.8,465.9 473.9,449.3 474.0,471.8 474.2,447.8 474.3,472.0 474.4,449.0 474.5,468.3 474.6,451.9 474.8,465.9 474.9,450.6 475.0,464.5 475.1,449.4 475.2,466.2 475.4,451.8 475.5,465.4 475.6,450.0 475.7,466.7 475.8,452.6 476.0,463.2 476.1,452.5 476.2,462.4 476.3,454.5 476.4,466.1 476.6,452.2 476.7,469.0 476.8,454.0 476.9,467.9 477.0,444.4 477.2,469.5 477.3,453.1 477.4,471.9 477.5,451.7 477.6,468.4 477.8,457.2 477.9,466.6 478.0,454.3 478.1,470.9 478.2,458.5 478.4,469.6 478.5,454.6 478.6,471.9 478.7,454.3 478.8,471.5 479.0,456.8 479.1,467.8 479.2,455.5 479.3,468.7 479.4,456.3 479.6,467.3 479.7,458.7 479.8,467.4 479.9,458.9 480.0,465.7 480.2,457.6 480.3,467.0 480.4,457.7 480.5,450.0 480.6,458.0 480.8,464.6 480.9,455.6 481.0,463.4 481.1,455.4 481.2,460.2 481.4,454.2 481.5,461.2 481.6,454.4 481.7,462.5 481.8,454.4 482.0,462.0 482.1,456.2 482.2,465.5 482.3,455.6 482.4,463.9 482.6,456.5 482.7,466.1 482.8,455.6 482.9,466.6 483.0,459.6 483.2,465.7 483.3,459.2 483.4,465.4 483.5,457.9 483.6,466.7 483.8,459.6 483.9,469.1 484.0,459.7 484.1,469.1 484.2,459.5 484.4,482.0 484.5,458.6 484.6,470.5 484.7,459.7 484.8,468.4 485.0,456.6 485.1,468.8 485.2,458.6 485.3,468.8 485.4,456.3 485.6,468.7 485.7,454.2 485.8,470.2 485.9,456.0 486.0,469.1 486.2,456.9 486.3,468.9 486.4,456.3 486.5,473.6 486.6,456.7 486.8,467.9 486.9,456.3 487.0,467.5 487.1,454.8 487.2,471.4 487.4,454.5 487.5,470.8 487.6,456.1 487.7,469.8 487.8,457.5 488.0,468.3 488.1,459.8 488.2,467.7 488.3,456.8 488.4,467.1 488.6,459.2 488.7,467.5 488.8,456.0 488.9,467.9 489.0,459.2 489.2,472.9 489.3,458.5 489.4,473.3 489.5,453.5 489.6,469.3 489.8,457.4 489.9,471.6 490.0,456.5 490.1,472.0 490.2,455.5 490.4,453.6 490.5,456.9 490.6,469.9 490.7,455.0 490.8,468.9 491.0,457.5 491.1,470.6 491.2,458.3 491.3,468.3 491.4,456.5 491.6,471.4 491.7,460.9 491.8,468.2 491.9,459.0 492.0,467.8 492.2,460.4 492.3,466.6 492.4,457.6 492.5,466.3 492.6,458.8 492.8,467.6 492.9,458.1 493.0,467.4 493.1,459.0 493.2,469.1 493.4,458.0 493.5,471.0 493.6,455.7 493.7,469.8 493.8,456.1 494.0,471.4 494.1,454.5 494.2,468.1 494.3,456.6 494.4,464.6 494.6,452.8 494.7,463.2 494.8,455.2 494.9,465.6 495.0,452.6 495.2,463.4 495.3,455.7 495.4,466.3 495.5,457.8 495.6,465.4 495.8,450.4 495.9,465.8 496.0,452.1 496.1,468.1 496.2,451.9 496.4,467.9 496.5,453.7 496.6,463.5 496.7,454.5 496.8,464.9 497.0,453.5 497.1,463.0 497.2,451.2 497.3,466.5 497.4,452.9 497.6,463.6 497.7,456.0 497.8,465.1 497.9,454.9 498.0,465.3 498.2,455.7 498.3,462.2 498.4,452.6 498.5,464.3 498.6,456.0 498.8,463.0 498.9,452.8 499.0,461.7 499.1,451.0 499.2,464.5 499.4,452.0 499.5,463.0 499.6,452.7 499.7,462.4 499.8,452.0 500.0,464.9 500.1,451.0 500.2,467.9 500.3,453.0 500.4,461.1 500.6,469.1 500.7,440.7 500.8,448.1 500.9,463.7 501.0,450.2 501.2,463.7 501.3,447.0 501.4,458.9 501.5,450.6 501.6,463.2 501.8,450.3 501.9,460.4 502.0,450.5 502.1,461.1 502.2,449.2 502.4,457.7 502.5,450.8 502.6,459.5 502.7,449.4 502.8,460.1 503.0,451.0 503.1,460.3 503.2,449.3 503.3,462.8 503.4,449.9 503.6,459.6 503.7,450.9 503.8,462.2 503.9,443.6 504.0,460.0 504.2,452.7 504.3,460.6 504.4,454.7 504.5,462.0 504.6,455.0 504.8,465.5 504.9,457.2 505.0,462.8 505.1,454.4 505.2,467.3 505.4,455.2 505.5,469.1 505.6,458.9 505.7,464.7 505.8,457.7 506.0,466.3 506.1,457.6 506.2,471.0 506.3,459.4 506.4,468.5 506.6,458.5 506.7,466.8 506.8,460.8 506.9,467.8 507.0,461.2 507.2,468.5 507.3,458.8 507.4,472.8 507.5,456.8 507.6,471.4 507.8,457.2 507.9,470.3 508.0,459.1 508.1,472.2 508.2,460.3 508.4,468.9 508.5,457.8 508.6,467.5 508.7,459.5 508.8,469.7 509.0,455.1 509.1,473.9 509.2,455.1 509.3,475.0 509.4,455.1 509.6,472.3 509.7,452.7 509.8,466.8 509.9,455.3 510.0,468.0 510.2,453.1 510.3,467.1 510.4,453.6 510.5,463.1 510.6,455.3 510.8,465.4 510.9,453.0 511.0,466.0 511.1,450.4 511.2,461.4 511.4,452.6 511.5,465.2 511.6,450.1 511.7,465.9 511.8,452.1 512.0,464.0 512.1,449.1 512.2,462.4 512.3,450.8 512.4,464.7 512.6,455.6 512.7,468.2 512.8,454.1 512.9,466.2 513.0,453.1 513.2,464.1 513.3,454.3 513.4,470.6 513.5,455.9 513.6,465.1 513.8,452.7 513.9,467.4 514.0,452.3 514.1,462.9 514.2,449.9 514.4,472.5 514.5,450.7 514.6,469.5 514.7,447.9 514.8,473.3 515.0,450.3 515.1,476.6 515.2,452.8 515.3,468.9 515.4,448.5 515.6,469.5 515.7,455.2 515.8,471.8 515.9,452.6 516.0,468.3 516.2,451.4 516.3,467.5 516.4,453.8 516.5,467.4 516.6,455.9 516.8,468.3 516.9,453.7 517.0,466.3 517.1,454.4 517.2,470.8 517.4,455.8 517.5,466.8 517.6,453.0 517.7,472.3 517.8,452.5 518.0,472.2 518.1,451.0 518.2,475.6 518.3,450.5 518.4,478.4 518.6,446.0 518.7,475.9 518.8,474.2 518.9,471.0 519.0,453.0 519.2,482.0 519.3,448.5 519.4,478.8 519.5,464.6 519.6,489.4 519.8,466.5 519.9,491.5 520.0,470.9 520.1,492.4 520.2,469.6 520.4,483.6 520.5,455.8 520.6,484.6 520.7,460.1 520.8,472.2 521.0,454.1 521.1,471.3 521.2,451.6 521.3,470.1 521.4,453.3 521.6,468.6 521.7,447.6 521.8,471.2 521.9,445.6 522.0,476.3 522.2,444.2 522.3,478.8 522.4,443.1 522.5,477.0 522.6,447.1 522.8,478.8 522.9,450.0 523.0,471.4 523.1,450.6 523.2,475.6 523.4,443.3 523.5,473.2 523.6,444.8 523.7,433.9 523.8,438.8 524.0,457.7 524.1,429.7 524.2,453.5 524.3,430.9 524.4,455.6 524.6,426.6 524.7,455.2 524.8,433.7 524.9,469.0 525.0,427.1 525.2,481.2 525.3,431.3 525.4,472.0 525.5,449.3 525.6,479.4 525.8,447.6 525.9,475.2 526.0,449.7 526.1,480.1 526.2,447.7 526.4,475.3 526.5,452.8 526.6,480.9 526.7,454.3 526.8,479.0 527.0,451.2 527.1,476.8 527.2,457.5 527.3,469.7 527.4,456.2 527.6,478.3 527.7,453.2 527.8,477.1 527.9,459.5 528.0,479.2 528.2,453.3 528.3,480.5 528.4,447.7 528.5,476.0 528.6,450.6 528.8,474.6 528.9,453.1 529.0,475.6 529.1,457.2 529.2,476.1 529.4,456.6 529.5,474.7 529.6,459.6 529.7,477.6 529.8,467.5 530.0,482.9 530.1,465.1 530.2,479.2 530.3,457.6 530.4,485.1 530.6,447.4 530.7,468.1 530.8,443.5 530.9,476.0 531.0,448.8 531.2,465.9 531.3,444.3 531.4,465.0 531.5,443.0 531.6,464.1 531.8,439.5 531.9,474.0 532.0,445.5 532.1,464.6 532.2,448.5 532.4,468.7 532.5,449.4 532.6,472.5 532.7,441.5 532.8,468.3 533.0,449.4 533.1,468.0 533.2,444.6 533.3,468.2 533.4,452.0 533.6,466.1 533.7,450.7 533.8,466.0 533.9,452.1 534.0,461.4 534.2,448.9 534.3,460.2 534.4,452.3 534.5,463.3 534.6,449.6 534.8,469.8 534.9,448.8 535.0,465.3 535.1,449.3 535.2,467.1 535.4,451.0 535.5,468.9 535.6,453.1 535.7,471.4 535.8,453.9 536.0,468.8 536.1,453.9 536.2,465.7 536.3,455.1 536.4,463.6 536.6,451.3 536.7,469.2 536.8,453.4 536.9,470.6 537.0,454.8 537.2,467.2 537.3,454.9 537.4,468.8 537.5,454.3 537.6,465.8 537.8,451.6 537.9,463.4 538.0,452.8 538.1,462.2 538.2,455.1 538.4,461.6 538.5,470.7 538.6,463.7 538.7,450.5 538.8,466.2 539.0,446.5 539.1,465.1 539.2,451.3 539.3,466.5 539.4,452.3 539.6,459.6 539.7,449.5 539.8,459.6 539.9,451.4 540.0,461.6 540.2,450.0 540.3,464.7 540.4,450.3 540.5,465.2 540.6,451.7 540.8,461.0 540.9,449.0 541.0,467.6 541.1,451.0 541.2,463.3 541.4,450.2 541.5,468.9 541.6,448.8 541.7,471.3 541.8,447.5 542.0,474.7 542.1,449.5 542.2,474.6 542.3,452.3 542.4,473.2 542.6,451.3 542.7,472.4 542.8,452.9 542.9,467.6 543.0,459.4 543.2,470.8 543.3,455.6 543.4,471.0 543.5,450.6 543.6,471.6 543.8,454.4 543.9,472.8 544.0,452.7 544.1,471.2 544.2,450.9 544.4,473.6 544.5,453.4 544.6,467.8 544.7,456.9 544.8,471.3 545.0,459.8 545.1,469.6 545.2,453.3 545.3,468.1 545.4,455.5 545.6,462.5 545.7,450.1 545.8,466.6 545.9,449.6 546.0,465.5 546.2,453.1 546.3,469.2 546.4,458.3 546.5,465.9 546.6,451.3 546.8,467.6 546.9,456.1 547.0,463.8 547.1,450.8 547.2,463.0 547.4,452.0 547.5,458.7 547.6,445.1 547.7,450.8 547.8,440.4 548.0,451.1 548.1,441.6 548.2,451.8 548.3,447.5 548.4,459.7 548.6,446.8 548.7,468.2 548.8,454.9 548.9,467.5 549.0,455.6 549.2,467.2 549.3,457.4 549.4,467.9 549.5,456.3 549.6,469.1 549.8,455.6 549.9,467.8 550.0,457.5 550.1,470.5 550.2,458.2 550.4,469.3 550.5,461.9 550.6,465.5 550.7,460.2 550.8,466.1 551.0,454.8 551.1,461.7 551.2,448.5 551.3,456.4 551.4,437.2 551.6,449.0 551.7,435.0 551.8,443.5 551.9,432.0 552.0,444.2 552.2,435.6 552.3,448.2 552.4,439.5 552.5,453.2 552.6,441.6 552.8,457.3 552.9,443.1 553.0,457.2 553.1,447.5 553.2,461.7 553.4,448.9 553.5,462.7 553.6,452.5 553.7,465.5 553.8,452.4 554.0,464.1 554.1,455.2 554.2,466.2 554.3,450.9 554.4,469.9 554.6,450.5 554.7,466.8 554.8,451.9 554.9,466.2 555.0,453.1 555.2,465.3 555.3,456.3 555.4,465.9 555.5,456.6 555.6,466.3 555.8,455.0 555.9,469.0 556.0,450.1 556.1,468.6 556.2,459.2 556.4,474.8 556.5,464.5 556.6,481.0 556.7,471.6 556.8,489.2 557.0,471.7 557.1,486.7 557.2,470.7 557.3,479.9 557.4,462.1 557.6,474.0 557.7,456.7 557.8,469.2 557.9,449.5 558.0,468.2 558.2,448.7 558.3,469.9 558.4,449.4 558.5,464.4 558.6,447.8 558.8,464.5 558.9,441.3 559.0,445.0 559.1,446.2 559.2,465.6 559.4,445.2 559.5,461.5 559.6,439.6 559.7,466.3 559.8,440.9 560.0,470.0 560.1,451.7 560.2,466.2 560.3,450.2 560.4,473.7 560.6,444.2 560.7,472.7 560.8,452.9 560.9,475.9 561.0,448.1 561.2,470.1 561.3,447.5 561.4,467.5 561.5,451.7 561.6,466.9 561.8,450.9 561.9,469.2 562.0,450.7 562.1,468.1 562.2,458.7 562.4,475.0 562.5,462.0 562.6,480.0 562.7,466.7 562.8,486.6 563.0,469.5 563.1,490.0 563.2,471.4 563.3,481.7 563.4,460.5 563.6,472.3 563.7,455.1 563.8,468.8 563.9,453.7 564.0,465.1 564.2,452.3 564.3,465.3 564.4,449.0 564.5,463.3 564.6,450.6 564.8,463.6 564.9,452.0 565.0,462.2 565.1,447.8 565.2,463.4 565.4,449.1 565.5,461.5 565.6,444.7 565.7,463.1 565.8,450.6 566.0,466.0 566.1,446.9 566.2,462.4 566.3,447.8 566.4,468.3 566.6,446.4 566.7,460.8 566.8,448.0 566.9,459.0 567.0,445.4 567.2,463.3 567.3,449.2 567.4,461.7 567.5,451.9 567.6,461.1 567.8,449.9 567.9,462.7 568.0,450.5 568.1,463.4 568.2,451.6 568.4,460.7 568.5,451.6 568.6,463.1 568.7,452.1 568.8,460.3 569.0,453.1 569.1,460.8 569.2,449.8 569.3,443.8 569.4,453.5 569.6,463.5 569.7,450.9 569.8,466.4 569.9,447.7 570.0,469.4 570.2,447.6 570.3,469.3 570.4,470.4 570.5,466.4 570.6,453.5 570.8,468.6 570.9,457.8 571.0,470.3 571.1,454.3 571.2,469.2 571.4,455.5 571.5,471.3 571.6,452.7 571.7,474.5 571.8,453.2 572.0,474.0 572.1,456.9 572.2,469.1 572.3,453.0 572.4,471.3 572.6,455.4 572.7,466.6 572.8,453.8 572.9,473.0 573.0,454.1 573.2,473.9 573.3,452.2 573.4,472.6 573.5,458.4 573.6,474.5 573.8,452.1 573.9,472.2 574.0,454.5 574.1,469.1 574.2,453.8 574.4,466.8 574.5,454.7 574.6,465.3 574.7,456.4 574.8,466.9 575.0,453.5 575.1,465.8 575.2,453.2 575.3,465.2 575.4,452.9 575.6,469.6 575.7,449.2 575.8,469.9 575.9,451.4 576.0,463.8 576.2,449.5 576.3,468.3 576.4,447.4 576.5,464.9 576.6,452.2 576.8,468.5 576.9,451.9 577.0,465.8 577.1,456.3 577.2,465.0 577.4,449.0 577.5,465.1 577.6,453.8 577.7,467.5 577.8,456.3 578.0,466.8 578.1,452.5 578.2,462.8 578.3,454.8 578.4,463.5 578.6,453.3 578.7,467.1 578.8,454.5 578.9,464.5 579.0,454.4 579.2,463.5 579.3,453.3 579.4,464.2 579.5,456.5 579.6,465.9 579.8,455.0 579.9,462.6 580.0,455.2 580.1,466.3 580.2,453.1 580.4,463.0 580.5,453.4 580.6,462.0 580.7,452.2 580.8,464.6 581.0,455.9 581.1,464.8 581.2,455.6 581.3,464.3 581.4,457.5 581.6,463.2 581.7,456.1 581.8,462.4 581.9,456.0 582.0,462.9 582.2,456.5 582.3,461.2 582.4,456.0 582.5,462.9 582.6,456.2 582.8,461.5 582.9,456.1 583.0,463.1 583.1,457.3 583.2,464.6 583.4,456.5 583.5,463.1 583.6,455.8 583.7,465.4 583.8,456.3 584.0,465.4 584.1,455.3 584.2,466.2 584.3,455.7 584.4,463.7 584.6,454.8 584.7,464.7 584.8,453.9 584.9,462.1 585.0,454.3 585.2,465.2 585.3,455.2 585.4,465.2 585.5,454.6 585.6,464.8 585.8,456.5 585.9,465.6 586.0,454.0 586.1,464.8 586.2,454.0 586.4,466.5 586.5,453.8 586.6,467.7 586.7,457.6 586.8,466.8 587.0,458.2 587.1,466.0 587.2,457.8 587.3,466.2 587.4,460.1 587.6,465.1 587.7,459.5 587.8,464.5 587.9,459.3 588.0,466.6 588.2,459.2 588.3,467.9 588.4,458.3 588.5,470.6 588.6,460.5 588.8,469.8 588.9,460.0 589.0,470.6 589.1,457.4 589.2,469.8 589.4,455.9 589.5,469.8 589.6,457.1 589.7,470.0 589.8,458.9 590.0,471.8 590.1,451.8 590.2,470.6 590.3,453.3 590.4,470.8 590.6,455.3 590.7,468.0 590.8,455.0 590.9,472.0 591.0,455.9 591.2,470.4 591.3,454.9 591.4,463.9 591.5,455.0 591.6,464.4 591.8,455.1 591.9,466.9 592.0,458.0 592.1,465.4 592.2,457.6 592.4,466.1 592.5,454.5 592.6,464.1 592.7,457.9 592.8,464.9 593.0,457.7 593.1,465.5 593.2,458.6 593.3,465.3 593.4,456.7 593.6,465.4 593.7,456.5 593.8,464.5 593.9,456.3 594.0,467.6 594.2,454.7 594.3,469.9 594.4,449.9 594.5,467.9 594.6,454.1 594.8,468.0 594.9,446.6 595.0,468.5 595.1,447.5 595.2,467.3 595.4,450.5 595.5,462.9 595.6,453.3 595.7,464.8 595.8,452.2 596.0,466.2 596.1,457.7 596.2,465.5 596.3,455.5 596.4,467.3 596.6,456.5 596.7,464.1 596.8,456.0 596.9,466.0 597.0,455.5 597.2,464.8 597.3,457.0 597.4,467.2 597.5,448.8 597.6,466.1 597.8,457.4 597.9,466.4 598.0,478.6 598.1,465.7 598.2,453.6 598.4,467.2 598.5,454.8 598.6,464.2 598.7,453.2 598.8,462.0 599.0,453.0 599.1,463.7 599.2,450.9 599.3,464.3 599.4,450.3 599.6,464.5 599.7,449.4 599.8,461.3 599.9,448.8 600.0,463.6 600.2,448.9 600.3,465.5 600.4,446.3 600.5,465.5 600.6,451.1 600.8,466.5 600.9,452.2 601.0,462.4 601.1,449.7 601.2,462.1 601.4,452.0 601.5,465.9 601.6,449.4 601.7,464.6 601.8,447.6 602.0,464.9 602.1,446.5 602.2,462.1 602.3,450.5 602.4,462.0 602.6,446.9 602.7,461.6 602.8,449.6 602.9,463.1 603.0,448.0 603.2,460.7 603.3,447.5 603.4,465.5 603.5,448.2 603.6,464.1 603.8,445.5 603.9,465.6 604.0,445.1 604.1,464.5 604.2,451.3 604.4,466.9 604.5,452.5 604.6,463.5 604.7,454.2 604.8,465.9 605.0,452.6 605.1,466.2 605.2,453.6 605.3,467.3 605.4,453.5 605.6,463.5 605.7,451.5 605.8,465.8 605.9,453.7 606.0,465.3 606.2,453.4 606.3,464.5 606.4,448.0 606.5,466.4 606.6,448.9 606.8,467.1 606.9,453.0 607.0,465.4 607.1,455.2 607.2,464.9 607.4,454.1 607.5,464.3 607.6,454.6 607.7,467.2 607.8,452.7 608.0,467.1 608.1,453.8 608.2,465.0 608.3,455.1 608.4,464.9 608.6,456.5 608.7,463.4 608.8,455.1 608.9,464.5 609.0,455.4 609.2,464.5 609.3,457.3 609.4,465.0 609.5,454.9 609.6,465.5 609.8,456.3 609.9,466.6 610.0,458.4 610.1,466.2 610.2,457.4 610.4,466.3 610.5,449.7 610.6,467.5 610.7,458.8 610.8,466.5 611.0,456.1 611.1,464.7 611.2,457.7 611.3,467.9 611.4,457.1 611.6,467.4 611.7,458.7 611.8,469.4 611.9,454.6 612.0,467.7 612.2,459.4 612.3,470.5 612.4,454.7 612.5,463.1 612.6,453.7 612.8,467.3 612.9,453.3 613.0,464.6 613.1,452.4 613.2,463.2 613.4,454.9 613.5,461.2 613.6,456.8 613.7,465.4 613.8,453.2 614.0,464.7 614.1,455.6 614.2,465.2 614.3,455.9 614.4,466.6 614.6,453.8 614.7,465.4 614.8,455.3 614.9,468.2 615.0,455.3 615.2,464.9 615.3,453.2 615.4,465.7 615.5,454.8 615.6,463.7 615.8,454.1 615.9,464.1 616.0,455.2 616.1,466.1 616.2,456.0 616.4,463.0 616.5,454.5 616.6,459.8 616.7,454.4 616.8,461.5 617.0,453.2 617.1,461.1 617.2,451.8 617.3,463.6 617.4,450.4 617.6,466.6 617.7,449.1 617.8,465.4 617.9,450.7 618.0,465.3 618.2,453.0 618.3,463.6 618.4,451.7 618.5,463.7 618.6,450.9 618.8,463.6 618.9,454.2 619.0,462.6 619.1,452.0 619.2,464.1 619.4,451.0 619.5,461.9 619.6,453.0 619.7,463.9 619.8,450.3 620.0,461.6 620.1,452.6 620.2,461.7 620.3,452.3 620.4,460.4 620.6,451.3 620.7,461.1 620.8,451.9 620.9,460.6 621.0,452.3 621.2,462.6 621.3,440.4 621.4,461.1 621.5,452.5 621.6,463.6 621.8,451.3 621.9,462.7 622.0,450.0 622.1,462.5 622.2,452.1 622.4,467.5 622.5,451.6 622.6,470.3 622.7,449.3 622.8,466.1 623.0,454.5 623.1,471.1 623.2,442.7 623.3,465.7 623.4,454.3 623.6,464.2 623.7,452.9 623.8,465.7 623.9,452.7 624.0,465.9 624.2,449.6 624.3,463.2 624.4,455.7 624.5,468.6 624.6,455.2 624.8,467.0 624.9,455.5 625.0,468.0 625.1,455.8 625.2,466.4 625.4,456.5 625.5,467.3 625.6,450.1 625.7,466.9 625.8,450.8 626.0,467.6 626.1,451.0 626.2,465.9 626.3,453.1 626.4,465.0 626.6,452.0 626.7,466.6 626.8,455.2 626.9,463.2 627.0,453.7 627.2,466.4 627.3,451.1 627.4,463.0 627.5,450.3 627.6,466.8 627.8,455.4 627.9,463.1 628.0,456.7 628.1,469.0 628.2,456.0 628.4,466.1 628.5,454.7 628.6,464.2 628.7,455.2 628.8,465.7 629.0,459.6 629.1,465.4 629.2,455.9 629.3,465.0 629.4,457.8 629.6,467.6 629.7,458.9 629.8,467.6 629.9,458.3 630.0,468.4 630.2,456.4 630.3,464.9 630.4,456.4 630.5,466.0 630.6,458.7 630.8,466.7 630.9,456.8 631.0,466.2 631.1,458.9 631.2,465.7 631.4,458.3 631.5,464.9 631.6,457.3 631.7,466.5 631.8,454.9 632.0,464.8 632.1,456.1 632.2,465.7 632.3,456.1 632.4,461.4 632.6,453.6 632.7,460.5 632.8,450.5 632.9,462.9 633.0,453.7 633.2,462.1 633.3,449.3 633.4,465.3 633.5,447.3 633.6,468.1 633.8,449.9 633.9,462.7 634.0,450.9 634.1,465.8 634.2,452.3 634.4,460.4 634.5,449.8 634.6,463.0 634.7,450.0 634.8,464.8 635.0,449.5 635.1,461.2 635.2,449.0 635.3,464.2 635.4,446.0 635.6,467.5 635.7,444.9 635.8,463.7 635.9,449.9 636.0,464.2 636.2,471.8 636.3,464.4 636.4,447.1 636.5,461.3 636.6,450.6 636.8,464.4 636.9,452.3 637.0,463.9 637.1,449.2 637.2,463.6 637.4,448.1 637.5,470.5 637.6,451.2 637.7,467.8 637.8,453.7 638.0,463.6 638.1,455.7 638.2,466.4 638.3,458.9 638.4,465.7 638.6,458.1 638.7,463.6 638.8,457.5 638.9,465.5 639.0,458.5 639.2,470.2 639.3,457.5 639.4,466.8 639.5,458.8 639.6,468.6 639.8,463.2 639.9,450.1 640.0,477.2 640.1,468.9 640.2,460.8 640.4,466.2 640.5,460.9 640.6,466.4 640.7,461.9 640.8,467.0 641.0,461.2 641.1,468.6 641.2,458.7 641.3,469.7 641.4,457.2 641.6,472.8 641.7,453.0 641.8,471.2 641.9,455.5 642.0,471.5 642.2,453.8 642.3,468.2 642.4,452.9 642.5,467.4 642.6,450.2 642.8,464.8 642.9,447.0 643.0,464.0 643.1,451.8 643.2,464.3 643.4,448.6 643.5,470.2 643.6,452.3 643.7,464.6 643.8,452.3 644.0,462.6 644.1,450.0 644.2,465.9 644.3,445.9 644.4,462.7 644.6,449.3 644.7,459.1 644.8,450.9 644.9,459.9 645.0,446.9 645.2,459.9 645.3,446.8 645.4,461.1 645.5,448.2 645.6,460.1 645.8,446.1 645.9,457.2 646.0,448.3 646.1,455.4 646.2,446.8 646.4,458.3 646.5,447.8 646.6,461.9 646.7,443.1 646.8,464.0 647.0,442.7 647.1,461.2 647.2,444.3 647.3,467.1 647.4,446.8 647.6,462.8 647.7,453.5 647.8,461.4 647.9,447.9 648.0,465.4 648.2,448.2 648.3,463.6 648.4,448.9 648.5,463.1 648.6,453.3 648.8,464.1 648.9,455.1 649.0,469.9 649.1,454.7 649.2,466.9 649.4,453.3 649.5,465.4 649.6,451.0 649.7,465.0 649.8,454.3 650.0,466.9 650.1,452.8 650.2,464.6 650.3,452.8 650.4,463.0 650.6,454.7 650.7,463.3 650.8,454.1 650.9,463.6 651.0,456.5 651.2,464.7 651.3,455.2 651.4,463.1 651.5,456.9 651.6,461.4 651.8,452.8 651.9,461.7 652.0,452.2 652.1,458.5 652.2,451.0 652.4,461.5 652.5,451.0 652.6,461.6 652.7,450.5 652.8,460.5 653.0,450.1 653.1,465.2 653.2,448.0 653.3,459.1 653.4,448.5 653.6,462.3 653.7,448.7 653.8,460.1 653.9,448.3 654.0,458.8 654.2,451.5 654.3,461.1 654.4,448.1 654.5,461.3 654.6,447.3 654.8,458.6 654.9,446.7 655.0,456.7 655.1,450.1 655.2,460.8 655.4,445.9 655.5,459.5 655.6,446.5 655.7,460.4 655.8,443.1 656.0,464.6 656.1,442.7 656.2,457.9 656.3,444.5 656.4,462.6 656.6,445.7 656.7,466.4 656.8,445.7 656.9,461.7 657.0,449.1 657.2,461.0 657.3,446.9 657.4,459.8 657.5,446.6 657.6,461.4 657.8,450.1 657.9,461.8 658.0,448.3 658.1,460.0 658.2,450.5 658.4,459.0 658.5,447.2 658.6,462.9 658.7,445.6 658.8,461.6 659.0,448.0 659.1,459.7 659.2,451.0 659.3,462.8 659.4,447.7 659.6,461.6 659.7,448.6 659.8,460.3 659.9,451.7 660.0,461.0 660.2,449.4 660.3,463.0 660.4,449.2 660.5,460.7 660.6,453.0 660.8,459.2 660.9,451.7 661.0,461.3 661.1,451.0 661.2,460.7 661.4,447.9 661.5,460.1 661.6,450.4 661.7,460.2 661.8,450.6 662.0,459.5 662.1,450.8 662.2,459.6 662.3,450.7 662.4,463.1 662.6,449.9 662.7,463.7 662.8,452.1 662.9,461.4 663.0,450.2 663.2,460.8 663.3,451.1 663.4,458.4 663.5,449.2 663.6,461.1 663.8,453.2 663.9,459.6 664.0,451.5 664.1,459.4 664.2,449.8 664.4,462.9 664.5,450.5 664.6,461.3 664.7,453.0 664.8,459.7 665.0,452.6 665.1,460.4 665.2,450.3 665.3,460.7 665.4,449.1 665.6,459.8 665.7,449.6 665.8,466.4 665.9,452.2 666.0,465.3 666.2,449.0 666.3,468.2 666.4,453.6 666.5,463.0 666.6,454.1 666.8,464.7 666.9,457.6 667.0,463.9 667.1,457.3 667.2,464.5 667.4,455.0 667.5,467.2 667.6,457.0 667.7,467.5 667.8,457.9 668.0,468.2 668.1,456.3 668.2,468.9 668.3,458.8 668.4,467.8 668.6,459.7 668.7,466.5 668.8,459.1 668.9,466.0 669.0,458.3 669.2,469.4 669.3,458.2 669.4,467.1 669.5,456.4 669.6,468.9 669.8,456.3 669.9,469.2 670.0,455.8 670.1,469.8 670.2,454.5 670.4,464.7 670.5,452.3 670.6,467.0 670.7,455.1 670.8,467.6 671.0,455.8 671.1,464.3 671.2,449.7 671.3,462.5 671.4,454.3 671.6,466.4 671.7,454.3 671.8,465.9 671.9,454.7 672.0,466.0 672.2,456.7 672.3,465.9 672.4,454.8 672.5,463.2 672.6,437.4 672.8,468.0 672.9,448.6 673.0,465.7 673.1,448.7 673.2,469.8 673.4,446.7 673.5,466.0 673.6,443.5 673.7,467.6 673.8,442.8 674.0,462.4 674.1,445.1 674.2,465.3 674.3,448.9 674.4,461.8 674.6,444.4 674.7,466.4 674.8,446.5 674.9,464.1 675.0,447.9 675.2,460.9 675.3,448.2 675.4,461.8 675.5,447.7 675.6,459.2 675.8,451.3 675.9,460.1 676.0,450.5 676.1,458.8 676.2,451.0 676.4,460.3 676.5,451.0 676.6,463.5 676.7,451.0 676.8,462.5 677.0,448.9 677.1,463.6 677.2,450.8 677.3,461.3 677.4,450.5 677.6,461.0 677.7,454.1 677.8,464.3 677.9,454.0 678.0,465.4 678.2,452.4 678.3,464.2 678.4,453.9 678.5,464.6 678.6,453.9 678.8,467.2 678.9,455.9 679.0,466.8 679.1,456.0 679.2,465.4 679.4,457.8 679.5,465.4 679.6,456.4 679.7,464.1 679.8,457.3 680.0,467.1 680.1,457.5 680.2,467.8 680.3,455.5 680.4,469.3 680.6,456.9 680.7,467.6 680.8,459.1 680.9,466.7 681.0,455.8 681.2,467.6 681.3,456.6 681.4,464.2 681.5,455.9 681.6,464.4 681.8,453.4 681.9,467.6 682.0,455.6 682.1,448.1 682.2,456.7 682.4,461.1 682.5,455.3 682.6,464.6 682.7,457.3 682.8,465.3 683.0,458.5 683.1,465.5 683.2,457.5 683.3,469.0 683.4,456.5 683.6,466.8 683.7,458.4 683.8,466.3 683.9,457.4 684.0,464.2 684.2,454.5 684.3,464.6 684.4,457.0 684.5,464.4 684.6,456.2 684.8,462.0 684.9,453.8 685.0,462.2 685.1,454.6 685.2,461.8 685.4,454.8 685.5,462.6 685.6,453.5 685.7,461.7 685.8,453.6 686.0,462.8 686.1,453.4 686.2,462.8 686.3,454.1 686.4,462.1 686.6,454.3 686.7,462.2 686.8,454.9 686.9,465.4 687.0,454.6 687.2,464.4 687.3,453.4 687.4,461.5 687.5,452.2 687.6,464.3 687.8,452.1 687.9,465.3 688.0,447.5 688.1,466.6 688.2,449.8 688.4,466.4 688.5,451.2 688.6,465.7 688.7,454.0 688.8,463.9 689.0,453.5 689.1,467.6 689.2,458.6 689.3,464.2 689.4,459.8 689.6,466.6 689.7,458.9 689.8,466.0 689.9,459.8 690.0,466.6 690.2,456.6 690.3,464.1 690.4,457.6 690.5,463.9 690.6,457.5 690.8,463.1 690.9,456.7 691.0,465.8 691.1,454.2 691.2,466.5 691.4,455.6 691.5,464.0 691.6,455.4 691.7,465.9 691.8,452.4 692.0,464.9 692.1,455.2 692.2,465.4 692.3,458.7 692.4,466.0 692.6,456.2 692.7,466.5 692.8,456.5 692.9,467.8 693.0,456.3 693.2,464.9 693.3,458.4 693.4,470.0 693.5,457.6 693.6,467.8 693.8,460.4 693.9,481.3 694.0,459.5 694.1,466.3 694.2,458.7 694.4,465.7 694.5,456.5 694.6,462.9 694.7,456.1 694.8,464.9 695.0,454.1 695.1,460.1 695.2,453.9 695.3,458.1 695.4,453.6 695.6,459.5 695.7,452.9 695.8,459.5 695.9,452.2 696.0,458.0 696.2,453.5 696.3,458.0 696.4,448.9 696.5,459.8 696.6,447.7 696.8,458.4 696.9,448.8 697.0,459.5 697.1,448.7 697.2,458.9 697.4,448.7 697.5,459.0 697.6,448.9 697.7,461.1 697.8,451.4 698.0,459.2 698.1,446.5 698.2,462.0 698.3,444.9 698.4,463.3 698.6,440.0 698.7,463.8 698.8,445.7 698.9,461.1 699.0,449.2 699.2,459.2 699.3,445.2 699.4,462.6 699.5,451.3 699.6,461.4 699.8,448.0 699.9,461.3 700.0,447.7 700.1,458.1 700.2,446.5 700.4,460.1 700.5,446.9 700.6,458.4 700.7,450.6 700.8,460.0 701.0,449.6 701.1,458.3 701.2,449.0 701.3,460.8 701.4,448.6 701.6,459.8 701.7,449.4 701.8,463.9 701.9,451.1 702.0,463.6 702.2,450.9 702.3,469.1 702.4,447.1 702.5,471.7 702.6,453.2 702.8,468.5 702.9,443.5 703.0,470.2 703.1,445.5 703.2,471.1 703.4,447.4 703.5,473.0 703.6,447.0 703.7,470.0 703.8,454.0 704.0,467.4 704.1,455.1 704.2,471.3 704.3,448.8 704.4,466.1 704.6,452.1 704.7,464.5 704.8,450.7 704.9,468.5 705.0,454.6 705.2,465.7 705.3,456.2 705.4,469.8 705.5,452.0 705.6,468.2 705.8,454.1 705.9,467.4 706.0,452.8 706.1,469.3 706.2,452.3 706.4,469.4 706.5,453.8 706.6,467.2 706.7,453.8 706.8,464.0 707.0,455.0 707.1,466.9 707.2,453.4 707.3,463.2 707.4,454.3 707.6,462.4 707.7,454.0 707.8,463.7 707.9,453.1 708.0,459.6 708.2,452.8 708.3,459.7 708.4,452.8 708.5,444.6 708.6,449.5 708.8,460.0 708.9,451.6 709.0,464.3 709.1,451.7 709.2,462.3 709.4,454.6 709.5,466.6 709.6,454.8 709.7,464.9 709.8,451.2 710.0,460.8 710.1,451.9 710.2,463.1 710.3,452.1 710.4,465.4 710.6,450.0 710.7,462.3 710.8,455.1 710.9,461.0 711.0,453.8 711.2,462.2 711.3,455.0 711.4,463.1 711.5,457.1 711.6,464.2 711.8,454.0 711.9,466.7 712.0,455.2 712.1,467.2 712.2,452.4 712.4,462.4 712.5,453.3 712.6,465.4 712.7,450.2 712.8,464.0 713.0,452.4 713.1,463.1 713.2,453.2 713.3,464.0 713.4,450.3 713.6,464.3 713.7,451.3 713.8,459.0 713.9,451.5 714.0,459.8 714.2,452.3 714.3,459.7 714.4,450.2 714.5,459.9 714.6,450.7 714.8,456.5 714.9,449.6 715.0,455.6 715.1,450.1 715.2,457.6 715.4,452.0 715.5,457.4 715.6,451.8 715.7,440.8 715.8,454.0 716.0,459.5 716.1,452.1 716.2,461.0 716.3,451.8 716.4,460.1 716.6,449.9 716.7,462.8 716.8,450.9 716.9,462.0 717.0,453.5 717.2,464.6 717.3,452.6 717.4,464.4 717.5,451.1 717.6,463.3 717.8,456.6 717.9,464.8 718.0,454.3 718.1,465.4 718.2,455.1 718.4,463.8 718.5,455.7 718.6,465.4 718.7,454.3 718.8,467.2 719.0,453.8 719.1,467.5 719.2,456.5 719.3,465.6 719.4,458.9 719.6,466.5 719.7,456.8 719.8,468.3 719.9,458.2 720.0,468.4 720.2,459.5 720.3,468.0 720.4,460.0 720.5,464.4 720.6,456.1 720.8,467.9 720.9,457.2 721.0,466.8 721.1,458.4 721.2,464.8 721.4,458.6 721.5,469.5 721.6,455.2 721.7,469.9 721.8,456.1 722.0,448.3 722.1,457.7 722.2,467.2 722.3,457.1 722.4,467.2 722.6,460.1 722.7,467.0 722.8,457.9 722.9,464.9 723.0,457.4 723.2,467.3 723.3,457.4 723.4,466.2 723.5,458.7 723.6,467.5 723.8,460.3 723.9,465.0 724.0,457.4 724.1,449.9 724.2,458.8 724.4,467.2 724.5,458.1 724.6,463.4 724.7,453.4 724.8,461.0 725.0,454.0 725.1,464.3 725.2,454.2 725.3,461.7 725.4,454.7 725.6,462.2 725.7,453.2 725.8,462.5 725.9,455.3 726.0,461.7 726.2,455.1 726.3,462.4 726.4,453.6 726.5,461.2 726.6,454.1 726.8,463.4 726.9,454.9 727.0,462.5 727.1,456.9 727.2,463.3 727.4,454.9 727.5,461.7 727.6,454.7 727.7,463.0 727.8,458.6 728.0,443.9 728.1,458.1 728.2,464.4 728.3,459.4 728.4,464.8 728.6,457.4 728.7,464.7 728.8,456.0 728.9,464.2 729.0,454.3 729.2,460.3 729.3,450.5 729.4,463.0 729.5,455.1 729.6,464.6 729.8,454.6 729.9,461.9 730.0,445.4 730.1,459.9 730.2,451.8 730.4,461.0 730.5,451.3 730.6,460.3 730.7,452.6 730.8,459.6 731.0,454.1 731.1,459.7 731.2,452.7 731.3,458.0 731.4,451.2 731.6,459.8 731.7,454.4 731.8,462.2 731.9,454.9 732.0,459.5 732.2,454.3 732.3,460.4 732.4,456.0 732.5,459.7 732.6,454.0 732.8,461.1 732.9,453.7 733.0,460.2 733.1,452.6 733.2,461.9 733.4,454.7 733.5,461.9 733.6,451.8 733.7,464.4 733.8,453.3 734.0,465.8 734.1,456.3 734.2,465.0 734.3,457.2 734.4,466.9 734.6,458.9 734.7,466.5 734.8,458.4 734.9,473.3 735.0,460.9 735.2,467.2 735.3,460.5 735.4,464.7 735.5,458.1 735.6,464.7 735.8,459.2 735.9,463.9 736.0,458.8 736.1,466.9 736.2,458.2 736.4,466.8 736.5,459.8 736.6,464.1 736.7,458.9 736.8,465.8 737.0,457.9 737.1,466.1 737.2,455.4 737.3,464.9 737.4,455.4 737.6,463.6 737.7,454.7 737.8,468.2 737.9,457.0 738.0,470.3 738.2,456.1 738.3,463.9 738.4,455.7 738.5,467.4 738.6,452.5 738.8,469.7 738.9,454.2 739.0,467.6 739.1,454.8 739.2,466.3 739.4,453.9 739.5,469.1 739.6,452.1 739.7,462.8 739.8,455.7 740.0,463.5 740.1,454.0 740.2,464.3 740.3,455.5 740.4,463.1 740.6,457.9 740.7,462.8 740.8,456.1 740.9,461.2 741.0,455.5 741.2,459.8 741.3,453.8 741.4,461.1 741.5,452.7 741.6,463.0 741.8,451.0 741.9,461.4 742.0,449.8 742.1,462.1 742.2,450.7 742.4,461.3 742.5,451.1 742.6,464.0 742.7,449.6 742.8,462.1 743.0,450.4 743.1,461.6 743.2,452.7 743.3,462.7 743.4,455.0 743.6,463.0 743.7,453.1 743.8,462.0 743.9,451.6 744.0,462.2 744.2,453.4 744.3,465.4 744.4,451.3 744.5,440.0 744.6,450.7 744.8,466.6 744.9,451.5 745.0,466.4 745.1,450.8 745.2,463.8 745.4,453.4 745.5,465.3 745.6,450.9 745.7,467.0 745.8,448.0 746.0,462.7 746.1,449.6 746.2,462.4 746.3,450.4 746.4,463.6 746.6,453.0 746.7,465.5 746.8,456.7 746.9,464.6 747.0,454.8 747.2,465.1 747.3,454.7 747.4,464.5 747.5,456.0 747.6,462.2 747.8,456.5 747.9,462.4 748.0,454.9 748.1,460.0 748.2,452.9 748.4,461.4 748.5,455.1 748.6,463.3 748.7,457.5 748.8,463.1 749.0,456.0 749.1,465.5 749.2,454.7 749.3,466.2 749.4,451.0 749.6,469.3 749.7,449.6 749.8,461.6 749.9,449.9 750.0,464.4 750.2,453.6 750.3,461.0 750.4,453.6 750.5,462.8 750.6,454.3 750.8,462.5 750.9,451.9 751.0,460.8 751.1,452.3 751.2,464.0 751.4,449.8 751.5,460.1 751.6,449.8 751.7,460.8 751.8,451.3 752.0,459.8 752.1,453.4 752.2,458.7 752.3,453.9 752.4,461.2 752.6,455.8 752.7,463.5 752.8,455.9 752.9,462.9 753.0,455.0 753.2,463.4 753.3,455.8 753.4,449.4 753.5,456.4 753.6,467.6 753.8,455.9 753.9,467.6 754.0,459.0 754.1,465.7 754.2,457.4 754.4,467.7 754.5,457.0 754.6,467.0 754.7,458.8 754.8,466.7 755.0,456.7 755.1,464.3 755.2,454.8 755.3,465.1 755.4,454.0 755.6,465.2 755.7,454.6 755.8,464.9 755.9,452.1 756.0,467.2 756.2,454.3 756.3,466.9 756.4,450.9 756.5,466.5 756.6,451.5 756.8,464.0 756.9,448.5 757.0,465.2 757.1,448.0 757.2,463.7 757.4,452.1 757.5,460.6 757.6,452.0 757.7,462.4 757.8,451.6 758.0,461.8 758.1,449.5 758.2,458.9 758.3,453.1 758.4,459.5 758.6,450.3 758.7,461.0 758.8,453.2 758.9,464.1 759.0,452.5 759.2,462.9 759.3,455.0 759.4,462.7 759.5,453.4 759.6,464.5 759.8,453.4 759.9,464.0 760.0,452.5 760.1,462.0 760.2,456.7 760.4,464.2 760.5,454.2 760.6,464.9 760.7,454.9 760.8,466.1 761.0,456.4 761.1,467.5 761.2,453.6 761.3,467.6 761.4,453.5 761.6,467.1 761.7,454.5 761.8,463.5 761.9,456.3 762.0,464.2 762.2,455.9 762.3,463.6 762.4,457.8 762.5,464.6 762.6,456.0 762.8,464.0 762.9,459.2 763.0,462.9 763.1,459.8 763.2,463.1 763.4,458.5 763.5,463.9 763.6,459.0 763.7,475.8 763.8,456.8 764.0,462.5 764.1,455.3 764.2,460.1 764.3,456.8 764.4,464.5 764.6,458.0 764.7,463.0 764.8,455.2 764.9,465.5 765.0,458.0 765.2,463.9 765.3,452.8 765.4,463.4 765.5,454.5 765.6,466.7 765.8,450.2 765.9,466.6 766.0,453.9 766.1,463.5 766.2,452.6 766.4,462.6 766.5,454.0 766.6,459.9 766.7,451.3 766.8,465.0 767.0,453.5 767.1,465.5 767.2,450.0 767.3,465.8 767.4,453.4 767.6,467.8 767.7,450.2 767.8,463.7 767.9,450.3 768.0,461.6 768.2,452.9 768.3,465.6 768.4,453.4 768.5,466.0 768.6,454.9 768.8,464.0 768.9,456.1 769.0,466.9 769.1,458.3 769.2,465.4 769.4,457.3 769.5,465.4 769.6,458.6 769.7,466.9 769.8,455.0 770.0,469.2 770.1,453.7 770.2,468.2 770.3,452.0 770.4,469.3 770.6,455.4 770.7,471.8 770.8,452.6 770.9,471.3 771.0,451.1 771.2,474.5 771.3,457.1 771.4,468.9 771.5,455.7 771.6,469.6 771.8,453.9 771.9,464.0 772.0,457.2 772.1,465.6 772.2,456.0 772.4,465.3 772.5,454.8 772.6,464.0 772.7,456.0 772.8,464.5 773.0,453.6 773.1,466.9 773.2,456.1 773.3,462.4 773.4,455.7 773.6,462.0 773.7,453.8 773.8,460.1 773.9,457.1 774.0,459.9 774.2,454.1 774.3,459.1 774.4,454.6 774.5,460.1 774.6,452.7 774.8,462.0 774.9,453.0 775.0,461.5 775.1,452.5 775.2,461.3 775.4,454.5 775.5,463.5 775.6,453.6 775.7,460.8 775.8,456.5 776.0,463.8 776.1,453.6 776.2,461.1 776.3,455.6 776.4,462.4 776.6,453.6 776.7,463.6 776.8,454.2 776.9,462.2 777.0,455.7 777.2,464.0 777.3,454.6 777.4,465.7 777.5,452.0 777.6,463.4 777.8,453.0 777.9,465.8 778.0,455.4 778.1,464.1 778.2,451.6 778.4,463.2 778.5,451.9 778.6,465.0 778.7,452.7 778.8,463.7 779.0,453.7 779.1,463.6 779.2,457.5 779.3,464.2 779.4,456.1 779.6,464.0 779.7,457.6 779.8,465.1 779.9,459.0 780.0,464.4 780.2,459.1 780.3,464.9 780.4,457.9 780.5,468.2 780.6,458.9 780.8,466.1 780.9,458.0 781.0,467.7 781.1,457.6 781.2,466.2 781.4,458.1 781.5,470.2 781.6,458.4 781.7,468.6 781.8,459.6 782.0,466.3 782.1,457.4 782.2,466.8 782.3,456.0 782.4,472.0 782.6,458.4 782.7,473.2 782.8,446.7 782.9,473.6 783.0,457.4 783.2,472.8 783.3,455.8 783.4,474.4 783.5,455.5 783.6,473.8 783.8,457.5 783.9,474.4 784.0,458.1 784.1,475.0 784.2,459.2 784.4,475.3 784.5,459.4 784.6,473.2 784.7,459.4 784.8,469.9 785.0,460.9 785.1,470.4 785.2,461.2 785.3,469.7 785.4,459.9 785.6,471.9 785.7,463.3 785.8,472.0 785.9,459.2 786.0,472.7 786.2,459.4 786.3,471.6 786.4,457.5 786.5,467.4 786.6,458.6 786.8,470.6 786.9,458.5 787.0,471.5 787.1,458.9 787.2,470.0 787.4,458.9 787.5,467.8 787.6,458.0 787.7,468.9 787.8,459.1 788.0,469.6 788.1,463.0 788.2,471.3 788.3,460.5 788.4,467.1 788.6,460.6 788.7,470.0 788.8,461.2 788.9,470.4 789.0,463.4 789.2,471.3 789.3,461.2 789.4,471.0 789.5,459.0 789.6,470.7 789.8,458.1 789.9,467.7 790.0,459.0 790.1,469.3 790.2,459.5 790.4,468.0 790.5,455.5 790.6,466.9 790.7,455.9 790.8,470.3 791.0,456.4 791.1,471.5 791.2,456.5 791.3,472.8 791.4,457.9 791.6,469.6 791.7,455.4 791.8,468.1 791.9,451.7 792.0,468.4 792.2,452.8 792.3,470.6 792.4,454.3 792.5,447.7 792.6,457.9 792.8,472.0 792.9,457.0 793.0,464.2 793.1,451.2 793.2,466.7 793.4,451.5 793.5,467.7 793.6,455.0 793.7,462.2 793.8,449.4 794.0,464.1 794.1,451.6 794.2,466.4 794.3,451.4 794.4,464.8 794.6,453.6 794.7,463.2 794.8,452.6 794.9,461.8 795.0,452.1 795.2,463.3 795.3,453.4 795.4,461.4 795.5,452.9 795.6,460.3 795.8,451.3 795.9,462.3 796.0,449.9 796.1,468.5 796.2,452.8 796.4,463.3 796.5,454.2 796.6,464.4 796.7,452.4 796.8,464.0 797.0,454.8 797.1,462.3 797.2,453.9 797.3,462.8 797.4,452.6 797.6,438.2 797.7,452.3 797.8,460.0 797.9,451.1 798.0,461.5 798.2,451.3 798.3,460.8 798.4,451.9 798.5,461.3 798.6,451.6 798.8,459.3 798.9,452.5 799.0,462.8 799.1,453.2 799.2,463.6 799.4,452.1 799.5,466.3 799.6,451.7 799.7,465.4 799.8,451.2 800.0,465.7 800.1,451.0 800.2,465.9 800.3,455.9 800.4,466.9 800.6,454.2 800.7,465.8 800.8,454.5 800.9,464.5 801.0,456.4 801.2,463.3 801.3,456.7 801.4,463.1 801.5,457.8 801.6,463.6 801.8,460.4 801.9,462.4 802.0,458.5 802.1,463.4 802.2,457.7 802.4,463.9 802.5,460.2 802.6,466.1 802.7,459.1 802.8,468.4 803.0,456.4 803.1,470.9 803.2,454.4 803.3,470.0 803.4,454.6 803.6,468.8 803.7,457.4 803.8,470.7 803.9,457.0 804.0,466.4 804.2,455.2 804.3,464.7 804.4,455.5 804.5,463.8 804.6,455.4 804.8,463.4 804.9,454.5 805.0,462.3 805.1,451.3 805.2,462.3 805.4,451.0 805.5,459.5 805.6,452.1 805.7,462.6 805.8,451.7 806.0,461.5 806.1,452.6 806.2,462.1 806.3,454.5 806.4,459.6 806.6,452.6 806.7,460.9 806.8,455.5 806.9,462.0 807.0,455.1 807.2,459.9 807.3,453.9 807.4,460.9 807.5,452.4 807.6,464.5 807.8,451.6 807.9,465.9 808.0,454.2 808.1,465.5 808.2,452.1 808.4,461.2 808.5,451.6 808.6,464.8 808.7,453.9 808.8,465.0 809.0,453.2 809.1,464.6 809.2,457.2 809.3,465.3 809.4,456.6 809.6,467.5 809.7,456.4 809.8,464.7 809.9,453.9 810.0,466.0 810.2,456.5 810.3,464.8 810.4,457.7 810.5,465.4 810.6,458.1 810.8,463.8 810.9,457.0 811.0,465.2 811.1,460.3 811.2,466.3 811.4,461.3 811.5,467.4 811.6,461.1 811.7,468.3 811.8,458.2 812.0,465.7 812.1,458.5 812.2,465.8 812.3,459.4 812.4,465.9 812.6,459.8 812.7,462.9 812.8,460.1 812.9,463.0 813.0,458.0 813.2,463.0 813.3,459.2 813.4,463.2 813.5,459.3 813.6,466.3 813.8,457.9 813.9,463.4 814.0,455.3 814.1,464.7 814.2,454.5 814.4,465.1 814.5,456.1 814.6,465.9 814.7,459.3 814.8,465.4 815.0,459.6 815.1,464.8 815.2,459.1 815.3,449.8 815.4,458.7 815.6,463.5 815.7,458.0 815.8,464.2 815.9,461.5 816.0,466.2 816.2,459.2 816.3,464.7 816.4,457.9 816.5,463.5 816.6,459.2 816.8,463.7 816.9,457.3 817.0,463.3 817.1,457.8 817.2,464.0 817.4,459.6 817.5,465.2 817.6,457.3 817.7,465.8 817.8,457.9 818.0,465.2 818.1,455.9 818.2,465.1 818.3,456.3 818.4,465.7 818.6,456.2 818.7,467.6 818.8,458.8 818.9,467.0 819.0,454.3 819.2,469.1 819.3,458.7 819.4,467.5 819.5,456.1 819.6,466.9 819.8,459.3 819.9,465.8 820.0,456.4 820.1,465.2 820.2,457.4 820.4,466.4 820.5,458.0 820.6,466.3 820.7,456.9 820.8,465.6 821.0,456.4 821.1,464.2 821.2,457.0 821.3,465.0 821.4,457.5 821.6,465.5 821.7,456.2 821.8,464.6 821.9,456.8 822.0,464.9 822.2,457.0 822.3,466.7 822.4,457.7 822.5,466.1 822.6,460.0 822.8,469.6 822.9,460.9 823.0,468.9 823.1,461.4 823.2,467.4 823.4,459.7 823.5,467.9 823.6,458.8 823.7,466.8 823.8,459.6 824.0,467.2 824.1,461.1 824.2,469.1 824.3,457.8 824.4,468.5 824.6,460.3 824.7,467.4 824.8,453.7 824.9,472.5 825.0,459.2 825.2,466.9 825.3,458.8 825.4,467.8 825.5,459.3 825.6,466.3 825.8,456.6 825.9,465.2 826.0,457.5 826.1,463.8 826.2,455.9 826.4,465.2 826.5,453.3 826.6,467.3 826.7,449.7 826.8,464.5 827.0,451.6 827.1,460.8 827.2,471.4 827.3,460.3 827.4,448.0 827.6,461.7 827.7,450.2 827.8,463.5 827.9,448.5 828.0,461.6 828.2,451.8 828.3,465.0 828.4,450.9 828.5,463.5 828.6,451.9 828.8,464.3 828.9,448.1 829.0,462.8 829.1,449.8 829.2,464.0 829.4,454.6 829.5,460.8 829.6,452.7 829.7,460.2 829.8,445.3 830.0,463.1 830.1,454.8 830.2,462.2 830.3,452.4 830.4,461.8 830.6,453.9 830.7,458.3 830.8,454.3 830.9,460.5 831.0,454.5 831.2,459.4 831.3,453.6 831.4,461.4 831.5,469.5 831.6,462.6 831.8,455.4 831.9,465.2 832.0,455.7 832.1,466.2" fill="none" stroke="#5c5c5c" stroke-width="0.85" stroke-linejoin="round"/>
<line x1="616.7" y1="469" x2="573.8" y2="502.2" stroke="#3a3232" stroke-width="1.5" stroke-dasharray="6 5.6" fill="none"/>
<line x1="621.3" y1="469" x2="747.6" y2="505.2" stroke="#3a3232" stroke-width="1.5" stroke-dasharray="6 5.6" fill="none"/>
<polyline points="572.9,514.2 573.1,512.1 573.5,513.0 573.9,509.1 574.2,509.2 574.6,508.4 575.0,513.3 575.3,515.7 575.7,518.2 576.1,519.1 576.4,517.8 576.7,516.5 577.0,511.4 577.4,512.2 577.7,509.5 578.1,508.5 578.4,506.8 578.7,510.7 579.0,510.7 579.3,510.6 579.6,515.2 579.9,516.0 580.2,515.5 580.6,516.2 580.9,514.5 581.2,511.0 581.6,510.5 581.9,512.0 582.1,511.6 582.5,514.4 582.9,517.2 583.2,519.8 583.5,516.3 583.8,509.9 584.2,504.1 584.5,504.8 584.9,510.3 585.2,512.3 585.6,515.2 586.0,517.6 586.3,519.1 586.7,519.9 586.9,514.3 587.3,510.2 587.6,510.2 587.9,516.1 588.2,518.8 588.5,521.2 588.8,523.4 589.2,521.8 589.4,523.3 589.8,524.8 590.1,521.3 590.4,518.8 590.7,514.6 591.0,511.7 591.3,511.8 591.6,511.1 591.9,514.1 592.2,517.0 592.5,518.1 592.8,518.5 593.1,517.0 593.5,511.3 593.9,510.6 594.2,508.6 594.5,509.9 594.9,510.8 595.3,518.7 595.6,521.6 596.0,518.8 596.4,511.5 596.8,509.3 597.1,508.7 597.5,512.5 597.9,515.5 598.2,514.2 598.6,515.6 598.9,515.1 599.2,512.0 599.5,511.5 599.8,506.9 600.1,506.4 600.4,505.9 600.7,512.2 601.0,513.8 601.3,517.5 601.7,518.2 602.0,515.1 602.3,514.8 602.6,513.8 603.0,514.4 603.3,511.5 603.6,511.6 604.0,510.9 604.3,511.2 604.6,513.0 604.9,513.4 605.3,512.5 605.6,515.1 605.9,519.0 606.1,515.5 606.5,516.6 606.9,513.2 607.2,506.7 607.5,506.6 607.9,508.4 608.2,518.1 608.6,519.7 608.9,518.0 609.3,516.5 609.7,513.0 610.0,509.4 610.4,507.6 610.7,505.8 611.1,507.4 611.4,514.5 611.8,519.5 612.1,516.1 612.4,513.8 612.8,511.7 613.2,512.1 613.5,509.7 613.8,509.6 614.2,509.9 614.4,515.7 614.8,517.7 615.1,519.2 615.4,515.0 615.8,508.9 616.2,509.5 616.5,507.9 616.8,507.0 617.3,504.1 617.6,513.2 618.0,517.4 618.3,517.1 618.7,515.1 619.1,511.7 619.4,512.1 619.8,511.1 620.1,511.9 620.5,513.1 620.8,514.2 621.1,517.8 621.5,516.1 621.8,515.5 622.1,514.2 622.4,512.5 622.7,509.3 623.0,510.5 623.3,510.1 623.6,509.7 623.9,513.0 624.2,513.8 624.5,515.6 624.9,516.3 625.2,520.5 625.5,519.1 625.8,514.0 626.1,515.2 626.4,512.5 626.7,508.9 627.0,509.2 627.3,512.9 627.6,513.5 627.9,516.8 628.3,518.9 628.6,515.3 628.9,513.3 629.2,510.9 629.5,510.2 629.9,509.2 630.2,505.4 630.6,504.1 630.9,507.1 631.2,508.5 631.6,512.7 631.9,514.6 632.2,516.8 632.6,517.9 632.9,517.7 633.2,515.1 633.5,512.9 633.8,514.4 634.1,514.4 634.4,510.4 634.7,506.2 635.0,509.4 635.3,513.3 635.6,512.5 635.9,516.4 636.2,517.5 636.5,515.4 636.8,512.2 637.1,511.4 637.5,508.2 637.8,510.5 638.1,517.0 638.5,517.5 638.9,517.5 639.2,519.6 639.5,518.7 639.9,512.9 640.2,509.6 640.6,504.8 640.9,503.9 641.3,507.6 641.6,509.2 642.0,510.9 642.3,511.9 642.7,513.3 643.0,514.5 643.4,513.7 643.7,514.4 644.0,510.3 644.3,508.5 644.6,508.3 645.0,507.7 645.3,507.6 645.6,509.7 645.9,511.2 646.2,510.9 646.5,515.4 646.8,516.5 647.1,517.3 647.5,517.2 647.8,513.9 648.1,513.5 648.4,509.5 648.7,509.2 649.0,511.6 649.3,515.2 649.6,520.4 649.9,522.6 650.2,521.9 650.5,518.7 650.8,516.4 651.2,514.5 651.5,513.2 651.9,509.0 652.2,509.4 652.5,509.1 652.9,510.5 653.2,511.3 653.6,515.0 653.9,515.7 654.2,517.2 654.5,514.9 654.9,512.7 655.2,509.2 655.6,509.6 655.8,510.2 656.2,508.8 656.5,512.5 656.9,516.5 657.3,514.0 657.6,515.9 657.9,517.6 658.3,516.0 658.6,512.5 659.0,514.4 659.3,512.4 659.6,511.1 659.9,508.2 660.2,510.8 660.6,515.1 660.8,516.4 661.1,517.7 661.5,513.5 661.9,511.3 662.3,506.8 662.6,510.3 662.9,513.5 663.3,515.8 663.6,521.1 663.9,516.9 664.2,515.5 664.6,514.1 664.9,510.0 665.2,508.7 665.6,512.3 665.9,514.7 666.3,518.1 666.7,521.6 667.0,524.6 667.3,518.2 667.6,516.5 667.9,508.3 668.2,505.2 668.6,505.0 669.0,512.8 669.4,518.6 669.7,516.9 670.0,510.4 670.3,507.3 670.6,506.2 670.9,506.0 671.2,508.4 671.6,513.7 672.0,518.4 672.3,521.1 672.6,521.1 673.0,516.9 673.3,515.4 673.6,512.2 674.0,510.4 674.2,510.9 674.6,513.0 674.9,514.6 675.2,518.3 675.6,519.8 675.8,519.2 676.1,517.4 676.4,515.2 676.8,512.0 677.1,508.6 677.4,506.5 677.7,507.1 678.1,510.5 678.4,509.5 678.8,511.8 679.2,513.6 679.5,514.7 679.8,518.3 680.2,514.3 680.5,510.9 680.8,508.1 681.1,509.0 681.4,510.1 681.7,514.8 682.2,517.2 682.4,516.3 682.7,517.1 683.1,513.1 683.4,516.5 683.7,508.3 684.1,508.8 684.4,510.1 684.7,511.0 685.0,511.2 685.4,513.6 685.7,515.0 686.0,516.1 686.3,516.9 686.6,515.5 687.0,513.1 687.3,510.6 687.6,509.6 688.0,506.4 688.3,506.8 688.7,508.9 689.0,509.4 689.4,513.0 689.7,513.6 690.1,516.6 690.4,518.1 690.8,517.0 691.1,515.0 691.4,513.9 691.8,510.8 692.1,511.1 692.4,514.0 692.7,513.6 693.0,517.6 693.4,521.0 693.7,520.7 693.9,521.8 694.3,519.9 694.7,517.5 695.0,512.6 695.4,508.9 695.7,502.9 696.0,508.4 696.3,514.3 696.6,517.5 697.0,518.7 697.3,519.1 697.6,512.6 698.0,509.1 698.3,508.4 698.6,508.9 699.0,514.4 699.3,517.0 699.6,514.7 699.9,513.4 700.3,511.4 700.6,510.4 700.9,514.5 701.3,516.4 701.6,518.8 702.0,519.3 702.3,519.1 702.6,517.8 703.0,512.3 703.3,512.0 703.6,512.2 703.9,512.7 704.3,514.4 704.6,518.6 704.9,517.2 705.2,520.5 705.6,515.7 705.9,513.6 706.3,507.4 706.7,505.6 706.9,507.8 707.3,507.4 707.6,511.7 707.9,514.2 708.2,517.6 708.6,518.9 708.9,517.8 709.2,516.1 709.5,513.2 709.8,512.1 710.1,508.8 710.4,507.6 710.7,507.0 711.1,505.9 711.5,508.5 711.8,513.1 712.2,515.2 712.5,518.0 712.9,512.4 713.2,513.7 713.5,512.3 713.8,509.0 714.2,509.3 714.5,509.3 714.8,511.2 715.1,514.9 715.5,514.8 715.8,516.0 716.1,521.3 716.4,521.5 716.8,518.6 717.0,513.5 717.4,515.4 717.7,519.7 718.0,523.4 718.3,518.5 718.7,513.4 719.0,515.3 719.3,517.1 719.7,516.3 720.0,518.3 720.3,515.4 720.7,515.2 721.0,514.4 721.3,509.3 721.6,509.0 721.9,511.7 722.3,511.4 722.6,513.4 722.9,516.1 723.2,514.3 723.5,516.9 723.8,515.7 724.2,514.3 724.5,513.8 724.8,511.6 725.1,512.0 725.5,513.4 725.8,518.1 726.3,522.9 726.6,529.0 727.0,540.4 727.3,529.6 727.7,517.2 728.1,510.5 728.4,511.2 728.8,511.3 729.1,511.8 729.3,516.1 729.7,518.0 730.0,515.1 730.4,513.6 730.7,510.0 731.0,508.6 731.4,510.2 731.8,515.4 732.2,519.0 732.5,517.8 732.8,514.5 733.2,513.7 733.5,512.5 733.9,512.6 734.2,512.7 734.5,511.9 734.8,515.8 735.2,514.3 735.4,516.2 735.8,514.0 736.1,513.7 736.5,511.1 736.8,511.7 737.1,512.6 737.4,517.5 737.7,518.1 738.0,520.8 738.4,522.2 738.7,519.6 739.0,518.8 739.3,513.0 739.7,513.6 740.0,508.2 740.3,509.0 740.6,507.8 740.9,508.6 741.2,513.1 741.5,509.5 741.8,515.6 742.1,515.5 742.4,516.5 742.7,514.6 743.0,512.6 743.4,510.0 743.7,508.3 744.0,509.2 744.3,507.2 744.6,511.6 744.9,510.9 745.3,513.9 745.6,513.2 745.9,516.5 746.1,516.1 746.6,516.9 747.0,515.9 747.4,511.7 747.6,511.3" fill="none" stroke="#cc1f1f" stroke-width="1.25" stroke-linejoin="round"/>
<text transform="translate(125.66,557.89) scale(0.9697,1)" font-size="22.44" fill="#000" >Temp</text>
<line x1="194.1" y1="558" x2="829" y2="558" stroke="#7a7272" stroke-width="1.7" stroke-dasharray="6 5.7"/>
<line x1="194.1" y1="606" x2="829" y2="606" stroke="#7a7272" stroke-width="1.7" stroke-dasharray="6 5.7"/>
<path d="M193.5,553.2 C195.0,553.1 195.9,552.6 202.7,552.5 C209.5,552.4 226.5,552.6 234.4,552.3 C242.3,552.0 239.1,551.0 250.0,550.6 C260.9,550.2 278.3,550.3 300.0,550.2 C321.7,550.1 361.2,550.3 380.0,550.2 C398.8,550.1 405.0,549.3 412.6,549.4 C420.2,549.5 423.2,549.7 425.9,551.0 C428.6,552.3 427.9,554.7 428.8,557.2 C429.7,559.7 429.3,562.9 431.0,566.0 C432.7,569.1 436.6,571.5 439.2,575.7 C441.8,579.9 443.9,587.1 446.6,591.2 C449.3,595.3 453.0,597.6 455.5,600.1 C458.0,602.6 457.9,603.9 461.4,606.0 C464.8,608.1 470.5,611.3 476.2,612.7 C481.9,614.1 489.5,614.3 495.4,614.2 C501.3,614.1 507.6,612.3 511.7,612.0 C515.8,611.7 511.8,612.8 520.0,612.3 C528.2,611.8 544.9,609.4 560.8,608.8 C576.7,608.1 597.4,608.6 615.6,608.4 C633.9,608.2 652.1,608.0 670.3,607.6 C688.5,607.2 707.4,606.5 725.0,606.0 C742.6,605.5 758.0,604.9 776.0,604.5 C794.0,604.1 823.8,603.9 833.3,603.8" fill="none" stroke="#1a0e0e" stroke-width="2.2"/>
<text transform="translate(835.05,562.63) scale(0.9528,1)" font-size="17.18" fill="#000" >37</text><ellipse cx="855.9" cy="555.2" rx="2.5" ry="2.75" fill="none" stroke="#000" stroke-width="1.15"/><text transform="translate(858.96,562.63) scale(0.8591,1)" font-size="17.18" fill="#000" >C</text>
<text transform="translate(835.05,613.43) scale(0.9709,1)" font-size="16.62" fill="#000" >30</text><ellipse cx="855.9" cy="606.4" rx="2.5" ry="2.75" fill="none" stroke="#000" stroke-width="1.15"/><text transform="translate(858.96,613.43) scale(0.8882,1)" font-size="16.62" fill="#000" >C</text>
<text transform="translate(20.55,683.7) scale(0.9929,1)" font-size="54.78" fill="#000" >B</text>
<path d="M53.3,755 H58 V1004.4 H427.8" fill="none" stroke="#000" stroke-width="1.6"/>
<path d="M53.3,817.7 H58 M53.3,879.8 H58 M53.3,942.3 H58 M53.3,1004.2 H58 " stroke="#000" stroke-width="1.6"/>
<path d="M58.6,1004.4 V1008.2 M87.0,1004.4 V1008.2 M115.4,1004.4 V1008.2 M143.8,1004.4 V1008.2 M172.2,1004.4 V1008.2 M200.6,1004.4 V1008.2 M229.0,1004.4 V1008.2 M257.4,1004.4 V1008.2 M285.8,1004.4 V1008.2 M314.2,1004.4 V1008.2 M342.6,1004.4 V1008.2 M371.0,1004.4 V1008.2 M399.4,1004.4 V1008.2 M427.8,1004.4 V1008.2 " stroke="#000" stroke-width="1.6"/>
<text transform="translate(34.81,762.14) scale(1.0125,1)" font-size="26.06" fill="#000" >8</text>
<text transform="translate(33.77,824.24) scale(1.1013,1)" font-size="26.06" fill="#000" >6</text>
<text transform="translate(34.45,886.4) scale(0.9728,1)" font-size="26.52" fill="#000" >4</text>
<text transform="translate(34.46,948.5) scale(1.0313,1)" font-size="26" fill="#000" >2</text>
<text transform="translate(34.47,1010.44) scale(0.9965,1)" font-size="25.77" fill="#000" >0</text>
<text transform="translate(49.73,1032.05) scale(1.0848,1)" font-size="24.65" fill="#000" >0</text>
<text transform="translate(164.17,1032.05) scale(1.0186,1)" font-size="24.65" fill="#000" >8</text>
<text transform="translate(385.17,1032.05) scale(1.0806,1)" font-size="24.65" fill="#000" >20</text>
<rect x="278.8" y="1013.9" width="2.5" height="18.9" fill="#000"/><line x1="280.05" y1="1015.15" x2="275.15" y2="1019.5" stroke="#000" stroke-width="2.38" stroke-linecap="round"/>
<text transform="translate(285.45,1032.8) scale(1.0119,1)" font-size="26.71" fill="#000" >2</text>
<text transform="translate(148.47,1067.06) scale(0.9732,1)" font-size="29.73" fill="#000" >frequency (Hz)</text>
<text transform="translate(15.95,921.7) rotate(-90) scale(1.0474,1)" font-size="27.87" fill="#000" >power</text>
<polyline points="72.2,1004.2 100.7,985.5 129.1,963.8 157.6,951.3 186.0,907.8 214.4,771.0 242.9,895.4 271.4,938.9 299.8,948.2 328.2,935.8 356.7,942.0 385.1,948.2 413.6,954.4" fill="none" stroke="#4f81bd" stroke-width="3.3" stroke-linejoin="round"/>
<polyline points="72.2,1004.2 100.7,991.8 129.1,970.0 157.6,960.7 186.0,938.9 214.4,895.4 242.9,929.6 271.4,948.2 299.8,954.4 328.2,942.0 356.7,948.2 385.1,951.3 413.6,959.1" fill="none" stroke="#c0504d" stroke-width="3.3" stroke-linejoin="round"/>
<polyline points="72.2,1004.2 100.7,998.0 129.1,985.5 157.6,979.3 186.0,973.1 214.4,963.8 242.9,970.0 271.4,973.1 299.8,976.2 328.2,960.7 356.7,957.6 385.1,954.4 413.6,960.7" fill="none" stroke="#9bbb59" stroke-width="3.3" stroke-linejoin="round"/>
<polyline points="72.2,1004.2 100.7,998.0 129.1,988.7 157.6,982.4 186.0,976.2 214.4,966.9 242.9,973.1 271.4,976.2 299.8,979.3 328.2,957.6 356.7,954.4 385.1,960.7 413.6,957.6" fill="none" stroke="#8064a2" stroke-width="3.3" stroke-linejoin="round"/>
<text transform="translate(484.88,683.07) scale(1.0363,1)" font-size="52.54" fill="#000" >C</text>
<text transform="translate(620.06,683.4) scale(1.0389,1)" font-size="29.38" fill="#000" >Basal activity at 37ºC</text>
<path d="M589.9,713.8 H586.1 V870.1 H944.6 V866" fill="none" stroke="#000" stroke-width="1.5"/>
<path d="M586.1,791.9 H589.9 M765.3,870 V866.6" stroke="#000" stroke-width="1.5"/>
<rect x="560.6" y="707.7" width="2.4" height="18.9" fill="#000"/><line x1="561.8" y1="708.9" x2="557" y2="713.4" stroke="#000" stroke-width="2.28" stroke-linecap="round"/>
<text transform="translate(567.28,726.33) scale(0.9519,1)" font-size="26.76" fill="#000" >0</text>
<text transform="translate(565.78,799.74) scale(0.9691,1)" font-size="26.29" fill="#000" >5</text>
<text transform="translate(565.27,877.44) scale(0.9911,1)" font-size="25.92" fill="#000" >0</text>
<clipPath id="cpC"><rect x="0" y="0" width="537" height="1146"/></clipPath>
<g clip-path="url(#cpC)"><text transform="translate(536.4,855.21) rotate(-90) scale(1.0390,1)" font-size="26.34" fill="#000" >theta power</text></g>
<rect x="629.2" y="738.5" width="92.8" height="131.5" fill="#fff" stroke="#000" stroke-width="1.6"/>
<path d="M675.3,728.8 V746.7 M673,728.8 H678 M673,746.7 H678" stroke="#000" stroke-width="1.5"/>
<rect x="806.8" y="802.6" width="95.7" height="67.5" fill="#000"/>
<path d="M855.1,796 V803 M852.3,796 H857.6" stroke="#000" stroke-width="1.5"/>
<g fill="#000"><path transform="translate(854.8,775.6) rotate(0)" d="M0,0 L-2.38,-7.33 A2.5,2.5 0 1 1 2.38,-7.33 Z"/><path transform="translate(854.8,775.6) rotate(60)" d="M0,0 L-2.38,-7.33 A2.5,2.5 0 1 1 2.38,-7.33 Z"/><path transform="translate(854.8,775.6) rotate(120)" d="M0,0 L-2.38,-7.33 A2.5,2.5 0 1 1 2.38,-7.33 Z"/><path transform="translate(854.8,775.6) rotate(180)" d="M0,0 L-2.38,-7.33 A2.5,2.5 0 1 1 2.38,-7.33 Z"/><path transform="translate(854.8,775.6) rotate(240)" d="M0,0 L-2.38,-7.33 A2.5,2.5 0 1 1 2.38,-7.33 Z"/><path transform="translate(854.8,775.6) rotate(300)" d="M0,0 L-2.38,-7.33 A2.5,2.5 0 1 1 2.38,-7.33 Z"/></g>
<text transform="translate(656.87,895.5) scale(0.9890,1)" font-size="26.52" fill="#000" >WT</text>
<text transform="translate(833.2,895.5) scale(1.0501,1)" font-size="26.14" fill="#000" >KO</text>
<text transform="translate(485.36,948.6) scale(1.0147,1)" font-size="52.17" fill="#000" >D</text>
<text transform="translate(668.96,948.3) scale(1.0503,1)" font-size="29.24" fill="#000" >Cooling effect</text>
<path d="M585.8,964.2 V1119.5 H944 V1115.5" fill="none" stroke="#000" stroke-width="1.5"/>
<path d="M585.8,989.7 H589.7 M585.8,1022 H589.7 M585.8,1054.7 H589.7 M585.8,1087.2 H589.7 M765,1119.5 V1116" stroke="#000" stroke-width="1.5"/>
<rect x="574.4" y="977.7" width="2.5" height="18.5" fill="#000"/><line x1="575.65" y1="978.95" x2="570.85" y2="983" stroke="#000" stroke-width="2.38" stroke-linecap="round"/>
<text transform="translate(528.08,1028.93) scale(0.9608,1)" font-size="26.62" fill="#000" >0.75</text>
<text transform="translate(542.67,1062.13) scale(0.9534,1)" font-size="26.9" fill="#000" >0.5</text>
<text transform="translate(528.57,1093.83) scale(0.9628,1)" font-size="26.62" fill="#000" >0.25</text>
<text transform="translate(564.17,1126.34) scale(0.9804,1)" font-size="26.2" fill="#000" >0</text>
<text transform="translate(513.73,1102.55) rotate(-90) scale(1.0009,1)" font-size="26.94" fill="#000" >ratio vs WT</text>
<rect x="628.7" y="983.9" width="92.9" height="135.6" fill="#fff" stroke="#000" stroke-width="1.6"/>
<path d="M675.1,976.2 V989.6 M672.8,976.2 H677.4 M672.8,989.6 H677.4" stroke="#000" stroke-width="1.5"/>
<rect x="807.1" y="1063.4" width="95.5" height="56.1" fill="#000"/>
<path d="M855,1054.1 V1064 M852.3,1054.1 H857.6" stroke="#000" stroke-width="1.5"/>
<g fill="#000"><path transform="translate(854.7,1035.4) rotate(0)" d="M0,0 L-2.38,-7.33 A2.5,2.5 0 1 1 2.38,-7.33 Z"/><path transform="translate(854.7,1035.4) rotate(60)" d="M0,0 L-2.38,-7.33 A2.5,2.5 0 1 1 2.38,-7.33 Z"/><path transform="translate(854.7,1035.4) rotate(120)" d="M0,0 L-2.38,-7.33 A2.5,2.5 0 1 1 2.38,-7.33 Z"/><path transform="translate(854.7,1035.4) rotate(180)" d="M0,0 L-2.38,-7.33 A2.5,2.5 0 1 1 2.38,-7.33 Z"/><path transform="translate(854.7,1035.4) rotate(240)" d="M0,0 L-2.38,-7.33 A2.5,2.5 0 1 1 2.38,-7.33 Z"/><path transform="translate(854.7,1035.4) rotate(300)" d="M0,0 L-2.38,-7.33 A2.5,2.5 0 1 1 2.38,-7.33 Z"/></g>
<text transform="translate(658.57,1145.2) scale(0.9734,1)" font-size="26.81" fill="#000" >WT</text>
<text transform="translate(835.73,1145.2) scale(1.0272,1)" font-size="26.43" fill="#000" >KO</text>
</svg></body></html>
